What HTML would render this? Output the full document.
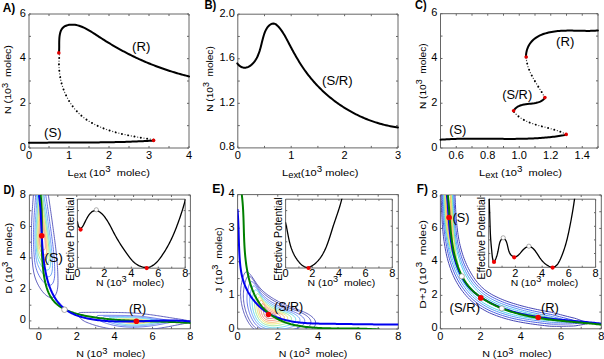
<!DOCTYPE html>
<html><head><meta charset="utf-8"><style>
html,body{margin:0;padding:0;background:#fff;}
svg{display:block;}
text{font-family:"Liberation Sans",sans-serif;}
</style></head><body>
<svg width="604" height="359" viewBox="0 0 604 359">
<rect width="604" height="359" fill="#fff"/>
<path d="M29,14 H189 V148 H29 Z M29,148 v-2.0 M29,14 v2.0 M49,148 v-2.0 M49,14 v2.0 M69,148 v-2.0 M69,14 v2.0 M89,148 v-2.0 M89,14 v2.0 M109,148 v-2.0 M109,14 v2.0 M129,148 v-2.0 M129,14 v2.0 M149,148 v-2.0 M149,14 v2.0 M169,148 v-2.0 M169,14 v2.0 M189,148 v-2.0 M189,14 v2.0 M29,148 h2.0 M189,148 h-2.0 M29,125.67 h2.0 M189,125.67 h-2.0 M29,103.33 h2.0 M189,103.33 h-2.0 M29,81 h2.0 M189,81 h-2.0 M29,58.67 h2.0 M189,58.67 h-2.0 M29,36.33 h2.0 M189,36.33 h-2.0 M29,14 h2.0 M189,14 h-2.0 " fill="none" stroke="#666666" stroke-width="1.0"/>
<text x="29" y="158.9" font-size="10" text-anchor="middle" font-weight="normal" fill="#000" textLength="6.11" lengthAdjust="spacingAndGlyphs">0</text>
<text x="69" y="158.9" font-size="10" text-anchor="middle" font-weight="normal" fill="#000" textLength="6.11" lengthAdjust="spacingAndGlyphs">1</text>
<text x="109" y="158.9" font-size="10" text-anchor="middle" font-weight="normal" fill="#000" textLength="6.11" lengthAdjust="spacingAndGlyphs">2</text>
<text x="149" y="158.9" font-size="10" text-anchor="middle" font-weight="normal" fill="#000" textLength="6.11" lengthAdjust="spacingAndGlyphs">3</text>
<text x="189" y="158.9" font-size="10" text-anchor="middle" font-weight="normal" fill="#000" textLength="6.11" lengthAdjust="spacingAndGlyphs">4</text>
<text x="25.9" y="150.5" font-size="10" text-anchor="end" font-weight="normal" fill="#000" textLength="6.11" lengthAdjust="spacingAndGlyphs">0</text>
<text x="25.9" y="105.83" font-size="10" text-anchor="end" font-weight="normal" fill="#000" textLength="6.11" lengthAdjust="spacingAndGlyphs">2</text>
<text x="25.9" y="61.17" font-size="10" text-anchor="end" font-weight="normal" fill="#000" textLength="6.11" lengthAdjust="spacingAndGlyphs">4</text>
<text x="25.9" y="16.5" font-size="10" text-anchor="end" font-weight="normal" fill="#000" textLength="6.11" lengthAdjust="spacingAndGlyphs">6</text>
<path d="M237.8,14.2 H398 V147.9 H237.8 Z M237.8,147.9 v-2.0 M237.8,14.2 v2.0 M264.5,147.9 v-2.0 M264.5,14.2 v2.0 M291.2,147.9 v-2.0 M291.2,14.2 v2.0 M317.9,147.9 v-2.0 M317.9,14.2 v2.0 M344.6,147.9 v-2.0 M344.6,14.2 v2.0 M371.3,147.9 v-2.0 M371.3,14.2 v2.0 M398,147.9 v-2.0 M398,14.2 v2.0 M237.8,147.9 h2.0 M398,147.9 h-2.0 M237.8,125.62 h2.0 M398,125.62 h-2.0 M237.8,103.33 h2.0 M398,103.33 h-2.0 M237.8,81.05 h2.0 M398,81.05 h-2.0 M237.8,58.77 h2.0 M398,58.77 h-2.0 M237.8,36.48 h2.0 M398,36.48 h-2.0 M237.8,14.2 h2.0 M398,14.2 h-2.0 " fill="none" stroke="#666666" stroke-width="1.0"/>
<text x="237.8" y="158.9" font-size="10" text-anchor="middle" font-weight="normal" fill="#000" textLength="6.11" lengthAdjust="spacingAndGlyphs">0</text>
<text x="291.2" y="158.9" font-size="10" text-anchor="middle" font-weight="normal" fill="#000" textLength="6.11" lengthAdjust="spacingAndGlyphs">1</text>
<text x="344.6" y="158.9" font-size="10" text-anchor="middle" font-weight="normal" fill="#000" textLength="6.11" lengthAdjust="spacingAndGlyphs">2</text>
<text x="398" y="158.9" font-size="10" text-anchor="middle" font-weight="normal" fill="#000" textLength="6.11" lengthAdjust="spacingAndGlyphs">3</text>
<text x="234.8" y="150.4" font-size="10" text-anchor="end" font-weight="normal" fill="#000" textLength="15.27" lengthAdjust="spacingAndGlyphs">0.8</text>
<text x="234.8" y="105.83" font-size="10" text-anchor="end" font-weight="normal" fill="#000" textLength="15.27" lengthAdjust="spacingAndGlyphs">1.2</text>
<text x="234.8" y="61.27" font-size="10" text-anchor="end" font-weight="normal" fill="#000" textLength="15.27" lengthAdjust="spacingAndGlyphs">1.6</text>
<text x="234.8" y="16.7" font-size="10" text-anchor="end" font-weight="normal" fill="#000" textLength="15.27" lengthAdjust="spacingAndGlyphs">2.0</text>
<path d="M440.5,13.7 H598 V148 H440.5 Z M440.5,148 v-2.0 M440.5,13.7 v2.0 M456.25,148 v-2.0 M456.25,13.7 v2.0 M472,148 v-2.0 M472,13.7 v2.0 M487.75,148 v-2.0 M487.75,13.7 v2.0 M503.5,148 v-2.0 M503.5,13.7 v2.0 M519.25,148 v-2.0 M519.25,13.7 v2.0 M535,148 v-2.0 M535,13.7 v2.0 M550.75,148 v-2.0 M550.75,13.7 v2.0 M566.5,148 v-2.0 M566.5,13.7 v2.0 M582.25,148 v-2.0 M582.25,13.7 v2.0 M598,148 v-2.0 M598,13.7 v2.0 M440.5,148 h2.0 M598,148 h-2.0 M440.5,125.62 h2.0 M598,125.62 h-2.0 M440.5,103.23 h2.0 M598,103.23 h-2.0 M440.5,80.85 h2.0 M598,80.85 h-2.0 M440.5,58.47 h2.0 M598,58.47 h-2.0 M440.5,36.08 h2.0 M598,36.08 h-2.0 M440.5,13.7 h2.0 M598,13.7 h-2.0 " fill="none" stroke="#666666" stroke-width="1.0"/>
<text x="456.25" y="158.9" font-size="10" text-anchor="middle" font-weight="normal" fill="#000" textLength="15.27" lengthAdjust="spacingAndGlyphs">0.6</text>
<text x="487.75" y="158.9" font-size="10" text-anchor="middle" font-weight="normal" fill="#000" textLength="15.27" lengthAdjust="spacingAndGlyphs">0.8</text>
<text x="519.25" y="158.9" font-size="10" text-anchor="middle" font-weight="normal" fill="#000" textLength="15.27" lengthAdjust="spacingAndGlyphs">1.0</text>
<text x="550.75" y="158.9" font-size="10" text-anchor="middle" font-weight="normal" fill="#000" textLength="15.27" lengthAdjust="spacingAndGlyphs">1.2</text>
<text x="582.25" y="158.9" font-size="10" text-anchor="middle" font-weight="normal" fill="#000" textLength="15.27" lengthAdjust="spacingAndGlyphs">1.4</text>
<text x="437.4" y="150.5" font-size="10" text-anchor="end" font-weight="normal" fill="#000" textLength="6.11" lengthAdjust="spacingAndGlyphs">0</text>
<text x="437.4" y="105.73" font-size="10" text-anchor="end" font-weight="normal" fill="#000" textLength="6.11" lengthAdjust="spacingAndGlyphs">2</text>
<text x="437.4" y="60.97" font-size="10" text-anchor="end" font-weight="normal" fill="#000" textLength="6.11" lengthAdjust="spacingAndGlyphs">4</text>
<text x="437.4" y="16.2" font-size="10" text-anchor="end" font-weight="normal" fill="#000" textLength="6.11" lengthAdjust="spacingAndGlyphs">6</text>
<path d="M29.4,195 H190.4 V328.8 H29.4 Z M38.87,328.8 v-2.0 M38.87,195 v2.0 M57.81,328.8 v-2.0 M57.81,195 v2.0 M76.75,328.8 v-2.0 M76.75,195 v2.0 M95.69,328.8 v-2.0 M95.69,195 v2.0 M114.64,328.8 v-2.0 M114.64,195 v2.0 M133.58,328.8 v-2.0 M133.58,195 v2.0 M152.52,328.8 v-2.0 M152.52,195 v2.0 M171.46,328.8 v-2.0 M171.46,195 v2.0 M190.4,328.8 v-2.0 M190.4,195 v2.0 M29.4,320.93 h2.0 M190.4,320.93 h-2.0 M29.4,305.19 h2.0 M190.4,305.19 h-2.0 M29.4,289.45 h2.0 M190.4,289.45 h-2.0 M29.4,273.71 h2.0 M190.4,273.71 h-2.0 M29.4,257.96 h2.0 M190.4,257.96 h-2.0 M29.4,242.22 h2.0 M190.4,242.22 h-2.0 M29.4,226.48 h2.0 M190.4,226.48 h-2.0 M29.4,210.74 h2.0 M190.4,210.74 h-2.0 M29.4,195 h2.0 M190.4,195 h-2.0 " fill="none" stroke="#666666" stroke-width="1.0"/>
<text x="38.87" y="339.8" font-size="10" text-anchor="middle" font-weight="normal" fill="#000" textLength="6.11" lengthAdjust="spacingAndGlyphs">0</text>
<text x="76.75" y="339.8" font-size="10" text-anchor="middle" font-weight="normal" fill="#000" textLength="6.11" lengthAdjust="spacingAndGlyphs">2</text>
<text x="114.64" y="339.8" font-size="10" text-anchor="middle" font-weight="normal" fill="#000" textLength="6.11" lengthAdjust="spacingAndGlyphs">4</text>
<text x="152.52" y="339.8" font-size="10" text-anchor="middle" font-weight="normal" fill="#000" textLength="6.11" lengthAdjust="spacingAndGlyphs">6</text>
<text x="190.4" y="339.8" font-size="10" text-anchor="middle" font-weight="normal" fill="#000" textLength="6.11" lengthAdjust="spacingAndGlyphs">8</text>
<text x="25.9" y="323.43" font-size="10" text-anchor="end" font-weight="normal" fill="#000" textLength="6.11" lengthAdjust="spacingAndGlyphs">0</text>
<text x="25.9" y="291.95" font-size="10" text-anchor="end" font-weight="normal" fill="#000" textLength="6.11" lengthAdjust="spacingAndGlyphs">2</text>
<text x="25.9" y="260.46" font-size="10" text-anchor="end" font-weight="normal" fill="#000" textLength="6.11" lengthAdjust="spacingAndGlyphs">4</text>
<text x="25.9" y="228.98" font-size="10" text-anchor="end" font-weight="normal" fill="#000" textLength="6.11" lengthAdjust="spacingAndGlyphs">6</text>
<text x="25.9" y="197.5" font-size="10" text-anchor="end" font-weight="normal" fill="#000" textLength="6.11" lengthAdjust="spacingAndGlyphs">8</text>
<path d="M237.6,194.6 H398.3 V329 H237.6 Z M237.6,329 v-2.0 M237.6,194.6 v2.0 M257.69,329 v-2.0 M257.69,194.6 v2.0 M277.77,329 v-2.0 M277.77,194.6 v2.0 M297.86,329 v-2.0 M297.86,194.6 v2.0 M317.95,329 v-2.0 M317.95,194.6 v2.0 M338.04,329 v-2.0 M338.04,194.6 v2.0 M358.12,329 v-2.0 M358.12,194.6 v2.0 M378.21,329 v-2.0 M378.21,194.6 v2.0 M398.3,329 v-2.0 M398.3,194.6 v2.0 M237.6,329 h2.0 M398.3,329 h-2.0 M237.6,312.2 h2.0 M398.3,312.2 h-2.0 M237.6,295.4 h2.0 M398.3,295.4 h-2.0 M237.6,278.6 h2.0 M398.3,278.6 h-2.0 M237.6,261.8 h2.0 M398.3,261.8 h-2.0 M237.6,245 h2.0 M398.3,245 h-2.0 M237.6,228.2 h2.0 M398.3,228.2 h-2.0 M237.6,211.4 h2.0 M398.3,211.4 h-2.0 M237.6,194.6 h2.0 M398.3,194.6 h-2.0 " fill="none" stroke="#666666" stroke-width="1.0"/>
<text x="237.6" y="339.8" font-size="10" text-anchor="middle" font-weight="normal" fill="#000" textLength="6.11" lengthAdjust="spacingAndGlyphs">0</text>
<text x="277.77" y="339.8" font-size="10" text-anchor="middle" font-weight="normal" fill="#000" textLength="6.11" lengthAdjust="spacingAndGlyphs">2</text>
<text x="317.95" y="339.8" font-size="10" text-anchor="middle" font-weight="normal" fill="#000" textLength="6.11" lengthAdjust="spacingAndGlyphs">4</text>
<text x="358.12" y="339.8" font-size="10" text-anchor="middle" font-weight="normal" fill="#000" textLength="6.11" lengthAdjust="spacingAndGlyphs">6</text>
<text x="398.3" y="339.8" font-size="10" text-anchor="middle" font-weight="normal" fill="#000" textLength="6.11" lengthAdjust="spacingAndGlyphs">8</text>
<text x="234.6" y="331.5" font-size="10" text-anchor="end" font-weight="normal" fill="#000" textLength="6.11" lengthAdjust="spacingAndGlyphs">0</text>
<text x="234.6" y="297.9" font-size="10" text-anchor="end" font-weight="normal" fill="#000" textLength="6.11" lengthAdjust="spacingAndGlyphs">1</text>
<text x="234.6" y="264.3" font-size="10" text-anchor="end" font-weight="normal" fill="#000" textLength="6.11" lengthAdjust="spacingAndGlyphs">2</text>
<text x="234.6" y="230.7" font-size="10" text-anchor="end" font-weight="normal" fill="#000" textLength="6.11" lengthAdjust="spacingAndGlyphs">3</text>
<text x="234.6" y="197.1" font-size="10" text-anchor="end" font-weight="normal" fill="#000" textLength="6.11" lengthAdjust="spacingAndGlyphs">4</text>
<path d="M440.4,195 H601.3 V328.8 H440.4 Z M440.4,328.8 v-2.0 M440.4,195 v2.0 M460.51,328.8 v-2.0 M460.51,195 v2.0 M480.62,328.8 v-2.0 M480.62,195 v2.0 M500.74,328.8 v-2.0 M500.74,195 v2.0 M520.85,328.8 v-2.0 M520.85,195 v2.0 M540.96,328.8 v-2.0 M540.96,195 v2.0 M561.07,328.8 v-2.0 M561.07,195 v2.0 M581.19,328.8 v-2.0 M581.19,195 v2.0 M601.3,328.8 v-2.0 M601.3,195 v2.0 M440.4,328.8 h2.0 M601.3,328.8 h-2.0 M440.4,312.07 h2.0 M601.3,312.07 h-2.0 M440.4,295.35 h2.0 M601.3,295.35 h-2.0 M440.4,278.62 h2.0 M601.3,278.62 h-2.0 M440.4,261.9 h2.0 M601.3,261.9 h-2.0 M440.4,245.18 h2.0 M601.3,245.18 h-2.0 M440.4,228.45 h2.0 M601.3,228.45 h-2.0 M440.4,211.72 h2.0 M601.3,211.72 h-2.0 M440.4,195 h2.0 M601.3,195 h-2.0 " fill="none" stroke="#666666" stroke-width="1.0"/>
<text x="440.4" y="339.8" font-size="10" text-anchor="middle" font-weight="normal" fill="#000" textLength="6.11" lengthAdjust="spacingAndGlyphs">0</text>
<text x="480.62" y="339.8" font-size="10" text-anchor="middle" font-weight="normal" fill="#000" textLength="6.11" lengthAdjust="spacingAndGlyphs">2</text>
<text x="520.85" y="339.8" font-size="10" text-anchor="middle" font-weight="normal" fill="#000" textLength="6.11" lengthAdjust="spacingAndGlyphs">4</text>
<text x="561.07" y="339.8" font-size="10" text-anchor="middle" font-weight="normal" fill="#000" textLength="6.11" lengthAdjust="spacingAndGlyphs">6</text>
<text x="601.3" y="339.8" font-size="10" text-anchor="middle" font-weight="normal" fill="#000" textLength="6.11" lengthAdjust="spacingAndGlyphs">8</text>
<text x="437.6" y="331.3" font-size="10" text-anchor="end" font-weight="normal" fill="#000" textLength="6.11" lengthAdjust="spacingAndGlyphs">0</text>
<text x="437.6" y="297.85" font-size="10" text-anchor="end" font-weight="normal" fill="#000" textLength="6.11" lengthAdjust="spacingAndGlyphs">2</text>
<text x="437.6" y="264.4" font-size="10" text-anchor="end" font-weight="normal" fill="#000" textLength="6.11" lengthAdjust="spacingAndGlyphs">4</text>
<text x="437.6" y="230.95" font-size="10" text-anchor="end" font-weight="normal" fill="#000" textLength="6.11" lengthAdjust="spacingAndGlyphs">6</text>
<text x="437.6" y="197.5" font-size="10" text-anchor="end" font-weight="normal" fill="#000" textLength="6.11" lengthAdjust="spacingAndGlyphs">8</text>
<text x="2.7" y="11.9" font-size="12.5" font-weight="bold" textLength="12.6" lengthAdjust="spacingAndGlyphs">A)</text>
<text x="204.4" y="8.9" font-size="12.5" font-weight="bold" textLength="11.9" lengthAdjust="spacingAndGlyphs">B)</text>
<text x="415" y="9.3" font-size="12.5" font-weight="bold" textLength="11.6" lengthAdjust="spacingAndGlyphs">C)</text>
<text x="3.4" y="193.9" font-size="12.5" font-weight="bold" textLength="11.2" lengthAdjust="spacingAndGlyphs">D)</text>
<text x="212.3" y="192.9" font-size="12.5" font-weight="bold" textLength="12.3" lengthAdjust="spacingAndGlyphs">E)</text>
<text x="416.7" y="192.6" font-size="12.5" font-weight="bold" textLength="11.2" lengthAdjust="spacingAndGlyphs">F)</text>
<text x="67.6" y="175.7" font-size="9.8" textLength="82.3" lengthAdjust="spacingAndGlyphs"><tspan dy="-0" font-size="9.8">L</tspan><tspan dy="2" font-size="8.33">ext</tspan><tspan dy="-2" font-size="9.8"> (10</tspan><tspan dy="-3.8" font-size="8.62">3</tspan><tspan dy="3.8" font-size="9.8">  molec)</tspan></text>
<text x="282" y="175.9" font-size="9.8" textLength="76.4" lengthAdjust="spacingAndGlyphs"><tspan dy="-0" font-size="9.8">L</tspan><tspan dy="2" font-size="8.33">ext</tspan><tspan dy="-2" font-size="9.8">(10</tspan><tspan dy="-3.8" font-size="8.62">3</tspan><tspan dy="3.8" font-size="9.8"> molec)</tspan></text>
<text x="479.1" y="176" font-size="9.8" textLength="82.8" lengthAdjust="spacingAndGlyphs"><tspan dy="-0" font-size="9.8">L</tspan><tspan dy="2" font-size="8.33">ext</tspan><tspan dy="-2" font-size="9.8"> (10</tspan><tspan dy="-3.8" font-size="8.62">3</tspan><tspan dy="3.8" font-size="9.8">  molec)</tspan></text>
<text x="76.2" y="357.3" font-size="9.8" textLength="69" lengthAdjust="spacingAndGlyphs"><tspan dy="-0" font-size="9.8">N (10</tspan><tspan dy="-3.8" font-size="8.62">3</tspan><tspan dy="3.8" font-size="9.8">  molec)</tspan></text>
<text x="278.8" y="357.3" font-size="9.8" textLength="68.6" lengthAdjust="spacingAndGlyphs"><tspan dy="-0" font-size="9.8">N (10</tspan><tspan dy="-3.8" font-size="8.62">3</tspan><tspan dy="3.8" font-size="9.8">  molec)</tspan></text>
<text x="482.2" y="357.3" font-size="9.8" textLength="69.3" lengthAdjust="spacingAndGlyphs"><tspan dy="-0" font-size="9.8">N (10</tspan><tspan dy="-3.8" font-size="8.62">3</tspan><tspan dy="3.8" font-size="9.8">  molec)</tspan></text>
<text transform="translate(11.4 114) rotate(-90)" x="0" y="0" font-size="9.8" textLength="68.9" lengthAdjust="spacingAndGlyphs"><tspan dy="-0" font-size="9.8">N (10</tspan><tspan dy="-3.8" font-size="8.62">3</tspan><tspan dy="3.8" font-size="9.8">  molec)</tspan></text>
<text transform="translate(212.9 111.8) rotate(-90)" x="0" y="0" font-size="9.8" textLength="65.6" lengthAdjust="spacingAndGlyphs"><tspan dy="-0" font-size="9.8">N (10</tspan><tspan dy="-3.8" font-size="8.62">3</tspan><tspan dy="3.8" font-size="9.8">  molec)</tspan></text>
<text transform="translate(425.6 109) rotate(-90)" x="0" y="0" font-size="9.8" textLength="65.6" lengthAdjust="spacingAndGlyphs"><tspan dy="-0" font-size="9.8">N (10</tspan><tspan dy="-3.8" font-size="8.62">3</tspan><tspan dy="3.8" font-size="9.8">  molec)</tspan></text>
<text transform="translate(11.8 293.7) rotate(-90)" x="0" y="0" font-size="9.8" textLength="70.9" lengthAdjust="spacingAndGlyphs"><tspan dy="-0" font-size="9.8">D (10</tspan><tspan dy="-3.8" font-size="8.62">3</tspan><tspan dy="3.8" font-size="9.8">  molec)</tspan></text>
<text transform="translate(222.2 292.9) rotate(-90)" x="0" y="0" font-size="9.8" textLength="65.6" lengthAdjust="spacingAndGlyphs"><tspan dy="-0" font-size="9.8">J (10</tspan><tspan dy="-3.8" font-size="8.62">3</tspan><tspan dy="3.8" font-size="9.8">  molec)</tspan></text>
<text transform="translate(425.8 308.8) rotate(-90)" x="0" y="0" font-size="9.8" textLength="88.7" lengthAdjust="spacingAndGlyphs"><tspan dy="-0" font-size="9.8">D+J (10</tspan><tspan dy="-3.8" font-size="8.62">3</tspan><tspan dy="3.8" font-size="9.8">  molec)</tspan></text>
<text x="132.1" y="50.62" font-size="12.5" textLength="18.4" lengthAdjust="spacingAndGlyphs">(R)</text>
<text x="44.1" y="137.22" font-size="12.5" textLength="17.4" lengthAdjust="spacingAndGlyphs">(S)</text>
<text x="322" y="84.83" font-size="12.5" textLength="30.7" lengthAdjust="spacingAndGlyphs">(S/R)</text>
<text x="449.3" y="134.03" font-size="12.5" textLength="17.1" lengthAdjust="spacingAndGlyphs">(S)</text>
<text x="502.2" y="99.42" font-size="12.5" textLength="30" lengthAdjust="spacingAndGlyphs">(S/R)</text>
<text x="556" y="45.73" font-size="12.5" textLength="18.3" lengthAdjust="spacingAndGlyphs">(R)</text>
<path d="M29,142.81 L30.52,142.79 L32.04,142.77 L33.56,142.75 L35.08,142.73 L36.6,142.71 L38.12,142.7 L39.64,142.68 L41.16,142.67 L42.68,142.66 L44.2,142.65 L45.72,142.64 L47.24,142.63 L48.76,142.62 L50.28,142.61 L51.8,142.6 L53.32,142.6 L54.84,142.59 L56.36,142.58 L57.88,142.58 L59.4,142.57 L60.92,142.57 L62.44,142.56 L63.96,142.56 L65.48,142.56 L67,142.55 L68.52,142.55 L70.04,142.54 L71.56,142.54 L73.08,142.54 L74.6,142.53 L76.12,142.53 L77.64,142.52 L79.16,142.52 L80.69,142.51 L82.21,142.5 L83.73,142.5 L85.25,142.49 L86.77,142.48 L88.29,142.47 L89.81,142.46 L91.33,142.45 L92.85,142.44 L94.37,142.43 L95.89,142.41 L97.41,142.4 L98.93,142.38 L100.45,142.37 L101.97,142.35 L103.49,142.33 L105.01,142.31 L106.53,142.28 L108.05,142.26 L109.57,142.23 L111.09,142.21 L112.61,142.18 L114.13,142.15 L115.65,142.11 L117.17,142.08 L118.69,142.04 L120.21,142 L121.73,141.96 L123.25,141.92 L124.77,141.88 L126.29,141.83 L127.81,141.78 L129.33,141.73 L130.84,141.67 L132.36,141.62 L133.88,141.56 L135.4,141.5 L136.92,141.43 L138.44,141.36 L139.95,141.29 L141.47,141.22 L142.99,141.15 L144.51,141.07 L146.02,140.99 L147.54,140.9 L149.06,140.81 L150.58,140.72 L152.09,140.63 L153.61,140.53" fill="none" stroke="#000" stroke-width="2.0" stroke-linecap="round" stroke-linejoin="round"/>
<path d="M153.46,139.69 L152.07,139.47 L150.66,139.25 L149.24,139.03 L147.81,138.81 L146.36,138.58 L144.91,138.35 L143.44,138.11 L141.97,137.87 L140.48,137.63 L138.99,137.37 L137.49,137.11 L135.98,136.85 L134.47,136.58 L132.95,136.3 L131.43,136.01 L129.9,135.71 L128.38,135.4 L126.85,135.08 L125.32,134.75 L123.79,134.41 L122.26,134.05 L120.74,133.69 L119.21,133.31 L117.69,132.92 L116.18,132.51 L114.66,132.09 L113.16,131.65 L111.66,131.2 L110.17,130.73 L108.69,130.25 L107.21,129.75 L105.75,129.22 L104.29,128.69 L102.85,128.13 L101.42,127.55 L100,126.95 L98.6,126.33 L97.21,125.69 L95.84,125.03 L94.48,124.35 L93.14,123.64 L91.82,122.91 L90.52,122.16 L89.24,121.38 L87.98,120.57 L86.74,119.74 L85.52,118.89 L84.32,118.01 L83.15,117.1 L82,116.16 L80.88,115.19 L79.78,114.2 L78.71,113.18 L77.67,112.13 L76.65,111.06 L75.66,109.96 L74.69,108.83 L73.76,107.69 L72.84,106.51 L71.96,105.32 L71.1,104.1 L70.27,102.86 L69.47,101.6 L68.7,100.32 L67.95,99.02 L67.24,97.7 L66.55,96.36 L65.89,95.01 L65.26,93.63 L64.65,92.24 L64.08,90.84 L63.54,89.42 L63.02,87.98 L62.54,86.53 L62.09,85.07 L61.66,83.6 L61.27,82.11 L60.9,80.61 L60.57,79.1 L60.27,77.58 L60,76.05 L59.76,74.51 L59.55,72.96 L59.37,71.41 L59.23,69.85 L59.12,68.28 L59.04,66.71 L58.99,65.13 L58.97,63.55 L58.99,61.96 L59.04,60.37 L59.12,58.78 L59.24,57.19 L59.39,55.59 L59.57,54 L59.79,52.4" fill="none" stroke="#000" stroke-width="2.0" stroke-linecap="round" stroke-dasharray="0.01 6.4"/>
<path d="M153.46,139.69 L152.07,139.47 L150.66,139.25 L149.24,139.03 L147.81,138.81 L146.36,138.58 L144.91,138.35 L143.44,138.11 L141.97,137.87 L140.48,137.63 L138.99,137.37 L137.49,137.11 L135.98,136.85 L134.47,136.58 L132.95,136.3 L131.43,136.01 L129.9,135.71 L128.38,135.4 L126.85,135.08 L125.32,134.75 L123.79,134.41 L122.26,134.05 L120.74,133.69 L119.21,133.31 L117.69,132.92 L116.18,132.51 L114.66,132.09 L113.16,131.65 L111.66,131.2 L110.17,130.73 L108.69,130.25 L107.21,129.75 L105.75,129.22 L104.29,128.69 L102.85,128.13 L101.42,127.55 L100,126.95 L98.6,126.33 L97.21,125.69 L95.84,125.03 L94.48,124.35 L93.14,123.64 L91.82,122.91 L90.52,122.16 L89.24,121.38 L87.98,120.57 L86.74,119.74 L85.52,118.89 L84.32,118.01 L83.15,117.1 L82,116.16 L80.88,115.19 L79.78,114.2 L78.71,113.18 L77.67,112.13 L76.65,111.06 L75.66,109.96 L74.69,108.83 L73.76,107.69 L72.84,106.51 L71.96,105.32 L71.1,104.1 L70.27,102.86 L69.47,101.6 L68.7,100.32 L67.95,99.02 L67.24,97.7 L66.55,96.36 L65.89,95.01 L65.26,93.63 L64.65,92.24 L64.08,90.84 L63.54,89.42 L63.02,87.98 L62.54,86.53 L62.09,85.07 L61.66,83.6 L61.27,82.11 L60.9,80.61 L60.57,79.1 L60.27,77.58 L60,76.05 L59.76,74.51 L59.55,72.96 L59.37,71.41 L59.23,69.85 L59.12,68.28 L59.04,66.71 L58.99,65.13 L58.97,63.55 L58.99,61.96 L59.04,60.37 L59.12,58.78 L59.24,57.19 L59.39,55.59 L59.57,54 L59.79,52.4" fill="none" stroke="#444" stroke-width="1.3" stroke-linecap="round" stroke-dasharray="0.01 6.4" stroke-dashoffset="-3.2"/>
<path d="M58.9,52.87 L59.05,51.7 L59.13,50.38 L59.18,48.94 L59.2,47.39 L59.2,45.77 L59.2,44.09 L59.21,42.37 L59.25,40.63 L59.33,38.89 L59.46,37.17 L59.67,35.49 L59.95,33.88 L60.34,32.35 L60.83,30.93 L61.45,29.63 L62.21,28.47 L63.13,27.48 L64.19,26.66 L65.37,25.99 L66.65,25.48 L67.99,25.1 L69.38,24.84 L70.78,24.7 L72.17,24.65 L73.55,24.7 L74.93,24.84 L76.31,25.07 L77.68,25.37 L79.04,25.75 L80.4,26.2 L81.75,26.71 L83.1,27.29 L84.45,27.91 L85.79,28.58 L87.13,29.3 L88.47,30.05 L89.8,30.84 L91.13,31.65 L92.46,32.49 L93.79,33.34 L95.11,34.2 L96.43,35.08 L97.76,35.95 L99.08,36.81 L100.4,37.67 L101.72,38.53 L103.04,39.37 L104.36,40.2 L105.68,41.03 L107,41.85 L108.32,42.65 L109.65,43.46 L110.97,44.25 L112.29,45.03 L113.61,45.81 L114.94,46.58 L116.26,47.34 L117.59,48.09 L118.91,48.83 L120.24,49.57 L121.57,50.3 L122.9,51.02 L124.23,51.73 L125.57,52.43 L126.9,53.13 L128.24,53.82 L129.58,54.5 L130.92,55.17 L132.26,55.84 L133.61,56.49 L134.96,57.14 L136.31,57.78 L137.66,58.42 L139.02,59.04 L140.38,59.66 L141.74,60.27 L143.11,60.88 L144.47,61.47 L145.85,62.06 L147.22,62.64 L148.6,63.22 L149.98,63.79 L151.37,64.34 L152.76,64.9 L154.15,65.44 L155.55,65.98 L156.95,66.51 L158.36,67.03 L159.77,67.55 L161.18,68.06 L162.6,68.56 L164.03,69.05 L165.46,69.54 L166.89,70.02 L168.33,70.5 L169.77,70.96 L171.22,71.42 L172.68,71.87 L174.14,72.32 L175.6,72.76 L177.08,73.19 L178.55,73.62 L180.04,74.04 L181.53,74.45 L183.02,74.85 L184.53,75.25 L186.03,75.65 L187.55,76.03 L189.07,76.41" fill="none" stroke="#000" stroke-width="2.0" stroke-linecap="round" stroke-linejoin="round"/>
<circle cx="58.8" cy="52.9" r="1.8" fill="#e00000"/>
<circle cx="153.6" cy="140.4" r="1.8" fill="#e00000"/>
<path d="M237.26,63.4 L238.43,64.81 L239.64,65.92 L240.87,66.76 L242.13,67.33 L243.4,67.65 L244.67,67.75 L245.94,67.63 L247.2,67.31 L248.43,66.81 L249.64,66.14 L250.82,65.32 L251.95,64.37 L253.03,63.3 L254.05,62.13 L255,60.87 L255.87,59.55 L256.67,58.16 L257.39,56.73 L258.05,55.25 L258.66,53.73 L259.21,52.18 L259.72,50.6 L260.19,49.01 L260.63,47.41 L261.05,45.8 L261.45,44.19 L261.84,42.59 L262.23,41.01 L262.63,39.45 L263.03,37.91 L263.45,36.41 L263.89,34.95 L264.36,33.54 L264.88,32.18 L265.43,30.89 L266.04,29.66 L266.7,28.51 L267.43,27.43 L268.23,26.45 L269.11,25.55 L270.07,24.77 L271.1,24.13 L272.18,23.69 L273.29,23.52 L274.41,23.64 L275.53,24.13 L276.63,24.92 L277.7,25.91 L278.72,27.01 L279.7,28.17 L280.64,29.37 L281.55,30.6 L282.42,31.88 L283.25,33.18 L284.07,34.51 L284.85,35.86 L285.62,37.23 L286.38,38.62 L287.12,40.01 L287.85,41.4 L288.58,42.8 L289.31,44.19 L290.04,45.57 L290.77,46.95 L291.5,48.32 L292.23,49.69 L292.97,51.05 L293.71,52.4 L294.46,53.74 L295.21,55.08 L295.97,56.41 L296.73,57.73 L297.51,59.04 L298.29,60.34 L299.07,61.64 L299.87,62.93 L300.68,64.21 L301.5,65.48 L302.33,66.74 L303.17,67.99 L304.02,69.24 L304.89,70.47 L305.77,71.69 L306.66,72.91 L307.57,74.11 L308.49,75.31 L309.43,76.49 L310.37,77.66 L311.33,78.83 L312.3,79.98 L313.29,81.12 L314.28,82.26 L315.29,83.38 L316.31,84.49 L317.35,85.59 L318.39,86.68 L319.45,87.75 L320.52,88.82 L321.6,89.87 L322.69,90.92 L323.79,91.95 L324.91,92.97 L326.03,93.97 L327.17,94.97 L328.31,95.95 L329.47,96.92 L330.64,97.88 L331.81,98.83 L333,99.76 L334.2,100.69 L335.41,101.59 L336.63,102.49 L337.85,103.37 L339.09,104.24 L340.33,105.1 L341.59,105.94 L342.85,106.77 L344.13,107.59 L345.41,108.39 L346.7,109.18 L348,109.95 L349.31,110.71 L350.63,111.46 L351.95,112.19 L353.28,112.91 L354.62,113.61 L355.97,114.3 L357.33,114.97 L358.69,115.63 L360.06,116.28 L361.44,116.91 L362.83,117.52 L364.22,118.12 L365.62,118.71 L367.03,119.27 L368.44,119.83 L369.86,120.36 L371.29,120.88 L372.72,121.39 L374.16,121.88 L375.6,122.35 L377.05,122.81 L378.51,123.25 L379.97,123.68 L381.44,124.08 L382.91,124.47 L384.39,124.85 L385.87,125.21 L387.36,125.55 L388.85,125.87 L390.35,126.17 L391.85,126.46 L393.36,126.73 L394.87,126.99 L396.38,127.22 L397.9,127.44" fill="none" stroke="#000" stroke-width="2.0" stroke-linecap="round" stroke-linejoin="round"/>
<path d="M440.5,139.72 L442.01,139.61 L443.52,139.5 L445.03,139.4 L446.53,139.31 L448.04,139.23 L449.56,139.15 L451.07,139.08 L452.58,139.01 L454.09,138.95 L455.61,138.9 L457.12,138.85 L458.64,138.81 L460.16,138.77 L461.67,138.74 L463.19,138.71 L464.71,138.69 L466.23,138.67 L467.75,138.66 L469.27,138.65 L470.79,138.64 L472.31,138.63 L473.84,138.63 L475.36,138.64 L476.88,138.64 L478.4,138.65 L479.93,138.65 L481.45,138.66 L482.98,138.68 L484.5,138.69 L486.03,138.7 L487.55,138.72 L489.07,138.74 L490.6,138.75 L492.12,138.77 L493.65,138.78 L495.18,138.8 L496.7,138.82 L498.23,138.83 L499.75,138.85 L501.28,138.86 L502.8,138.87 L504.33,138.88 L505.85,138.89 L507.37,138.89 L508.9,138.89 L510.42,138.89 L511.94,138.89 L513.47,138.88 L514.99,138.88 L516.51,138.86 L518.03,138.85 L519.56,138.82 L521.08,138.8 L522.6,138.77 L524.12,138.73 L525.64,138.69 L527.15,138.65 L528.67,138.6 L530.19,138.54 L531.71,138.48 L533.22,138.41 L534.74,138.34 L536.25,138.26 L537.76,138.17 L539.28,138.07 L540.79,137.97 L542.3,137.86 L543.81,137.74 L545.32,137.61 L546.82,137.48 L548.33,137.33 L549.84,137.18 L551.34,137.02 L552.84,136.85 L554.35,136.67 L555.85,136.48 L557.35,136.28 L558.85,136.06 L560.34,135.84 L561.84,135.61 L563.33,135.37 L564.83,135.11 L566.32,134.85" fill="none" stroke="#000" stroke-width="2.0" stroke-linecap="round" stroke-linejoin="round"/>
<path d="M566.19,134.41 L564.88,133.73 L563.54,133.09 L562.17,132.48 L560.77,131.91 L559.35,131.37 L557.9,130.86 L556.44,130.37 L554.96,129.91 L553.46,129.46 L551.94,129.03 L550.42,128.61 L548.88,128.2 L547.34,127.8 L545.8,127.4 L544.25,127 L542.7,126.6 L541.16,126.2 L539.62,125.78 L538.09,125.36 L536.56,124.92 L535.05,124.46 L533.55,123.98 L532.07,123.48 L530.6,122.95 L529.16,122.39 L527.73,121.8 L526.34,121.17 L524.97,120.5 L523.63,119.79 L522.32,119.04 L521.05,118.24 L519.81,117.38 L518.61,116.47 L517.45,115.51 L516.34,114.48 L515.27,113.4 L514.25,112.24 L513.28,111.02" fill="none" stroke="#000" stroke-width="2.0" stroke-linecap="round" stroke-dasharray="0.01 6.4"/>
<path d="M566.19,134.41 L564.88,133.73 L563.54,133.09 L562.17,132.48 L560.77,131.91 L559.35,131.37 L557.9,130.86 L556.44,130.37 L554.96,129.91 L553.46,129.46 L551.94,129.03 L550.42,128.61 L548.88,128.2 L547.34,127.8 L545.8,127.4 L544.25,127 L542.7,126.6 L541.16,126.2 L539.62,125.78 L538.09,125.36 L536.56,124.92 L535.05,124.46 L533.55,123.98 L532.07,123.48 L530.6,122.95 L529.16,122.39 L527.73,121.8 L526.34,121.17 L524.97,120.5 L523.63,119.79 L522.32,119.04 L521.05,118.24 L519.81,117.38 L518.61,116.47 L517.45,115.51 L516.34,114.48 L515.27,113.4 L514.25,112.24 L513.28,111.02" fill="none" stroke="#444" stroke-width="1.3" stroke-linecap="round" stroke-dasharray="0.01 6.4" stroke-dashoffset="-3.2"/>
<path d="M513.57,110.75 L514.54,109.38 L515.64,108.22 L516.86,107.25 L518.17,106.45 L519.57,105.79 L521.05,105.26 L522.59,104.84 L524.18,104.51 L525.81,104.25 L527.47,104.03 L529.14,103.84 L530.82,103.66 L532.48,103.46 L534.12,103.23 L535.73,102.95 L537.3,102.59 L538.8,102.14 L540.23,101.57 L541.58,100.87 L542.84,100.01 L543.98,98.98 L545.01,97.75" fill="none" stroke="#000" stroke-width="2.0" stroke-linecap="round" stroke-linejoin="round"/>
<path d="M544.83,97.62 L544.1,96.27 L543.35,94.93 L542.57,93.59 L541.78,92.26 L540.97,90.93 L540.15,89.6 L539.33,88.27 L538.49,86.94 L537.66,85.61 L536.83,84.28 L536.01,82.94 L535.19,81.6 L534.39,80.25 L533.61,78.9 L532.84,77.54 L532.1,76.16 L531.38,74.78 L530.7,73.38 L530.05,71.98 L529.43,70.56 L528.86,69.12 L528.33,67.67 L527.85,66.2 L527.42,64.72 L527.05,63.21 L526.73,61.69 L526.48,60.14 L526.29,58.57 L526.17,56.98" fill="none" stroke="#000" stroke-width="2.0" stroke-linecap="round" stroke-dasharray="0.01 6.4"/>
<path d="M544.83,97.62 L544.1,96.27 L543.35,94.93 L542.57,93.59 L541.78,92.26 L540.97,90.93 L540.15,89.6 L539.33,88.27 L538.49,86.94 L537.66,85.61 L536.83,84.28 L536.01,82.94 L535.19,81.6 L534.39,80.25 L533.61,78.9 L532.84,77.54 L532.1,76.16 L531.38,74.78 L530.7,73.38 L530.05,71.98 L529.43,70.56 L528.86,69.12 L528.33,67.67 L527.85,66.2 L527.42,64.72 L527.05,63.21 L526.73,61.69 L526.48,60.14 L526.29,58.57 L526.17,56.98" fill="none" stroke="#444" stroke-width="1.3" stroke-linecap="round" stroke-dasharray="0.01 6.4" stroke-dashoffset="-3.2"/>
<path d="M525.88,57.19 L525.98,55.35 L526.18,53.59 L526.47,51.91 L526.86,50.32 L527.33,48.8 L527.89,47.36 L528.53,46 L529.24,44.71 L530.04,43.5 L530.9,42.35 L531.83,41.27 L532.83,40.26 L533.88,39.31 L534.99,38.43 L536.16,37.6 L537.38,36.83 L538.64,36.12 L539.95,35.46 L541.29,34.86 L542.68,34.3 L544.09,33.8 L545.54,33.34 L547.01,32.92 L548.51,32.54 L550.02,32.21 L551.55,31.92 L553.09,31.66 L554.65,31.43 L556.22,31.24 L557.8,31.08 L559.39,30.94 L560.98,30.84 L562.58,30.75 L564.19,30.69 L565.8,30.64 L567.42,30.62 L569.03,30.6 L570.64,30.61 L572.25,30.62 L573.86,30.64 L575.46,30.67 L577.05,30.7 L578.64,30.74 L580.21,30.77 L581.78,30.81 L583.33,30.84 L584.87,30.87 L586.4,30.88 L587.91,30.89 L589.4,30.88 L590.87,30.87 L592.32,30.83 L593.75,30.78 L595.15,30.7 L596.53,30.6 L597.88,30.48" fill="none" stroke="#000" stroke-width="2.0" stroke-linecap="round" stroke-linejoin="round"/>
<circle cx="566.2" cy="134.4" r="1.8" fill="#e00000"/>
<circle cx="513.6" cy="110.8" r="1.8" fill="#e00000"/>
<circle cx="544.9" cy="97.6" r="1.8" fill="#e00000"/>
<circle cx="526.2" cy="57" r="1.8" fill="#e00000"/>
<defs>
<clipPath id="cD"><rect x="29.4" y="195" width="161" height="133.8"/></clipPath>
<clipPath id="cE"><rect x="237.6" y="194.6" width="160.7" height="134.4"/></clipPath>
<clipPath id="cF"><rect x="440.4" y="195" width="160.9" height="133.8"/></clipPath>
</defs>
<g clip-path="url(#cD)">
<path d="M38.95,139.18 L39.95,139.51 L40.94,140.51 L41.8,141.92 L42.47,143.57 L42.98,145.43 L43.35,147.45 L43.61,149.62 L43.77,151.9 L43.88,154.25 L43.94,156.65 L43.98,159.06 L44.03,161.45 L44.11,163.78 L44.24,166.04 L44.41,168.24 L44.61,170.39 L44.85,172.5 L45.11,174.56 L45.39,176.6 L45.7,178.61 L46.01,180.61 L46.34,182.6 L46.67,184.6 L47,186.6 L47.33,188.62 L47.65,190.66 L47.97,192.71 L48.29,194.77 L48.61,196.84 L48.93,198.91 L49.24,201 L49.55,203.09 L49.86,205.19 L50.16,207.3 L50.47,209.4 L50.77,211.51 L51.07,213.62 L51.37,215.73 L51.66,217.84 L51.96,219.94 L52.25,222.04 L52.54,224.14 L52.83,226.23 L53.12,228.31 L53.41,230.38 L53.69,232.44 L53.97,234.5 L54.25,236.56 L54.53,238.61 L54.8,240.65 L55.06,242.7 L55.32,244.74 L55.57,246.79 L55.81,248.83 L56.04,250.88 L56.27,252.93 L56.48,254.99 L56.68,257.05 L56.87,259.12 L57.05,261.2 L57.22,263.29 L57.37,265.39 L57.51,267.5 L57.63,269.62 L57.73,271.76 L57.82,273.91 L57.89,276.08 L57.95,278.26 L57.98,280.47 L57.98,282.68 L57.9,284.88 L57.74,287.06 L57.44,289.2 L56.99,291.28 L56.36,293.25 L55.52,294.98 L54.46,296.34 L53.17,297.21 L51.67,297.56 L50.08,297.41 L48.47,296.82 L46.86,295.86 L45.26,294.57 L43.71,293.01 L42.22,291.24 L40.81,289.31 L39.51,287.28 L38.32,285.21 L37.28,283.14 L36.37,281.09 L35.59,279.06 L34.92,277.03 L34.36,275.02 L33.88,273.01 L33.49,271 L33.16,269 L32.89,266.99 L32.66,264.99 L32.46,262.97 L32.29,260.95 L32.13,258.91 L31.99,256.87 L31.86,254.81 L31.75,252.75 L31.65,250.68 L31.57,248.61 L31.5,246.53 L31.45,244.44 L31.41,242.34 L31.38,240.24 L31.36,238.14 L31.36,236.03 L31.37,233.92 L31.4,231.81 L31.43,229.69 L31.48,227.57 L31.54,225.46 L31.61,223.34 L31.69,221.22 L31.78,219.1 L31.88,216.98 L31.99,214.87 L32.11,212.76 L32.24,210.65 L32.38,208.54 L32.53,206.44 L32.69,204.34 L32.84,202.24 L33,200.15 L33.16,198.06 L33.31,195.98 L33.46,193.89 L33.6,191.81 L33.73,189.73 L33.85,187.66 L33.96,185.59 L34.05,183.52 L34.12,181.45 L34.17,179.38 L34.19,177.32 L34.19,175.26 L34.17,173.2 L34.12,171.14 L34.07,169.07 L34.02,167 L33.98,164.91 L33.97,162.8 L33.98,160.68 L34.04,158.53 L34.15,156.36 L34.33,154.15 L34.57,151.91 L34.9,149.63 L35.32,147.31 L35.84,144.98 L36.47,142.8 L37.19,140.98 L38.02,139.71 L38.95,139.18Z" fill="none" stroke="#4646b4" stroke-width="0.85" stroke-opacity="1.0" stroke-linejoin="round"/>
<path d="M39.52,158.64 L40.32,158.91 L41.11,159.71 L41.8,160.84 L42.34,162.16 L42.75,163.64 L43.04,165.26 L43.25,167 L43.38,168.82 L43.46,170.7 L43.51,172.62 L43.54,174.55 L43.58,176.46 L43.65,178.32 L43.75,180.13 L43.89,181.9 L44.05,183.61 L44.24,185.3 L44.45,186.95 L44.68,188.58 L44.92,190.19 L45.17,191.79 L45.43,193.38 L45.7,194.98 L45.96,196.58 L46.22,198.2 L46.48,199.83 L46.74,201.47 L47,203.11 L47.25,204.77 L47.5,206.43 L47.75,208.1 L48,209.77 L48.25,211.45 L48.49,213.14 L48.73,214.82 L48.97,216.51 L49.21,218.2 L49.45,219.88 L49.69,221.57 L49.92,223.25 L50.16,224.93 L50.39,226.61 L50.62,228.28 L50.86,229.95 L51.08,231.6 L51.31,233.26 L51.54,234.9 L51.76,236.55 L51.98,238.19 L52.2,239.82 L52.41,241.46 L52.61,243.09 L52.81,244.73 L53.01,246.36 L53.19,248 L53.37,249.65 L53.54,251.29 L53.71,252.94 L53.86,254.6 L54,256.26 L54.14,257.93 L54.26,259.61 L54.37,261.3 L54.46,263 L54.55,264.71 L54.62,266.43 L54.68,268.16 L54.72,269.91 L54.74,271.67 L54.74,273.44 L54.68,275.21 L54.55,276.95 L54.31,278.66 L53.95,280.33 L53.45,281.9 L52.78,283.28 L51.93,284.37 L50.89,285.07 L49.7,285.34 L48.43,285.23 L47.14,284.76 L45.85,283.99 L44.57,282.96 L43.33,281.71 L42.14,280.29 L41.01,278.75 L39.96,277.12 L39.02,275.47 L38.18,273.81 L37.46,272.17 L36.83,270.55 L36.3,268.93 L35.85,267.31 L35.47,265.71 L35.15,264.1 L34.89,262.5 L34.67,260.9 L34.49,259.29 L34.33,257.68 L34.19,256.06 L34.06,254.43 L33.95,252.79 L33.85,251.15 L33.76,249.5 L33.68,247.85 L33.62,246.19 L33.56,244.52 L33.52,242.85 L33.49,241.17 L33.46,239.49 L33.45,237.81 L33.45,236.13 L33.46,234.44 L33.48,232.75 L33.51,231.05 L33.54,229.36 L33.59,227.67 L33.64,225.97 L33.71,224.28 L33.78,222.58 L33.86,220.89 L33.95,219.2 L34.05,217.51 L34.15,215.82 L34.27,214.13 L34.39,212.45 L34.51,210.77 L34.63,209.09 L34.76,207.42 L34.89,205.75 L35.01,204.08 L35.13,202.41 L35.24,200.75 L35.35,199.09 L35.44,197.43 L35.53,195.77 L35.6,194.11 L35.65,192.46 L35.69,190.81 L35.71,189.16 L35.71,187.51 L35.69,185.86 L35.66,184.21 L35.62,182.56 L35.58,180.9 L35.55,179.23 L35.53,177.54 L35.55,175.84 L35.59,174.13 L35.68,172.39 L35.82,170.62 L36.02,168.83 L36.28,167.01 L36.62,165.15 L37.03,163.28 L37.53,161.54 L38.11,160.08 L38.77,159.07 L39.52,158.64Z" fill="none" stroke="#4b5fe6" stroke-width="0.85" stroke-opacity="1.0" stroke-linejoin="round"/>
<path d="M39.92,172.27 L40.58,172.49 L41.23,173.15 L41.8,174.08 L42.24,175.17 L42.58,176.39 L42.82,177.73 L42.99,179.16 L43.1,180.66 L43.17,182.22 L43.21,183.8 L43.24,185.39 L43.27,186.96 L43.33,188.5 L43.41,190 L43.52,191.45 L43.66,192.87 L43.81,194.26 L43.98,195.62 L44.17,196.96 L44.37,198.29 L44.58,199.61 L44.8,200.93 L45.01,202.24 L45.23,203.57 L45.45,204.9 L45.66,206.25 L45.88,207.6 L46.09,208.96 L46.3,210.32 L46.5,211.69 L46.71,213.07 L46.91,214.45 L47.12,215.84 L47.32,217.23 L47.52,218.62 L47.72,220.01 L47.92,221.4 L48.11,222.79 L48.31,224.18 L48.5,225.57 L48.7,226.96 L48.89,228.34 L49.08,229.72 L49.27,231.09 L49.46,232.46 L49.65,233.82 L49.83,235.18 L50.02,236.54 L50.2,237.89 L50.38,239.24 L50.55,240.59 L50.72,241.94 L50.89,243.29 L51.05,244.64 L51.2,245.99 L51.35,247.34 L51.49,248.7 L51.62,250.06 L51.75,251.43 L51.87,252.8 L51.98,254.18 L52.08,255.57 L52.17,256.96 L52.25,258.36 L52.32,259.77 L52.38,261.19 L52.42,262.62 L52.46,264.06 L52.48,265.52 L52.48,266.98 L52.43,268.43 L52.32,269.87 L52.12,271.28 L51.83,272.66 L51.41,273.96 L50.86,275.1 L50.16,276 L49.3,276.57 L48.32,276.8 L47.27,276.7 L46.2,276.31 L45.14,275.68 L44.09,274.83 L43.06,273.8 L42.08,272.63 L41.15,271.35 L40.29,270.02 L39.51,268.65 L38.82,267.28 L38.22,265.93 L37.7,264.59 L37.26,263.25 L36.89,261.92 L36.57,260.6 L36.31,259.27 L36.1,257.95 L35.92,256.63 L35.77,255.3 L35.64,253.97 L35.52,252.63 L35.42,251.29 L35.32,249.94 L35.24,248.59 L35.17,247.23 L35.1,245.86 L35.05,244.49 L35,243.12 L34.97,241.74 L34.94,240.36 L34.92,238.97 L34.91,237.58 L34.91,236.19 L34.92,234.8 L34.93,233.4 L34.96,232.01 L34.99,230.61 L35.03,229.21 L35.07,227.81 L35.12,226.41 L35.18,225.02 L35.25,223.62 L35.33,222.22 L35.41,220.83 L35.49,219.44 L35.59,218.05 L35.68,216.66 L35.78,215.27 L35.89,213.89 L35.99,212.51 L36.1,211.13 L36.2,209.75 L36.3,208.38 L36.39,207.01 L36.48,205.63 L36.56,204.27 L36.62,202.9 L36.68,201.53 L36.73,200.17 L36.76,198.8 L36.78,197.44 L36.78,196.08 L36.76,194.72 L36.73,193.36 L36.7,192 L36.67,190.63 L36.64,189.25 L36.63,187.86 L36.64,186.46 L36.68,185.04 L36.75,183.61 L36.87,182.15 L37.03,180.67 L37.25,179.17 L37.52,177.63 L37.87,176.1 L38.28,174.66 L38.76,173.46 L39.3,172.62 L39.92,172.27Z" fill="none" stroke="#5a96f5" stroke-width="0.85" stroke-opacity="1.0" stroke-linejoin="round"/>
<path d="M40.23,182.97 L40.78,183.16 L41.33,183.71 L41.8,184.48 L42.17,185.39 L42.45,186.41 L42.65,187.52 L42.79,188.72 L42.89,189.97 L42.94,191.27 L42.97,192.58 L43,193.91 L43.03,195.22 L43.07,196.5 L43.14,197.75 L43.23,198.96 L43.35,200.14 L43.48,201.3 L43.62,202.43 L43.78,203.55 L43.94,204.66 L44.12,205.76 L44.3,206.86 L44.48,207.95 L44.66,209.06 L44.84,210.17 L45.02,211.29 L45.2,212.41 L45.37,213.55 L45.55,214.68 L45.72,215.83 L45.89,216.98 L46.06,218.13 L46.23,219.28 L46.4,220.44 L46.57,221.6 L46.73,222.76 L46.9,223.92 L47.06,225.08 L47.22,226.24 L47.39,227.39 L47.55,228.55 L47.71,229.7 L47.87,230.85 L48.03,231.99 L48.18,233.13 L48.34,234.27 L48.5,235.4 L48.65,236.53 L48.8,237.66 L48.95,238.78 L49.09,239.91 L49.23,241.03 L49.37,242.16 L49.51,243.28 L49.63,244.41 L49.76,245.54 L49.87,246.67 L49.99,247.8 L50.09,248.94 L50.19,250.09 L50.28,251.23 L50.36,252.39 L50.44,253.55 L50.51,254.72 L50.56,255.89 L50.61,257.07 L50.65,258.27 L50.68,259.47 L50.7,260.68 L50.7,261.9 L50.66,263.11 L50.56,264.31 L50.4,265.49 L50.15,266.63 L49.81,267.71 L49.35,268.66 L48.77,269.41 L48.05,269.89 L47.23,270.08 L46.36,270 L45.47,269.68 L44.58,269.15 L43.71,268.44 L42.85,267.58 L42.03,266.61 L41.26,265.55 L40.54,264.43 L39.89,263.29 L39.31,262.15 L38.82,261.03 L38.39,259.91 L38.02,258.79 L37.71,257.68 L37.45,256.58 L37.23,255.48 L37.05,254.37 L36.9,253.27 L36.77,252.17 L36.66,251.06 L36.57,249.94 L36.48,248.83 L36.4,247.7 L36.33,246.57 L36.27,245.44 L36.22,244.3 L36.17,243.16 L36.14,242.01 L36.11,240.87 L36.08,239.71 L36.07,238.56 L36.06,237.4 L36.06,236.24 L36.07,235.08 L36.08,233.92 L36.1,232.76 L36.12,231.59 L36.16,230.43 L36.19,229.26 L36.24,228.1 L36.29,226.93 L36.34,225.77 L36.4,224.6 L36.47,223.44 L36.54,222.28 L36.62,221.12 L36.7,219.97 L36.79,218.81 L36.87,217.66 L36.96,216.51 L37.05,215.36 L37.13,214.21 L37.21,213.07 L37.29,211.92 L37.36,210.78 L37.43,209.64 L37.49,208.5 L37.54,207.36 L37.57,206.22 L37.6,205.09 L37.62,203.95 L37.62,202.82 L37.6,201.69 L37.58,200.55 L37.55,199.41 L37.52,198.27 L37.5,197.12 L37.49,195.97 L37.5,194.8 L37.53,193.62 L37.59,192.42 L37.69,191.21 L37.82,189.98 L38,188.72 L38.24,187.45 L38.52,186.16 L38.87,184.97 L39.27,183.96 L39.72,183.26 L40.23,182.97Z" fill="none" stroke="#50d2f0" stroke-width="0.85" stroke-opacity="1.0" stroke-linejoin="round"/>
<path d="M40.49,191.73 L40.95,191.88 L41.41,192.35 L41.8,192.99 L42.11,193.75 L42.34,194.61 L42.51,195.54 L42.63,196.54 L42.71,197.58 L42.75,198.67 L42.78,199.77 L42.8,200.88 L42.83,201.97 L42.86,203.05 L42.92,204.09 L43,205.1 L43.09,206.09 L43.2,207.06 L43.32,208.01 L43.45,208.94 L43.59,209.87 L43.74,210.79 L43.89,211.71 L44.04,212.63 L44.19,213.55 L44.34,214.48 L44.49,215.41 L44.64,216.36 L44.79,217.3 L44.93,218.25 L45.08,219.21 L45.22,220.17 L45.36,221.13 L45.51,222.1 L45.65,223.07 L45.79,224.04 L45.93,225.01 L46.06,225.98 L46.2,226.95 L46.34,227.91 L46.47,228.88 L46.61,229.85 L46.74,230.81 L46.87,231.77 L47.01,232.73 L47.14,233.68 L47.27,234.63 L47.4,235.58 L47.53,236.53 L47.65,237.47 L47.78,238.41 L47.9,239.35 L48.02,240.29 L48.13,241.23 L48.24,242.17 L48.35,243.11 L48.45,244.06 L48.55,245 L48.65,245.95 L48.73,246.91 L48.82,247.86 L48.89,248.82 L48.96,249.79 L49.03,250.76 L49.08,251.74 L49.13,252.72 L49.17,253.71 L49.2,254.71 L49.23,255.71 L49.24,256.72 L49.24,257.74 L49.21,258.76 L49.13,259.76 L49,260.74 L48.79,261.7 L48.5,262.61 L48.11,263.4 L47.63,264.03 L47.03,264.43 L46.34,264.59 L45.61,264.52 L44.87,264.25 L44.13,263.81 L43.39,263.21 L42.68,262.49 L41.99,261.68 L41.35,260.79 L40.74,259.86 L40.2,258.91 L39.72,257.96 L39.3,257.01 L38.94,256.08 L38.64,255.14 L38.38,254.22 L38.16,253.29 L37.98,252.37 L37.82,251.45 L37.7,250.53 L37.59,249.6 L37.5,248.68 L37.42,247.74 L37.35,246.81 L37.29,245.87 L37.23,244.92 L37.18,243.98 L37.13,243.02 L37.09,242.07 L37.06,241.11 L37.04,240.15 L37.02,239.19 L37.01,238.22 L37,237.25 L37,236.28 L37,235.31 L37.01,234.34 L37.03,233.37 L37.05,232.39 L37.08,231.42 L37.11,230.45 L37.15,229.47 L37.19,228.5 L37.24,227.52 L37.29,226.55 L37.34,225.58 L37.4,224.61 L37.47,223.64 L37.54,222.67 L37.61,221.71 L37.68,220.74 L37.75,219.78 L37.82,218.82 L37.9,217.86 L37.96,216.9 L38.03,215.94 L38.09,214.99 L38.14,214.03 L38.19,213.08 L38.23,212.13 L38.27,211.18 L38.29,210.23 L38.3,209.28 L38.3,208.33 L38.29,207.38 L38.27,206.43 L38.24,205.48 L38.22,204.53 L38.2,203.57 L38.2,202.6 L38.2,201.62 L38.23,200.64 L38.28,199.63 L38.36,198.62 L38.47,197.59 L38.63,196.54 L38.82,195.47 L39.06,194.4 L39.35,193.4 L39.68,192.56 L40.06,191.97 L40.49,191.73Z" fill="none" stroke="#8ce68c" stroke-width="0.85" stroke-opacity="1.0" stroke-linejoin="round"/>
<path d="M40.72,199.52 L41.1,199.64 L41.47,200.03 L41.8,200.56 L42.06,201.19 L42.25,201.89 L42.39,202.66 L42.49,203.49 L42.55,204.35 L42.59,205.25 L42.61,206.16 L42.63,207.07 L42.65,207.98 L42.68,208.87 L42.73,209.73 L42.79,210.56 L42.87,211.38 L42.96,212.18 L43.06,212.96 L43.17,213.74 L43.28,214.5 L43.4,215.26 L43.52,216.02 L43.65,216.78 L43.78,217.54 L43.9,218.31 L44.02,219.08 L44.15,219.86 L44.27,220.64 L44.39,221.43 L44.51,222.22 L44.63,223.01 L44.74,223.81 L44.86,224.6 L44.98,225.4 L45.09,226.2 L45.21,227 L45.32,227.81 L45.43,228.61 L45.55,229.41 L45.66,230.21 L45.77,231.01 L45.88,231.8 L45.99,232.6 L46.1,233.39 L46.21,234.17 L46.32,234.96 L46.43,235.74 L46.53,236.52 L46.64,237.3 L46.74,238.08 L46.84,238.86 L46.94,239.63 L47.03,240.41 L47.12,241.19 L47.21,241.96 L47.3,242.74 L47.38,243.53 L47.46,244.31 L47.53,245.1 L47.6,245.89 L47.66,246.68 L47.72,247.48 L47.77,248.28 L47.82,249.09 L47.86,249.9 L47.89,250.72 L47.92,251.54 L47.94,252.37 L47.95,253.21 L47.95,254.05 L47.92,254.89 L47.86,255.71 L47.74,256.53 L47.57,257.32 L47.33,258.07 L47.01,258.72 L46.61,259.24 L46.12,259.57 L45.55,259.7 L44.95,259.65 L44.33,259.42 L43.72,259.06 L43.12,258.57 L42.53,257.97 L41.96,257.3 L41.42,256.57 L40.93,255.8 L40.48,255.01 L40.08,254.22 L39.74,253.45 L39.44,252.67 L39.19,251.9 L38.97,251.14 L38.79,250.37 L38.64,249.61 L38.52,248.85 L38.41,248.09 L38.33,247.32 L38.25,246.56 L38.19,245.79 L38.13,245.02 L38.07,244.24 L38.02,243.46 L37.98,242.68 L37.94,241.89 L37.91,241.1 L37.89,240.31 L37.87,239.52 L37.85,238.72 L37.84,237.92 L37.83,237.12 L37.83,236.32 L37.84,235.52 L37.85,234.72 L37.86,233.91 L37.88,233.11 L37.9,232.3 L37.93,231.5 L37.96,230.69 L37.99,229.89 L38.03,229.08 L38.07,228.28 L38.12,227.48 L38.17,226.68 L38.22,225.88 L38.28,225.08 L38.34,224.28 L38.4,223.48 L38.46,222.69 L38.52,221.89 L38.57,221.1 L38.63,220.31 L38.68,219.52 L38.73,218.73 L38.78,217.94 L38.82,217.15 L38.85,216.37 L38.88,215.58 L38.9,214.8 L38.91,214.01 L38.91,213.23 L38.9,212.45 L38.88,211.66 L38.86,210.88 L38.84,210.09 L38.83,209.3 L38.82,208.5 L38.83,207.69 L38.85,206.87 L38.89,206.05 L38.96,205.21 L39.05,204.36 L39.18,203.49 L39.34,202.61 L39.54,201.72 L39.77,200.9 L40.05,200.2 L40.36,199.72 L40.72,199.52Z" fill="none" stroke="#ebe65a" stroke-width="0.85" stroke-opacity="1.0" stroke-linejoin="round"/>
<path d="M40.94,207.3 L41.25,207.4 L41.54,207.7 L41.8,208.13 L42,208.62 L42.15,209.18 L42.27,209.79 L42.34,210.44 L42.39,211.12 L42.42,211.83 L42.44,212.55 L42.45,213.27 L42.47,213.98 L42.49,214.68 L42.53,215.36 L42.58,216.02 L42.64,216.67 L42.71,217.3 L42.79,217.92 L42.88,218.53 L42.97,219.13 L43.06,219.73 L43.16,220.33 L43.26,220.93 L43.36,221.53 L43.46,222.14 L43.56,222.75 L43.65,223.36 L43.75,223.98 L43.84,224.6 L43.94,225.22 L44.03,225.85 L44.12,226.48 L44.22,227.11 L44.31,227.74 L44.4,228.37 L44.49,229 L44.58,229.64 L44.67,230.27 L44.76,230.9 L44.85,231.53 L44.93,232.16 L45.02,232.79 L45.11,233.42 L45.2,234.04 L45.28,234.66 L45.37,235.28 L45.45,235.9 L45.54,236.52 L45.62,237.13 L45.7,237.75 L45.78,238.36 L45.86,238.97 L45.93,239.59 L46,240.2 L46.07,240.81 L46.14,241.43 L46.2,242.05 L46.27,242.67 L46.32,243.29 L46.38,243.91 L46.43,244.54 L46.47,245.17 L46.51,245.8 L46.55,246.44 L46.58,247.08 L46.61,247.72 L46.63,248.37 L46.64,249.03 L46.65,249.69 L46.65,250.35 L46.63,251.01 L46.58,251.67 L46.49,252.31 L46.36,252.94 L46.17,253.53 L45.92,254.04 L45.6,254.45 L45.21,254.71 L44.76,254.82 L44.29,254.77 L43.8,254.6 L43.32,254.31 L42.84,253.92 L42.37,253.45 L41.93,252.92 L41.5,252.34 L41.11,251.73 L40.76,251.11 L40.44,250.49 L40.17,249.88 L39.94,249.27 L39.74,248.66 L39.57,248.06 L39.42,247.45 L39.31,246.85 L39.21,246.25 L39.13,245.65 L39.06,245.05 L39,244.44 L38.95,243.83 L38.9,243.22 L38.86,242.61 L38.82,241.99 L38.79,241.38 L38.76,240.76 L38.73,240.13 L38.71,239.51 L38.69,238.88 L38.68,238.25 L38.67,237.62 L38.67,236.99 L38.67,236.36 L38.67,235.73 L38.68,235.09 L38.69,234.46 L38.7,233.82 L38.72,233.19 L38.74,232.55 L38.77,231.92 L38.79,231.28 L38.82,230.65 L38.86,230.01 L38.89,229.38 L38.93,228.74 L38.98,228.11 L39.02,227.48 L39.07,226.85 L39.11,226.22 L39.16,225.6 L39.21,224.97 L39.25,224.34 L39.3,223.72 L39.34,223.09 L39.38,222.47 L39.42,221.85 L39.45,221.23 L39.47,220.61 L39.49,219.98 L39.51,219.37 L39.52,218.75 L39.52,218.13 L39.51,217.51 L39.5,216.89 L39.48,216.27 L39.47,215.65 L39.45,215.02 L39.45,214.39 L39.46,213.75 L39.47,213.11 L39.51,212.46 L39.56,211.8 L39.63,211.12 L39.73,210.44 L39.86,209.74 L40.01,209.04 L40.2,208.39 L40.42,207.84 L40.67,207.46 L40.94,207.3Z" fill="none" stroke="#f5aa5a" stroke-width="0.85" stroke-opacity="1.0" stroke-linejoin="round"/>
<path d="M41.17,215.09 L41.39,215.16 L41.61,215.38 L41.8,215.69 L41.95,216.06 L42.06,216.46 L42.14,216.91 L42.2,217.39 L42.23,217.89 L42.26,218.41 L42.27,218.93 L42.28,219.46 L42.29,219.99 L42.31,220.5 L42.34,221 L42.37,221.48 L42.42,221.96 L42.47,222.42 L42.53,222.87 L42.59,223.32 L42.66,223.76 L42.73,224.2 L42.8,224.64 L42.87,225.08 L42.94,225.52 L43.02,225.97 L43.09,226.42 L43.16,226.87 L43.23,227.32 L43.3,227.77 L43.37,228.23 L43.44,228.69 L43.5,229.15 L43.57,229.61 L43.64,230.08 L43.71,230.54 L43.77,231 L43.84,231.47 L43.9,231.93 L43.97,232.39 L44.03,232.86 L44.1,233.32 L44.16,233.78 L44.23,234.24 L44.29,234.7 L44.35,235.15 L44.42,235.61 L44.48,236.06 L44.54,236.51 L44.6,236.96 L44.66,237.41 L44.72,237.86 L44.77,238.31 L44.83,238.76 L44.88,239.21 L44.93,239.66 L44.98,240.11 L45.03,240.57 L45.07,241.02 L45.12,241.48 L45.16,241.93 L45.19,242.39 L45.23,242.86 L45.26,243.32 L45.28,243.79 L45.31,244.26 L45.33,244.73 L45.34,245.21 L45.35,245.69 L45.36,246.17 L45.36,246.66 L45.34,247.14 L45.31,247.62 L45.24,248.09 L45.14,248.55 L45,248.99 L44.82,249.37 L44.59,249.67 L44.3,249.86 L43.97,249.93 L43.62,249.9 L43.27,249.77 L42.91,249.56 L42.56,249.28 L42.22,248.93 L41.89,248.54 L41.58,248.12 L41.3,247.67 L41.04,247.22 L40.81,246.76 L40.61,246.31 L40.43,245.86 L40.29,245.42 L40.16,244.97 L40.06,244.53 L39.97,244.09 L39.9,243.65 L39.84,243.21 L39.79,242.77 L39.75,242.32 L39.71,241.88 L39.67,241.43 L39.64,240.98 L39.61,240.53 L39.59,240.08 L39.57,239.62 L39.55,239.16 L39.53,238.71 L39.52,238.25 L39.51,237.79 L39.51,237.32 L39.5,236.86 L39.5,236.4 L39.51,235.93 L39.51,235.47 L39.52,235 L39.53,234.54 L39.54,234.07 L39.56,233.6 L39.57,233.14 L39.59,232.67 L39.62,232.21 L39.64,231.74 L39.67,231.28 L39.7,230.81 L39.73,230.35 L39.76,229.89 L39.79,229.42 L39.83,228.96 L39.86,228.5 L39.9,228.04 L39.93,227.58 L39.97,227.13 L40,226.67 L40.03,226.21 L40.05,225.76 L40.07,225.3 L40.09,224.84 L40.11,224.39 L40.12,223.93 L40.13,223.48 L40.13,223.03 L40.12,222.57 L40.11,222.12 L40.1,221.67 L40.09,221.21 L40.08,220.75 L40.08,220.29 L40.08,219.82 L40.09,219.35 L40.12,218.87 L40.16,218.38 L40.21,217.89 L40.28,217.39 L40.37,216.88 L40.49,216.37 L40.63,215.89 L40.79,215.49 L40.97,215.21 L41.17,215.09Z" fill="none" stroke="#f07864" stroke-width="0.85" stroke-opacity="1.0" stroke-linejoin="round"/>
<path d="M78.22,313.57 L78.97,312.94 L80.24,312.6 L81.83,312.46 L83.55,312.42 L85.24,312.4 L86.84,312.39 L88.38,312.37 L89.86,312.35 L91.31,312.34 L92.72,312.32 L94.12,312.32 L95.52,312.31 L96.93,312.31 L98.34,312.31 L99.76,312.32 L101.19,312.33 L102.62,312.34 L104.06,312.35 L105.51,312.37 L106.96,312.38 L108.41,312.4 L109.88,312.42 L111.34,312.43 L112.81,312.45 L114.29,312.47 L115.77,312.49 L117.25,312.51 L118.73,312.54 L120.21,312.56 L121.7,312.59 L123.18,312.63 L124.66,312.67 L126.14,312.72 L127.62,312.77 L129.1,312.82 L130.57,312.89 L132.04,312.96 L133.5,313.04 L134.96,313.13 L136.41,313.23 L137.85,313.34 L139.29,313.46 L140.72,313.59 L142.14,313.72 L143.56,313.87 L144.98,314.03 L146.4,314.19 L147.81,314.36 L149.22,314.54 L150.63,314.72 L152.05,314.91 L153.46,315.11 L154.88,315.31 L156.3,315.52 L157.72,315.73 L159.15,315.94 L160.58,316.17 L162.02,316.39 L163.47,316.62 L164.93,316.85 L166.39,317.08 L167.87,317.31 L169.36,317.55 L170.85,317.79 L172.36,318.03 L173.89,318.26 L175.42,318.5 L176.98,318.74 L178.55,318.98 L180.12,319.22 L181.69,319.46 L183.21,319.71 L184.66,319.97 L186.02,320.24 L187.25,320.54 L188.3,320.86 L189.04,321.21 L189.27,321.59 L188.92,322 L188.11,322.41 L186.99,322.81 L185.65,323.2 L184.13,323.57 L182.5,323.93 L180.8,324.27 L179.09,324.6 L177.42,324.92 L175.82,325.23 L174.29,325.53 L172.8,325.82 L171.36,326.1 L169.96,326.37 L168.57,326.63 L167.21,326.88 L165.85,327.13 L164.48,327.36 L163.1,327.59 L161.72,327.81 L160.32,328.03 L158.92,328.23 L157.5,328.43 L156.08,328.62 L154.65,328.79 L153.21,328.96 L151.77,329.12 L150.32,329.27 L148.86,329.41 L147.41,329.54 L145.94,329.66 L144.47,329.77 L143,329.87 L141.53,329.96 L140.05,330.03 L138.58,330.1 L137.1,330.15 L135.62,330.19 L134.14,330.22 L132.67,330.23 L131.19,330.24 L129.72,330.23 L128.25,330.2 L126.78,330.17 L125.31,330.12 L123.85,330.05 L122.39,329.97 L120.93,329.88 L119.48,329.77 L118.03,329.65 L116.58,329.51 L115.13,329.36 L113.69,329.19 L112.25,329 L110.82,328.8 L109.38,328.57 L107.96,328.34 L106.53,328.08 L105.11,327.81 L103.69,327.51 L102.28,327.2 L100.87,326.87 L99.47,326.52 L98.06,326.15 L96.67,325.76 L95.27,325.35 L93.89,324.92 L92.5,324.47 L91.12,324 L89.75,323.51 L88.38,323 L87.01,322.46 L85.66,321.87 L84.33,321.2 L83.03,320.41 L81.77,319.48 L80.56,318.36 L79.45,317.08 L78.59,315.76 L78.13,314.54 L78.22,313.57Z" fill="none" stroke="#4646b4" stroke-width="0.85" stroke-opacity="1.0" stroke-linejoin="round"/>
<path d="M96.84,316.16 L97.35,315.75 L98.21,315.52 L99.29,315.43 L100.47,315.4 L101.61,315.39 L102.7,315.38 L103.75,315.37 L104.76,315.36 L105.74,315.35 L106.7,315.34 L107.65,315.34 L108.6,315.33 L109.56,315.33 L110.52,315.33 L111.49,315.34 L112.46,315.34 L113.43,315.35 L114.41,315.36 L115.39,315.37 L116.38,315.38 L117.37,315.39 L118.36,315.4 L119.36,315.42 L120.36,315.43 L121.36,315.44 L122.37,315.45 L123.38,315.47 L124.38,315.48 L125.39,315.5 L126.4,315.52 L127.41,315.54 L128.42,315.57 L129.43,315.6 L130.43,315.63 L131.43,315.67 L132.44,315.72 L133.43,315.76 L134.43,315.82 L135.42,315.88 L136.4,315.94 L137.39,316.01 L138.36,316.09 L139.34,316.18 L140.31,316.27 L141.27,316.36 L142.24,316.46 L143.2,316.57 L144.16,316.68 L145.12,316.8 L146.08,316.92 L147.04,317.05 L148,317.18 L148.96,317.31 L149.93,317.45 L150.9,317.59 L151.87,317.73 L152.84,317.88 L153.82,318.03 L154.81,318.18 L155.8,318.33 L156.8,318.48 L157.8,318.64 L158.81,318.79 L159.83,318.95 L160.86,319.11 L161.89,319.26 L162.94,319.42 L163.99,319.58 L165.06,319.73 L166.13,319.89 L167.2,320.05 L168.23,320.21 L169.22,320.39 L170.14,320.57 L170.98,320.77 L171.69,320.98 L172.2,321.21 L172.35,321.46 L172.11,321.73 L171.56,322 L170.8,322.27 L169.89,322.52 L168.86,322.76 L167.75,323 L166.59,323.23 L165.43,323.44 L164.3,323.65 L163.21,323.86 L162.16,324.06 L161.15,324.25 L160.17,324.43 L159.22,324.61 L158.28,324.78 L157.35,324.95 L156.42,325.11 L155.49,325.27 L154.56,325.42 L153.62,325.56 L152.67,325.71 L151.71,325.84 L150.75,325.97 L149.78,326.09 L148.81,326.21 L147.83,326.32 L146.85,326.43 L145.87,326.53 L144.88,326.62 L143.88,326.71 L142.89,326.78 L141.89,326.86 L140.89,326.92 L139.89,326.98 L138.88,327.03 L137.88,327.07 L136.88,327.11 L135.87,327.13 L134.87,327.15 L133.86,327.16 L132.86,327.16 L131.86,327.16 L130.86,327.14 L129.86,327.12 L128.86,327.09 L127.87,327.04 L126.87,326.99 L125.88,326.93 L124.89,326.86 L123.91,326.78 L122.92,326.69 L121.94,326.58 L120.96,326.47 L119.98,326.35 L119,326.21 L118.03,326.07 L117.06,325.91 L116.09,325.74 L115.12,325.56 L114.16,325.37 L113.2,325.16 L112.24,324.94 L111.28,324.71 L110.33,324.47 L109.38,324.21 L108.43,323.94 L107.49,323.66 L106.55,323.36 L105.61,323.05 L104.68,322.72 L103.74,322.38 L102.82,322.03 L101.9,321.64 L100.99,321.2 L100.11,320.68 L99.25,320.06 L98.43,319.33 L97.67,318.48 L97.09,317.61 L96.78,316.81 L96.84,316.16Z" fill="none" stroke="#4b5fe6" stroke-width="0.85" stroke-opacity="1.0" stroke-linejoin="round"/>
<path d="M103.24,317.15 L103.67,316.82 L104.39,316.64 L105.3,316.57 L106.28,316.55 L107.24,316.54 L108.15,316.53 L109.03,316.52 L109.87,316.51 L110.7,316.5 L111.5,316.5 L112.3,316.49 L113.1,316.49 L113.9,316.49 L114.71,316.49 L115.52,316.49 L116.33,316.5 L117.15,316.5 L117.97,316.51 L118.79,316.52 L119.62,316.53 L120.45,316.54 L121.28,316.55 L122.12,316.55 L122.96,316.56 L123.8,316.57 L124.64,316.58 L125.48,316.6 L126.33,316.61 L127.17,316.62 L128.02,316.64 L128.86,316.66 L129.71,316.68 L130.55,316.7 L131.4,316.73 L132.24,316.76 L133.08,316.8 L133.91,316.83 L134.75,316.88 L135.58,316.92 L136.4,316.98 L137.23,317.03 L138.05,317.1 L138.86,317.17 L139.67,317.24 L140.48,317.32 L141.29,317.4 L142.1,317.48 L142.9,317.57 L143.71,317.67 L144.51,317.77 L145.32,317.87 L146.12,317.97 L146.93,318.08 L147.74,318.19 L148.55,318.3 L149.37,318.41 L150.18,318.53 L151.01,318.65 L151.83,318.77 L152.66,318.89 L153.5,319.02 L154.34,319.14 L155.18,319.27 L156.04,319.39 L156.9,319.52 L157.77,319.64 L158.64,319.77 L159.53,319.9 L160.42,320.02 L161.32,320.15 L162.21,320.28 L163.08,320.41 L163.91,320.55 L164.68,320.69 L165.38,320.85 L165.99,321.02 L166.41,321.21 L166.54,321.41 L166.34,321.62 L165.87,321.84 L165.24,322.06 L164.47,322.26 L163.61,322.46 L162.68,322.65 L161.71,322.83 L160.73,323 L159.78,323.17 L158.87,323.33 L158,323.49 L157.15,323.65 L156.33,323.79 L155.53,323.94 L154.74,324.08 L153.96,324.21 L153.18,324.34 L152.41,324.47 L151.62,324.59 L150.83,324.71 L150.04,324.82 L149.23,324.93 L148.43,325.03 L147.62,325.13 L146.8,325.22 L145.98,325.31 L145.16,325.4 L144.33,325.48 L143.51,325.55 L142.67,325.62 L141.84,325.68 L141,325.74 L140.16,325.79 L139.32,325.84 L138.48,325.88 L137.64,325.91 L136.8,325.94 L135.96,325.96 L135.11,325.98 L134.27,325.99 L133.43,325.99 L132.59,325.98 L131.75,325.97 L130.92,325.95 L130.08,325.93 L129.25,325.89 L128.41,325.85 L127.58,325.8 L126.75,325.74 L125.93,325.68 L125.1,325.61 L124.28,325.52 L123.46,325.43 L122.64,325.33 L121.82,325.23 L121,325.11 L120.19,324.98 L119.37,324.85 L118.56,324.7 L117.76,324.55 L116.95,324.38 L116.15,324.21 L115.35,324.02 L114.55,323.82 L113.75,323.62 L112.96,323.4 L112.17,323.17 L111.38,322.94 L110.59,322.69 L109.81,322.42 L109.03,322.15 L108.25,321.87 L107.48,321.55 L106.72,321.2 L105.98,320.78 L105.26,320.29 L104.57,319.69 L103.94,319.02 L103.45,318.32 L103.19,317.67 L103.24,317.15Z" fill="none" stroke="#5a96f5" stroke-width="0.85" stroke-opacity="1.0" stroke-linejoin="round"/>
<path d="M109.06,318.07 L109.41,317.81 L110,317.67 L110.75,317.61 L111.56,317.6 L112.35,317.59 L113.11,317.59 L113.83,317.58 L114.53,317.57 L115.21,317.57 L115.87,317.56 L116.53,317.56 L117.19,317.55 L117.85,317.55 L118.51,317.56 L119.18,317.56 L119.85,317.56 L120.52,317.57 L121.2,317.57 L121.88,317.58 L122.56,317.59 L123.25,317.59 L123.93,317.6 L124.62,317.61 L125.31,317.61 L126.01,317.62 L126.7,317.63 L127.4,317.64 L128.1,317.65 L128.79,317.66 L129.49,317.67 L130.19,317.69 L130.88,317.7 L131.58,317.72 L132.27,317.74 L132.97,317.77 L133.66,317.79 L134.35,317.82 L135.04,317.86 L135.72,317.89 L136.4,317.93 L137.08,317.98 L137.76,318.03 L138.43,318.08 L139.1,318.13 L139.77,318.19 L140.43,318.26 L141.1,318.32 L141.76,318.39 L142.43,318.47 L143.09,318.54 L143.75,318.62 L144.42,318.7 L145.08,318.78 L145.75,318.87 L146.42,318.96 L147.09,319.05 L147.77,319.14 L148.44,319.23 L149.12,319.32 L149.81,319.42 L150.5,319.51 L151.19,319.61 L151.89,319.7 L152.59,319.8 L153.3,319.9 L154.02,320 L154.74,320.09 L155.47,320.19 L156.21,320.29 L156.95,320.39 L157.69,320.49 L158.4,320.59 L159.08,320.69 L159.72,320.81 L160.3,320.93 L160.79,321.06 L161.14,321.21 L161.25,321.36 L161.08,321.53 L160.7,321.7 L160.18,321.86 L159.55,322.02 L158.83,322.17 L158.07,322.32 L157.27,322.46 L156.47,322.59 L155.68,322.72 L154.93,322.85 L154.21,322.97 L153.51,323.09 L152.83,323.21 L152.17,323.32 L151.52,323.43 L150.88,323.53 L150.24,323.63 L149.6,323.73 L148.95,323.82 L148.3,323.91 L147.64,324 L146.98,324.08 L146.32,324.16 L145.65,324.24 L144.98,324.31 L144.3,324.38 L143.62,324.45 L142.94,324.51 L142.26,324.57 L141.57,324.62 L140.88,324.67 L140.19,324.71 L139.5,324.75 L138.81,324.79 L138.12,324.82 L137.42,324.85 L136.73,324.87 L136.03,324.89 L135.34,324.9 L134.65,324.9 L133.95,324.9 L133.26,324.9 L132.57,324.89 L131.88,324.88 L131.19,324.86 L130.5,324.83 L129.82,324.8 L129.13,324.76 L128.45,324.72 L127.76,324.66 L127.08,324.61 L126.4,324.54 L125.73,324.47 L125.05,324.4 L124.38,324.31 L123.7,324.22 L123.03,324.13 L122.36,324.02 L121.69,323.91 L121.03,323.79 L120.36,323.66 L119.7,323.53 L119.04,323.38 L118.38,323.23 L117.73,323.07 L117.07,322.9 L116.42,322.73 L115.77,322.54 L115.12,322.35 L114.47,322.15 L113.83,321.94 L113.19,321.71 L112.55,321.47 L111.93,321.2 L111.31,320.88 L110.72,320.49 L110.15,320.04 L109.63,319.51 L109.23,318.97 L109.01,318.47 L109.06,318.07Z" fill="none" stroke="#50d2f0" stroke-width="0.85" stroke-opacity="1.0" stroke-linejoin="round"/>
<path d="M117.78,319.14 L118.02,318.97 L118.43,318.88 L118.94,318.84 L119.49,318.83 L120.03,318.82 L120.54,318.82 L121.03,318.82 L121.51,318.81 L121.97,318.81 L122.42,318.8 L122.87,318.8 L123.32,318.8 L123.77,318.8 L124.22,318.8 L124.68,318.8 L125.13,318.8 L125.59,318.81 L126.05,318.81 L126.51,318.81 L126.98,318.82 L127.44,318.82 L127.91,318.83 L128.38,318.83 L128.85,318.84 L129.32,318.84 L129.8,318.85 L130.27,318.85 L130.75,318.86 L131.22,318.87 L131.7,318.88 L132.17,318.89 L132.64,318.9 L133.12,318.91 L133.59,318.92 L134.06,318.94 L134.53,318.96 L135,318.98 L135.47,319 L135.94,319.02 L136.4,319.05 L136.86,319.08 L137.32,319.11 L137.78,319.14 L138.24,319.18 L138.69,319.22 L139.15,319.26 L139.6,319.31 L140.05,319.35 L140.5,319.4 L140.95,319.45 L141.41,319.5 L141.86,319.55 L142.31,319.61 L142.77,319.67 L143.22,319.72 L143.68,319.78 L144.14,319.84 L144.6,319.9 L145.06,319.96 L145.53,320.02 L146,320.09 L146.47,320.15 L146.95,320.21 L147.42,320.28 L147.91,320.34 L148.4,320.41 L148.89,320.47 L149.38,320.54 L149.89,320.6 L150.39,320.66 L150.89,320.73 L151.38,320.8 L151.84,320.87 L152.28,320.94 L152.67,321.02 L153.01,321.11 L153.25,321.2 L153.32,321.31 L153.21,321.42 L152.95,321.53 L152.59,321.64 L152.16,321.74 L151.67,321.84 L151.15,321.94 L150.61,322.03 L150.06,322.12 L149.53,322.2 L149.02,322.29 L148.52,322.37 L148.05,322.45 L147.59,322.52 L147.14,322.59 L146.7,322.67 L146.26,322.73 L145.82,322.8 L145.39,322.86 L144.95,322.93 L144.5,322.99 L144.06,323.04 L143.61,323.1 L143.15,323.15 L142.7,323.2 L142.24,323.25 L141.78,323.3 L141.32,323.34 L140.85,323.38 L140.39,323.42 L139.92,323.45 L139.45,323.48 L138.98,323.51 L138.51,323.54 L138.04,323.56 L137.57,323.58 L137.1,323.6 L136.62,323.62 L136.15,323.63 L135.68,323.63 L135.21,323.64 L134.73,323.64 L134.26,323.64 L133.79,323.63 L133.32,323.62 L132.85,323.61 L132.38,323.59 L131.92,323.57 L131.45,323.54 L130.98,323.51 L130.52,323.48 L130.06,323.44 L129.59,323.4 L129.13,323.36 L128.67,323.31 L128.21,323.25 L127.75,323.19 L127.3,323.13 L126.84,323.06 L126.39,322.98 L125.93,322.9 L125.48,322.82 L125.03,322.73 L124.58,322.64 L124.13,322.54 L123.69,322.43 L123.24,322.32 L122.8,322.21 L122.35,322.08 L121.91,321.96 L121.47,321.82 L121.03,321.68 L120.6,321.54 L120.16,321.38 L119.74,321.2 L119.32,320.99 L118.92,320.74 L118.53,320.43 L118.18,320.09 L117.9,319.73 L117.75,319.4 L117.78,319.14Z" fill="none" stroke="#ebe65a" stroke-width="0.85" stroke-opacity="1.0" stroke-linejoin="round"/>
<path d="M123.6,319.75 L123.77,319.63 L124.04,319.57 L124.39,319.54 L124.77,319.53 L125.14,319.53 L125.5,319.53 L125.84,319.52 L126.16,319.52 L126.48,319.52 L126.79,319.51 L127.1,319.51 L127.41,319.51 L127.72,319.51 L128.03,319.51 L128.34,319.51 L128.65,319.51 L128.97,319.52 L129.29,319.52 L129.6,319.52 L129.92,319.52 L130.24,319.53 L130.56,319.53 L130.89,319.53 L131.21,319.54 L131.54,319.54 L131.86,319.55 L132.19,319.55 L132.51,319.55 L132.84,319.56 L133.17,319.57 L133.49,319.57 L133.82,319.58 L134.14,319.59 L134.47,319.6 L134.79,319.61 L135.12,319.62 L135.44,319.63 L135.76,319.65 L136.08,319.67 L136.4,319.69 L136.72,319.71 L137.04,319.73 L137.35,319.75 L137.66,319.78 L137.98,319.81 L138.29,319.84 L138.6,319.87 L138.91,319.9 L139.22,319.93 L139.53,319.97 L139.84,320 L140.15,320.04 L140.46,320.08 L140.78,320.12 L141.09,320.16 L141.4,320.2 L141.72,320.24 L142.04,320.29 L142.36,320.33 L142.68,320.37 L143,320.42 L143.32,320.46 L143.65,320.51 L143.98,320.55 L144.31,320.6 L144.65,320.64 L144.99,320.69 L145.33,320.73 L145.67,320.78 L146.02,320.82 L146.36,320.87 L146.7,320.92 L147.02,320.97 L147.32,321.02 L147.59,321.07 L147.82,321.14 L147.98,321.2 L148.03,321.27 L147.95,321.35 L147.78,321.43 L147.53,321.51 L147.23,321.58 L146.9,321.65 L146.54,321.72 L146.17,321.78 L145.79,321.85 L145.43,321.91 L145.07,321.97 L144.74,322.02 L144.41,322.08 L144.09,322.13 L143.78,322.18 L143.48,322.23 L143.18,322.28 L142.88,322.33 L142.58,322.37 L142.28,322.41 L141.97,322.46 L141.66,322.5 L141.35,322.54 L141.04,322.57 L140.73,322.61 L140.42,322.64 L140.1,322.67 L139.78,322.71 L139.46,322.73 L139.14,322.76 L138.82,322.79 L138.5,322.81 L138.18,322.83 L137.85,322.85 L137.53,322.86 L137.2,322.88 L136.88,322.89 L136.55,322.9 L136.23,322.91 L135.9,322.91 L135.58,322.92 L135.25,322.92 L134.93,322.91 L134.61,322.91 L134.28,322.9 L133.96,322.89 L133.64,322.88 L133.32,322.87 L133,322.85 L132.68,322.83 L132.36,322.81 L132.04,322.78 L131.72,322.75 L131.4,322.72 L131.09,322.68 L130.77,322.64 L130.46,322.6 L130.14,322.56 L129.83,322.51 L129.52,322.45 L129.2,322.4 L128.89,322.34 L128.58,322.28 L128.27,322.21 L127.97,322.14 L127.66,322.07 L127.35,321.99 L127.05,321.91 L126.74,321.82 L126.44,321.73 L126.14,321.64 L125.84,321.54 L125.53,321.44 L125.24,321.33 L124.94,321.2 L124.66,321.05 L124.38,320.87 L124.11,320.66 L123.87,320.42 L123.68,320.17 L123.58,319.93 L123.6,319.75Z" fill="none" stroke="#f5aa5a" stroke-width="0.85" stroke-opacity="1.0" stroke-linejoin="round"/>
</g>
<path d="M40.67,194.94 L40.81,196.5 L40.94,198.05 L41.06,199.59 L41.17,201.13 L41.26,202.66 L41.35,204.19 L41.43,205.71 L41.49,207.23 L41.55,208.75 L41.6,210.26 L41.64,211.77 L41.68,213.28 L41.71,214.79 L41.73,216.29 L41.75,217.79 L41.77,219.28 L41.78,220.78 L41.78,222.27 L41.78,223.76 L41.79,225.25 L41.78,226.74 L41.78,228.23 L41.78,229.72 L41.77,231.21 L41.77,232.7 L41.76,234.18 L41.76,235.67 L41.76,237.16 L41.76,238.65 L41.77,240.14 L41.77,241.63 L41.79,243.13 L41.8,244.62 L41.82,246.12 L41.85,247.62 L41.89,249.12 L41.93,250.63 L41.97,252.14 L42.03,253.65 L42.09,255.16 L42.16,256.68 L42.25,258.2 L42.34,259.73 L42.44,261.26 L42.55,262.79 L42.68,264.33 L42.81,265.88 L42.96,267.43 L43.13,268.98 L43.3,270.54 L43.5,272.11 L43.7,273.68 L43.93,275.24 L44.18,276.81 L44.45,278.37 L44.74,279.92 L45.06,281.46 L45.4,282.98 L45.78,284.49 L46.18,285.98 L46.62,287.45 L47.09,288.9 L47.6,290.32 L48.15,291.7 L48.74,293.06 L49.37,294.38 L50.04,295.67 L50.76,296.91 L51.52,298.11 L52.33,299.27 L53.2,300.38 L54.11,301.44 L55.07,302.45 L56.08,303.42 L57.13,304.35 L58.22,305.23 L59.36,306.08 L60.53,306.88 L61.74,307.64 L62.98,308.37 L64.26,309.06 L65.57,309.72 L66.9,310.34 L68.27,310.93 L69.66,311.49 L71.07,312.02 L72.51,312.52 L73.96,313 L75.44,313.45 L76.93,313.87 L78.44,314.27 L79.95,314.65 L81.48,315.01 L83.02,315.35 L84.57,315.67 L86.12,315.97 L87.67,316.26 L89.23,316.54 L90.79,316.8 L92.34,317.05 L93.89,317.29 L95.44,317.51 L96.98,317.73 L98.52,317.94 L100.06,318.15 L101.59,318.34 L103.11,318.52 L104.64,318.7 L106.16,318.87 L107.67,319.03 L109.18,319.18 L110.69,319.32 L112.2,319.46 L113.71,319.59 L115.21,319.72 L116.71,319.84 L118.2,319.95 L119.7,320.06 L121.19,320.16 L122.68,320.25 L124.17,320.34 L125.66,320.43 L127.15,320.51 L128.63,320.59 L130.12,320.66 L131.6,320.73 L133.09,320.79 L134.57,320.86 L136.05,320.91 L137.54,320.97 L139.02,321.02 L140.5,321.07 L141.98,321.12 L143.47,321.17 L144.95,321.21 L146.43,321.26 L147.92,321.3 L149.41,321.34 L150.89,321.38 L152.38,321.42 L153.87,321.46 L155.36,321.5 L156.86,321.54 L158.35,321.58 L159.85,321.62 L161.35,321.66 L162.85,321.7 L164.36,321.75 L165.87,321.79 L167.38,321.84 L168.89,321.89 L170.41,321.95 L171.93,322 L173.45,322.06 L174.98,322.12 L176.51,322.19 L178.05,322.26 L179.59,322.33 L181.13,322.4 L182.68,322.49 L184.23,322.57 L185.79,322.66 L187.35,322.76 L188.92,322.86 L190.49,322.96" fill="none" stroke="#008000" stroke-width="2.0" stroke-linecap="butt" stroke-linejoin="round"/>
<path d="M38.96,195.03 L39.16,196.54 L39.35,198.06 L39.53,199.57 L39.7,201.08 L39.86,202.58 L40,204.09 L40.14,205.6 L40.27,207.11 L40.39,208.61 L40.5,210.12 L40.61,211.62 L40.7,213.12 L40.8,214.62 L40.88,216.13 L40.97,217.63 L41.04,219.13 L41.12,220.63 L41.19,222.13 L41.26,223.63 L41.32,225.13 L41.39,226.63 L41.45,228.13 L41.52,229.63 L41.58,231.13 L41.65,232.63 L41.71,234.13 L41.78,235.64 L41.85,237.14 L41.93,238.64 L42.01,240.14 L42.09,241.64 L42.18,243.14 L42.27,244.65 L42.37,246.15 L42.48,247.66 L42.59,249.16 L42.71,250.67 L42.84,252.17 L42.98,253.68 L43.13,255.19 L43.29,256.7 L43.46,258.21 L43.64,259.72 L43.83,261.23 L44.04,262.75 L44.26,264.26 L44.49,265.78 L44.74,267.3 L45,268.81 L45.28,270.33 L45.57,271.86 L45.88,273.38 L46.21,274.9 L46.56,276.41 L46.92,277.92 L47.31,279.43 L47.72,280.92 L48.16,282.41 L48.62,283.88 L49.1,285.34 L49.62,286.79 L50.15,288.22 L50.72,289.63 L51.32,291.02 L51.95,292.4 L52.61,293.74 L53.3,295.07 L54.02,296.37 L54.79,297.64 L55.58,298.88 L56.42,300.09 L57.29,301.27 L58.2,302.42 L59.15,303.53 L60.13,304.61 L61.15,305.65 L62.2,306.65 L63.29,307.62 L64.41,308.55 L65.57,309.43 L66.75,310.28 L67.97,311.09 L69.21,311.86 L70.49,312.58 L71.79,313.27 L73.12,313.91 L74.47,314.51 L75.84,315.08 L77.24,315.61 L78.65,316.1 L80.08,316.56 L81.53,317 L82.99,317.4 L84.46,317.78 L85.94,318.12 L87.44,318.45 L88.94,318.75 L90.44,319.03 L91.95,319.3 L93.46,319.54 L94.98,319.77 L96.49,319.98 L98.01,320.17 L99.52,320.35 L101.04,320.52 L102.56,320.67 L104.08,320.81 L105.6,320.93 L107.12,321.04 L108.64,321.14 L110.16,321.23 L111.68,321.31 L113.2,321.37 L114.73,321.43 L116.25,321.47 L117.77,321.51 L119.3,321.53 L120.82,321.55 L122.34,321.56 L123.87,321.56 L125.39,321.56 L126.92,321.55 L128.44,321.53 L129.97,321.51 L131.49,321.48 L133.02,321.45 L134.54,321.41 L136.06,321.37 L137.59,321.33 L139.11,321.28 L140.63,321.23 L142.16,321.18 L143.68,321.13 L145.2,321.07 L146.72,321.02 L148.24,320.97 L149.76,320.91 L151.28,320.86 L152.79,320.81 L154.31,320.76 L155.83,320.72 L157.34,320.68 L158.85,320.64 L160.37,320.6 L161.88,320.57 L163.39,320.54 L164.9,320.52 L166.41,320.51 L167.91,320.5 L169.42,320.5 L170.92,320.5 L172.42,320.52 L173.92,320.54 L175.42,320.57 L176.92,320.61 L178.42,320.65 L179.91,320.71 L181.4,320.78 L182.89,320.86 L184.38,320.96 L185.87,321.06 L187.35,321.18 L188.84,321.31 L190.32,321.45" fill="none" stroke="#0000f0" stroke-width="2.0" stroke-linecap="butt" stroke-linejoin="round"/>
<circle cx="41.7" cy="235.8" r="2.8" fill="#f00000"/>
<circle cx="136.4" cy="321.2" r="2.8" fill="#f00000"/>
<circle cx="64.5" cy="309.7" r="2.8" fill="#fff" stroke="#888" stroke-width="0.7"/>
<text x="44.3" y="261.52" font-size="12.5" textLength="18.7" lengthAdjust="spacingAndGlyphs">(S)</text>
<text x="128.9" y="313.23" font-size="12.5" textLength="17.1" lengthAdjust="spacingAndGlyphs">(R)</text>
<g clip-path="url(#cE)">
<path d="M245.99,271.91 L246.72,271.79 L247.5,272 L248.33,272.51 L249.2,273.27 L250.09,274.25 L251.01,275.39 L251.94,276.67 L252.89,278.04 L253.84,279.47 L254.79,280.9 L255.72,282.31 L256.64,283.64 L257.54,284.88 L258.42,286.04 L259.3,287.12 L260.18,288.14 L261.06,289.1 L261.95,290.01 L262.86,290.89 L263.8,291.73 L264.76,292.56 L265.75,293.37 L266.78,294.18 L267.83,294.96 L268.91,295.74 L270.02,296.5 L271.16,297.24 L272.31,297.98 L273.49,298.7 L274.69,299.41 L275.91,300.1 L277.15,300.78 L278.4,301.44 L279.67,302.09 L280.95,302.73 L282.24,303.36 L283.54,303.97 L284.85,304.56 L286.17,305.14 L287.5,305.71 L288.82,306.27 L290.16,306.81 L291.49,307.33 L292.82,307.84 L294.15,308.34 L295.48,308.82 L296.81,309.29 L298.13,309.76 L299.44,310.23 L300.74,310.7 L302.04,311.2 L303.32,311.71 L304.59,312.27 L305.85,312.86 L307.09,313.5 L308.32,314.19 L309.53,314.95 L310.72,315.78 L311.88,316.68 L312.95,317.65 L313.91,318.68 L314.69,319.77 L315.27,320.9 L315.59,322.08 L315.64,323.29 L315.43,324.5 L315,325.67 L314.39,326.76 L313.63,327.75 L312.73,328.63 L311.73,329.4 L310.63,330.08 L309.45,330.69 L308.21,331.24 L306.91,331.74 L305.58,332.22 L304.23,332.68 L302.86,333.13 L301.48,333.56 L300.07,333.97 L298.66,334.36 L297.23,334.73 L295.79,335.08 L294.34,335.41 L292.88,335.71 L291.42,335.99 L289.95,336.25 L288.48,336.48 L287,336.68 L285.53,336.85 L284.06,336.99 L282.59,337.1 L281.13,337.18 L279.67,337.22 L278.22,337.23 L276.78,337.21 L275.35,337.15 L273.93,337.05 L272.53,336.91 L271.14,336.73 L269.77,336.52 L268.42,336.26 L267.09,335.95 L265.78,335.61 L264.49,335.22 L263.23,334.78 L262,334.29 L260.79,333.76 L259.61,333.18 L258.47,332.54 L257.35,331.86 L256.28,331.12 L255.23,330.33 L254.23,329.48 L253.26,328.58 L252.33,327.62 L251.44,326.62 L250.59,325.57 L249.78,324.47 L249,323.34 L248.26,322.16 L247.55,320.96 L246.89,319.72 L246.25,318.45 L245.66,317.16 L245.09,315.84 L244.56,314.51 L244.07,313.16 L243.61,311.8 L243.18,310.42 L242.79,309.04 L242.42,307.66 L242.09,306.27 L241.79,304.89 L241.53,303.51 L241.29,302.13 L241.09,300.76 L240.92,299.38 L240.79,298 L240.69,296.62 L240.62,295.24 L240.59,293.86 L240.6,292.48 L240.64,291.09 L240.72,289.69 L240.83,288.29 L240.99,286.89 L241.18,285.48 L241.4,284.06 L241.67,282.63 L241.98,281.2 L242.32,279.75 L242.71,278.3 L243.14,276.85 L243.61,275.48 L244.13,274.24 L244.69,273.19 L245.31,272.4 L245.99,271.91Z" fill="none" stroke="#4646b4" stroke-width="0.85" stroke-opacity="1.0" stroke-linejoin="round"/>
<path d="M248.21,276.19 L248.87,276.08 L249.57,276.27 L250.32,276.73 L251.1,277.41 L251.9,278.29 L252.73,279.32 L253.57,280.48 L254.42,281.71 L255.28,282.99 L256.13,284.28 L256.97,285.55 L257.8,286.75 L258.6,287.86 L259.4,288.91 L260.19,289.88 L260.98,290.8 L261.78,291.66 L262.58,292.48 L263.4,293.27 L264.24,294.03 L265.1,294.77 L266,295.51 L266.92,296.23 L267.87,296.94 L268.84,297.63 L269.84,298.32 L270.86,298.99 L271.9,299.65 L272.96,300.3 L274.04,300.93 L275.14,301.56 L276.25,302.17 L277.38,302.77 L278.52,303.35 L279.67,303.93 L280.84,304.49 L282.01,305.04 L283.19,305.58 L284.37,306.1 L285.57,306.61 L286.76,307.11 L287.96,307.6 L289.16,308.07 L290.36,308.53 L291.56,308.98 L292.76,309.41 L293.95,309.83 L295.13,310.25 L296.32,310.67 L297.49,311.1 L298.65,311.55 L299.81,312.01 L300.95,312.51 L302.09,313.04 L303.2,313.62 L304.31,314.24 L305.4,314.93 L306.47,315.67 L307.51,316.48 L308.48,317.36 L309.33,318.28 L310.04,319.26 L310.56,320.28 L310.85,321.34 L310.89,322.43 L310.71,323.52 L310.32,324.57 L309.77,325.56 L309.08,326.45 L308.28,327.23 L307.38,327.93 L306.39,328.54 L305.33,329.09 L304.21,329.58 L303.04,330.04 L301.85,330.47 L300.63,330.88 L299.4,331.28 L298.15,331.67 L296.89,332.04 L295.61,332.39 L294.32,332.73 L293.03,333.04 L291.72,333.34 L290.41,333.61 L289.1,333.86 L287.77,334.09 L286.45,334.3 L285.12,334.48 L283.8,334.63 L282.47,334.76 L281.15,334.86 L279.83,334.93 L278.52,334.97 L277.22,334.98 L275.92,334.96 L274.63,334.9 L273.36,334.81 L272.1,334.69 L270.85,334.53 L269.61,334.33 L268.4,334.1 L267.2,333.83 L266.02,333.52 L264.86,333.16 L263.73,332.77 L262.62,332.33 L261.53,331.85 L260.47,331.33 L259.44,330.76 L258.44,330.14 L257.47,329.48 L256.53,328.76 L255.62,328 L254.75,327.19 L253.92,326.33 L253.12,325.43 L252.35,324.48 L251.62,323.5 L250.92,322.47 L250.25,321.42 L249.62,320.33 L249.02,319.22 L248.45,318.07 L247.91,316.91 L247.4,315.73 L246.93,314.53 L246.48,313.31 L246.07,312.09 L245.68,310.85 L245.33,309.61 L245,308.36 L244.7,307.12 L244.43,305.87 L244.19,304.63 L243.98,303.39 L243.8,302.15 L243.65,300.91 L243.53,299.67 L243.44,298.43 L243.38,297.19 L243.36,295.94 L243.36,294.7 L243.4,293.45 L243.47,292.19 L243.57,290.93 L243.71,289.67 L243.88,288.4 L244.08,287.12 L244.32,285.84 L244.6,284.55 L244.91,283.25 L245.26,281.94 L245.64,280.64 L246.07,279.4 L246.53,278.29 L247.04,277.34 L247.6,276.63 L248.21,276.19Z" fill="none" stroke="#4646b4" stroke-width="0.85" stroke-opacity="1.0" stroke-linejoin="round"/>
<path d="M251.1,281.75 L251.66,281.66 L252.26,281.82 L252.9,282.21 L253.57,282.8 L254.26,283.55 L254.96,284.43 L255.68,285.42 L256.41,286.48 L257.14,287.57 L257.87,288.68 L258.59,289.76 L259.3,290.78 L259.99,291.74 L260.67,292.63 L261.35,293.47 L262.02,294.25 L262.7,294.99 L263.39,295.69 L264.09,296.36 L264.81,297.02 L265.55,297.65 L266.32,298.28 L267.1,298.9 L267.92,299.5 L268.75,300.1 L269.6,300.68 L270.48,301.26 L271.37,301.82 L272.28,302.38 L273.2,302.92 L274.14,303.46 L275.09,303.98 L276.05,304.49 L277.03,304.99 L278.02,305.48 L279.01,305.97 L280.01,306.43 L281.02,306.89 L282.04,307.34 L283.06,307.78 L284.08,308.21 L285.11,308.62 L286.13,309.03 L287.16,309.42 L288.19,309.8 L289.21,310.18 L290.23,310.54 L291.24,310.9 L292.25,311.25 L293.26,311.62 L294.25,312 L295.24,312.4 L296.22,312.83 L297.19,313.28 L298.15,313.77 L299.09,314.31 L300.03,314.89 L300.94,315.53 L301.83,316.23 L302.66,316.97 L303.39,317.77 L304,318.6 L304.44,319.48 L304.69,320.38 L304.73,321.32 L304.57,322.24 L304.24,323.14 L303.77,323.99 L303.18,324.75 L302.49,325.42 L301.72,326.02 L300.87,326.54 L299.96,327.01 L299.01,327.43 L298.01,327.82 L296.99,328.19 L295.95,328.55 L294.89,328.89 L293.82,329.22 L292.74,329.54 L291.65,329.84 L290.55,330.12 L289.44,330.39 L288.33,330.65 L287.2,330.88 L286.08,331.1 L284.95,331.29 L283.81,331.47 L282.68,331.62 L281.54,331.75 L280.41,331.86 L279.28,331.95 L278.15,332.01 L277.03,332.04 L275.91,332.05 L274.81,332.03 L273.7,331.98 L272.61,331.91 L271.53,331.8 L270.46,331.67 L269.41,331.5 L268.37,331.3 L267.34,331.07 L266.34,330.8 L265.34,330.5 L264.37,330.16 L263.42,329.79 L262.49,329.37 L261.59,328.93 L260.71,328.44 L259.85,327.91 L259.02,327.34 L258.22,326.73 L257.44,326.08 L256.7,325.39 L255.98,324.65 L255.3,323.88 L254.64,323.07 L254.01,322.22 L253.42,321.35 L252.85,320.45 L252.3,319.52 L251.79,318.56 L251.3,317.59 L250.84,316.59 L250.41,315.58 L250,314.55 L249.62,313.51 L249.26,312.46 L248.93,311.41 L248.63,310.34 L248.35,309.28 L248.1,308.21 L247.87,307.15 L247.66,306.08 L247.48,305.02 L247.33,303.96 L247.2,302.9 L247.09,301.84 L247.02,300.78 L246.97,299.72 L246.94,298.65 L246.95,297.59 L246.98,296.52 L247.04,295.44 L247.13,294.37 L247.25,293.29 L247.39,292.2 L247.57,291.11 L247.77,290.01 L248.01,288.9 L248.28,287.79 L248.57,286.67 L248.9,285.56 L249.26,284.5 L249.66,283.55 L250.1,282.74 L250.58,282.13 L251.1,281.75Z" fill="none" stroke="#4b5fe6" stroke-width="0.85" stroke-opacity="1.0" stroke-linejoin="round"/>
<path d="M253.32,286.03 L253.81,285.95 L254.33,286.09 L254.89,286.43 L255.47,286.94 L256.07,287.6 L256.68,288.36 L257.31,289.22 L257.94,290.14 L258.58,291.09 L259.21,292.06 L259.84,293 L260.45,293.89 L261.06,294.72 L261.65,295.5 L262.24,296.22 L262.83,296.9 L263.42,297.55 L264.02,298.16 L264.63,298.74 L265.25,299.31 L265.89,299.87 L266.56,300.41 L267.25,300.95 L267.95,301.48 L268.68,301.99 L269.42,302.5 L270.18,303.01 L270.96,303.5 L271.75,303.98 L272.55,304.45 L273.37,304.92 L274.19,305.37 L275.03,305.82 L275.88,306.25 L276.74,306.68 L277.61,307.1 L278.48,307.51 L279.36,307.91 L280.24,308.3 L281.13,308.68 L282.02,309.05 L282.91,309.41 L283.8,309.76 L284.7,310.11 L285.59,310.44 L286.48,310.76 L287.37,311.08 L288.25,311.39 L289.13,311.7 L290,312.02 L290.87,312.35 L291.73,312.7 L292.58,313.07 L293.43,313.47 L294.26,313.89 L295.08,314.36 L295.89,314.87 L296.69,315.42 L297.46,316.03 L298.18,316.68 L298.82,317.37 L299.35,318.1 L299.74,318.86 L299.95,319.65 L299.98,320.46 L299.84,321.26 L299.56,322.05 L299.15,322.78 L298.63,323.45 L298.04,324.03 L297.37,324.55 L296.63,325 L295.84,325.41 L295,325.78 L294.14,326.12 L293.25,326.44 L292.34,326.75 L291.42,327.05 L290.5,327.33 L289.56,327.61 L288.61,327.87 L287.65,328.12 L286.68,328.35 L285.71,328.57 L284.74,328.78 L283.76,328.97 L282.77,329.14 L281.79,329.29 L280.8,329.42 L279.81,329.54 L278.83,329.63 L277.84,329.71 L276.86,329.76 L275.88,329.79 L274.91,329.8 L273.95,329.78 L272.99,329.74 L272.04,329.67 L271.1,329.58 L270.17,329.46 L269.25,329.32 L268.35,329.14 L267.45,328.94 L266.58,328.71 L265.72,328.45 L264.87,328.15 L264.04,327.83 L263.24,327.47 L262.45,327.08 L261.68,326.65 L260.93,326.19 L260.21,325.7 L259.51,325.17 L258.84,324.6 L258.19,324 L257.57,323.36 L256.97,322.69 L256.4,321.98 L255.86,321.25 L255.34,320.49 L254.84,319.7 L254.37,318.89 L253.92,318.06 L253.5,317.21 L253.09,316.35 L252.72,315.47 L252.36,314.57 L252.03,313.67 L251.72,312.75 L251.44,311.83 L251.17,310.91 L250.93,309.98 L250.71,309.05 L250.51,308.13 L250.33,307.2 L250.17,306.28 L250.04,305.36 L249.93,304.43 L249.84,303.51 L249.77,302.59 L249.72,301.66 L249.7,300.74 L249.71,299.81 L249.74,298.88 L249.79,297.94 L249.86,297.01 L249.97,296.07 L250.09,295.12 L250.25,294.17 L250.43,293.21 L250.63,292.25 L250.86,291.28 L251.12,290.31 L251.41,289.34 L251.72,288.42 L252.07,287.59 L252.45,286.89 L252.87,286.36 L253.32,286.03Z" fill="none" stroke="#5a96f5" stroke-width="0.85" stroke-opacity="1.0" stroke-linejoin="round"/>
<path d="M255.32,289.88 L255.74,289.81 L256.2,289.94 L256.68,290.23 L257.18,290.67 L257.7,291.24 L258.23,291.9 L258.77,292.64 L259.32,293.44 L259.87,294.27 L260.42,295.1 L260.96,295.91 L261.49,296.69 L262.02,297.41 L262.53,298.08 L263.04,298.71 L263.55,299.29 L264.06,299.85 L264.58,300.38 L265.11,300.89 L265.65,301.38 L266.2,301.86 L266.78,302.33 L267.38,302.8 L267.99,303.25 L268.61,303.7 L269.26,304.14 L269.91,304.58 L270.59,305 L271.27,305.42 L271.97,305.83 L272.67,306.23 L273.39,306.62 L274.12,307.01 L274.85,307.39 L275.59,307.76 L276.34,308.12 L277.1,308.47 L277.86,308.82 L278.62,309.16 L279.39,309.49 L280.16,309.81 L280.93,310.12 L281.71,310.43 L282.48,310.72 L283.25,311.01 L284.02,311.29 L284.79,311.56 L285.56,311.83 L286.32,312.1 L287.07,312.38 L287.83,312.67 L288.57,312.97 L289.31,313.29 L290.04,313.63 L290.76,314 L291.47,314.41 L292.17,314.85 L292.86,315.33 L293.53,315.85 L294.16,316.41 L294.71,317.01 L295.17,317.64 L295.5,318.3 L295.69,318.98 L295.71,319.68 L295.59,320.38 L295.35,321.06 L294.99,321.7 L294.55,322.27 L294.03,322.78 L293.45,323.22 L292.81,323.62 L292.13,323.97 L291.4,324.29 L290.65,324.58 L289.88,324.86 L289.1,325.13 L288.3,325.39 L287.5,325.64 L286.69,325.87 L285.86,326.1 L285.04,326.32 L284.2,326.52 L283.36,326.71 L282.51,326.89 L281.67,327.05 L280.81,327.2 L279.96,327.33 L279.11,327.45 L278.25,327.55 L277.4,327.63 L276.55,327.69 L275.7,327.74 L274.85,327.76 L274.01,327.77 L273.18,327.75 L272.35,327.72 L271.52,327.66 L270.71,327.58 L269.91,327.48 L269.11,327.35 L268.33,327.2 L267.55,327.03 L266.8,326.83 L266.05,326.6 L265.32,326.34 L264.6,326.06 L263.9,325.75 L263.22,325.42 L262.55,325.05 L261.91,324.65 L261.28,324.22 L260.68,323.76 L260.1,323.27 L259.54,322.75 L259,322.2 L258.48,321.61 L257.99,321 L257.51,320.37 L257.06,319.71 L256.63,319.03 L256.23,318.33 L255.84,317.61 L255.47,316.87 L255.12,316.13 L254.8,315.36 L254.49,314.59 L254.2,313.81 L253.94,313.02 L253.69,312.22 L253.46,311.42 L253.25,310.62 L253.06,309.81 L252.88,309.01 L252.73,308.21 L252.59,307.41 L252.48,306.61 L252.38,305.81 L252.3,305.02 L252.24,304.22 L252.21,303.42 L252.19,302.61 L252.19,301.81 L252.22,301 L252.26,300.2 L252.33,299.38 L252.42,298.57 L252.53,297.75 L252.66,296.93 L252.81,296.1 L252.99,295.27 L253.19,294.43 L253.42,293.59 L253.66,292.75 L253.94,291.95 L254.24,291.23 L254.57,290.63 L254.93,290.16 L255.32,289.88Z" fill="none" stroke="#50d2f0" stroke-width="0.85" stroke-opacity="1.0" stroke-linejoin="round"/>
<path d="M257.32,293.73 L257.68,293.67 L258.06,293.78 L258.46,294.03 L258.89,294.4 L259.33,294.88 L259.78,295.44 L260.23,296.07 L260.7,296.74 L261.16,297.44 L261.63,298.14 L262.09,298.83 L262.54,299.48 L262.98,300.09 L263.41,300.66 L263.84,301.19 L264.27,301.69 L264.7,302.16 L265.14,302.6 L265.59,303.03 L266.04,303.45 L266.51,303.85 L267,304.25 L267.5,304.64 L268.02,305.03 L268.55,305.41 L269.09,305.78 L269.65,306.15 L270.22,306.51 L270.79,306.86 L271.38,307.21 L271.98,307.54 L272.58,307.88 L273.2,308.2 L273.82,308.52 L274.45,308.84 L275.08,309.14 L275.72,309.44 L276.36,309.73 L277.01,310.02 L277.65,310.3 L278.31,310.57 L278.96,310.83 L279.61,311.09 L280.27,311.34 L280.92,311.58 L281.57,311.82 L282.22,312.05 L282.86,312.28 L283.51,312.51 L284.15,312.74 L284.78,312.98 L285.41,313.24 L286.03,313.51 L286.65,313.8 L287.26,314.11 L287.86,314.45 L288.45,314.82 L289.04,315.23 L289.6,315.67 L290.13,316.15 L290.6,316.65 L290.98,317.18 L291.26,317.74 L291.42,318.32 L291.44,318.91 L291.34,319.5 L291.13,320.07 L290.83,320.61 L290.46,321.1 L290.02,321.52 L289.53,321.9 L288.99,322.23 L288.41,322.53 L287.8,322.8 L287.17,323.05 L286.52,323.28 L285.86,323.51 L285.18,323.73 L284.51,323.94 L283.82,324.14 L283.12,324.33 L282.42,324.51 L281.72,324.69 L281.01,324.85 L280.29,325 L279.58,325.13 L278.86,325.26 L278.14,325.37 L277.41,325.47 L276.69,325.55 L275.97,325.62 L275.25,325.68 L274.53,325.71 L273.82,325.74 L273.11,325.74 L272.4,325.73 L271.7,325.7 L271.01,325.65 L270.32,325.58 L269.64,325.5 L268.97,325.39 L268.31,325.26 L267.66,325.11 L267.01,324.94 L266.38,324.75 L265.77,324.54 L265.16,324.3 L264.57,324.04 L263.99,323.75 L263.43,323.44 L262.89,323.11 L262.36,322.75 L261.85,322.36 L261.35,321.94 L260.88,321.5 L260.43,321.03 L259.99,320.54 L259.57,320.02 L259.17,319.49 L258.79,318.93 L258.43,318.36 L258.08,317.77 L257.76,317.16 L257.45,316.54 L257.15,315.9 L256.88,315.26 L256.62,314.61 L256.38,313.94 L256.15,313.28 L255.94,312.6 L255.75,311.93 L255.57,311.25 L255.41,310.57 L255.26,309.89 L255.13,309.22 L255.02,308.54 L254.92,307.87 L254.83,307.19 L254.77,306.52 L254.72,305.84 L254.69,305.17 L254.67,304.49 L254.68,303.81 L254.7,303.13 L254.73,302.45 L254.79,301.76 L254.87,301.07 L254.96,300.38 L255.07,299.69 L255.2,298.99 L255.35,298.28 L255.52,297.58 L255.71,296.86 L255.92,296.16 L256.15,295.48 L256.4,294.87 L256.68,294.36 L256.99,293.97 L257.32,293.73Z" fill="none" stroke="#8ce68c" stroke-width="0.85" stroke-opacity="1.0" stroke-linejoin="round"/>
<path d="M259.09,297.16 L259.39,297.11 L259.71,297.19 L260.05,297.4 L260.41,297.71 L260.77,298.11 L261.15,298.58 L261.54,299.11 L261.92,299.67 L262.31,300.25 L262.7,300.84 L263.08,301.42 L263.46,301.97 L263.83,302.47 L264.19,302.95 L264.55,303.39 L264.91,303.81 L265.27,304.2 L265.64,304.58 L266.01,304.94 L266.39,305.28 L266.79,305.62 L267.2,305.96 L267.62,306.28 L268.05,306.61 L268.49,306.93 L268.95,307.24 L269.41,307.54 L269.89,307.84 L270.37,308.14 L270.86,308.43 L271.36,308.71 L271.87,308.99 L272.38,309.26 L272.9,309.53 L273.43,309.79 L273.96,310.05 L274.49,310.3 L275.03,310.54 L275.57,310.78 L276.11,311.02 L276.66,311.24 L277.2,311.46 L277.75,311.68 L278.3,311.89 L278.84,312.09 L279.39,312.29 L279.93,312.48 L280.47,312.67 L281.01,312.87 L281.54,313.06 L282.07,313.26 L282.6,313.48 L283.12,313.7 L283.64,313.94 L284.15,314.21 L284.65,314.49 L285.15,314.8 L285.63,315.14 L286.11,315.51 L286.55,315.91 L286.94,316.33 L287.26,316.78 L287.5,317.24 L287.63,317.73 L287.65,318.22 L287.56,318.72 L287.39,319.2 L287.14,319.65 L286.82,320.05 L286.46,320.41 L286.05,320.73 L285.6,321 L285.11,321.25 L284.6,321.48 L284.07,321.69 L283.53,321.88 L282.97,322.07 L282.41,322.26 L281.84,322.43 L281.27,322.6 L280.69,322.76 L280.1,322.91 L279.51,323.06 L278.92,323.19 L278.32,323.32 L277.72,323.43 L277.12,323.53 L276.51,323.63 L275.91,323.71 L275.31,323.78 L274.7,323.84 L274.1,323.88 L273.5,323.92 L272.9,323.93 L272.31,323.94 L271.72,323.93 L271.13,323.9 L270.55,323.86 L269.97,323.81 L269.41,323.73 L268.84,323.64 L268.29,323.54 L267.74,323.41 L267.21,323.27 L266.68,323.11 L266.16,322.93 L265.66,322.73 L265.16,322.51 L264.68,322.27 L264.21,322.02 L263.75,321.73 L263.31,321.43 L262.88,321.11 L262.47,320.76 L262.07,320.39 L261.69,320 L261.33,319.59 L260.98,319.16 L260.65,318.71 L260.33,318.24 L260.02,317.76 L259.74,317.26 L259.46,316.76 L259.2,316.24 L258.96,315.71 L258.73,315.17 L258.51,314.62 L258.31,314.07 L258.12,313.51 L257.94,312.95 L257.78,312.38 L257.63,311.81 L257.5,311.25 L257.37,310.68 L257.26,310.11 L257.17,309.55 L257.09,308.98 L257.02,308.42 L256.96,307.85 L256.92,307.29 L256.89,306.72 L256.88,306.16 L256.88,305.59 L256.9,305.02 L256.93,304.45 L256.98,303.87 L257.04,303.3 L257.12,302.72 L257.21,302.14 L257.32,301.55 L257.45,300.96 L257.59,300.37 L257.75,299.77 L257.92,299.18 L258.12,298.62 L258.33,298.11 L258.56,297.68 L258.82,297.36 L259.09,297.16Z" fill="none" stroke="#ebe65a" stroke-width="0.85" stroke-opacity="1.0" stroke-linejoin="round"/>
<path d="M260.65,300.15 L260.9,300.11 L261.16,300.18 L261.44,300.36 L261.74,300.61 L262.04,300.95 L262.36,301.34 L262.67,301.77 L262.99,302.24 L263.32,302.72 L263.64,303.21 L263.96,303.69 L264.27,304.14 L264.58,304.56 L264.88,304.96 L265.18,305.32 L265.47,305.67 L265.77,306 L266.08,306.31 L266.39,306.6 L266.7,306.89 L267.03,307.17 L267.37,307.45 L267.72,307.72 L268.07,307.99 L268.44,308.25 L268.82,308.51 L269.21,308.77 L269.6,309.01 L270,309.26 L270.41,309.5 L270.82,309.74 L271.24,309.97 L271.67,310.19 L272.1,310.41 L272.53,310.63 L272.97,310.84 L273.42,311.05 L273.86,311.25 L274.31,311.45 L274.76,311.64 L275.21,311.83 L275.67,312.02 L276.12,312.19 L276.57,312.37 L277.02,312.54 L277.48,312.7 L277.93,312.86 L278.38,313.02 L278.82,313.18 L279.26,313.34 L279.7,313.51 L280.14,313.68 L280.57,313.87 L281,314.07 L281.42,314.29 L281.84,314.53 L282.25,314.79 L282.66,315.07 L283.05,315.37 L283.42,315.7 L283.74,316.05 L284.01,316.42 L284.2,316.81 L284.31,317.21 L284.33,317.62 L284.26,318.03 L284.11,318.43 L283.9,318.8 L283.64,319.14 L283.34,319.44 L283,319.7 L282.63,319.93 L282.23,320.14 L281.8,320.32 L281.36,320.49 L280.91,320.66 L280.45,320.81 L279.99,320.97 L279.51,321.11 L279.04,321.25 L278.56,321.38 L278.07,321.51 L277.58,321.63 L277.09,321.74 L276.59,321.84 L276.09,321.94 L275.59,322.03 L275.09,322.1 L274.59,322.17 L274.09,322.23 L273.59,322.28 L273.09,322.32 L272.6,322.34 L272.1,322.36 L271.61,322.36 L271.12,322.35 L270.63,322.33 L270.15,322.3 L269.67,322.25 L269.2,322.19 L268.73,322.12 L268.27,322.03 L267.82,321.93 L267.38,321.81 L266.94,321.68 L266.51,321.53 L266.09,321.36 L265.68,321.18 L265.28,320.98 L264.89,320.77 L264.51,320.53 L264.15,320.28 L263.79,320.01 L263.45,319.73 L263.12,319.42 L262.81,319.09 L262.5,318.75 L262.21,318.39 L261.94,318.02 L261.67,317.64 L261.42,317.24 L261.18,316.83 L260.95,316.41 L260.74,315.97 L260.53,315.54 L260.34,315.09 L260.16,314.63 L260,314.18 L259.84,313.71 L259.69,313.25 L259.56,312.78 L259.44,312.31 L259.32,311.84 L259.22,311.37 L259.13,310.9 L259.05,310.43 L258.98,309.96 L258.93,309.49 L258.88,309.02 L258.85,308.55 L258.82,308.08 L258.81,307.61 L258.82,307.14 L258.83,306.67 L258.86,306.2 L258.9,305.72 L258.95,305.24 L259.01,304.76 L259.09,304.28 L259.18,303.8 L259.28,303.31 L259.4,302.82 L259.53,302.32 L259.68,301.83 L259.84,301.37 L260.02,300.94 L260.21,300.59 L260.42,300.32 L260.65,300.15Z" fill="none" stroke="#f5aa5a" stroke-width="0.85" stroke-opacity="1.0" stroke-linejoin="round"/>
<path d="M262.43,303.58 L262.62,303.54 L262.82,303.6 L263.03,303.73 L263.26,303.93 L263.49,304.18 L263.73,304.48 L263.97,304.81 L264.22,305.17 L264.47,305.54 L264.71,305.91 L264.96,306.28 L265.19,306.62 L265.43,306.95 L265.66,307.25 L265.89,307.53 L266.11,307.79 L266.34,308.04 L266.58,308.28 L266.81,308.51 L267.06,308.73 L267.31,308.94 L267.56,309.16 L267.83,309.36 L268.1,309.57 L268.39,309.77 L268.67,309.97 L268.97,310.16 L269.27,310.35 L269.58,310.54 L269.89,310.72 L270.2,310.9 L270.53,311.08 L270.85,311.25 L271.18,311.42 L271.51,311.59 L271.85,311.75 L272.19,311.91 L272.53,312.06 L272.87,312.22 L273.22,312.36 L273.56,312.51 L273.91,312.65 L274.26,312.78 L274.6,312.92 L274.95,313.05 L275.29,313.17 L275.64,313.29 L275.98,313.42 L276.32,313.54 L276.66,313.66 L277,313.79 L277.33,313.92 L277.66,314.07 L277.99,314.22 L278.31,314.39 L278.63,314.57 L278.95,314.77 L279.26,314.98 L279.56,315.22 L279.84,315.47 L280.08,315.74 L280.29,316.02 L280.44,316.31 L280.52,316.62 L280.53,316.93 L280.48,317.25 L280.37,317.55 L280.21,317.84 L280.01,318.09 L279.78,318.32 L279.52,318.52 L279.23,318.7 L278.93,318.86 L278.6,319 L278.27,319.13 L277.92,319.26 L277.57,319.38 L277.21,319.49 L276.85,319.6 L276.49,319.71 L276.12,319.81 L275.75,319.91 L275.37,320 L275,320.08 L274.62,320.16 L274.24,320.24 L273.85,320.3 L273.47,320.36 L273.09,320.41 L272.71,320.46 L272.32,320.49 L271.94,320.52 L271.56,320.54 L271.18,320.56 L270.8,320.56 L270.43,320.55 L270.06,320.54 L269.69,320.51 L269.33,320.47 L268.96,320.43 L268.61,320.37 L268.26,320.3 L267.91,320.23 L267.57,320.14 L267.24,320.03 L266.91,319.92 L266.59,319.79 L266.27,319.66 L265.97,319.5 L265.67,319.34 L265.38,319.16 L265.1,318.97 L264.83,318.76 L264.57,318.54 L264.32,318.31 L264.07,318.06 L263.84,317.8 L263.62,317.53 L263.41,317.24 L263.21,316.95 L263.02,316.64 L262.83,316.33 L262.66,316 L262.49,315.67 L262.34,315.34 L262.19,315 L262.05,314.65 L261.93,314.3 L261.81,313.94 L261.69,313.59 L261.59,313.23 L261.5,312.87 L261.41,312.51 L261.33,312.15 L261.27,311.79 L261.2,311.43 L261.15,311.07 L261.11,310.72 L261.07,310.36 L261.05,310 L261.03,309.64 L261.02,309.28 L261.02,308.92 L261.03,308.56 L261.06,308.2 L261.08,307.83 L261.12,307.47 L261.17,307.1 L261.23,306.73 L261.3,306.36 L261.38,305.99 L261.47,305.61 L261.57,305.24 L261.68,304.86 L261.81,304.5 L261.94,304.18 L262.09,303.91 L262.25,303.7 L262.43,303.58Z" fill="none" stroke="#f07864" stroke-width="0.85" stroke-opacity="1.0" stroke-linejoin="round"/>
<path d="M264.42,307.43 L264.55,307.41 L264.68,307.44 L264.82,307.53 L264.97,307.66 L265.12,307.82 L265.28,308.02 L265.44,308.24 L265.6,308.47 L265.76,308.71 L265.92,308.95 L266.08,309.19 L266.23,309.42 L266.39,309.63 L266.54,309.83 L266.69,310.01 L266.84,310.18 L266.99,310.35 L267.14,310.5 L267.29,310.65 L267.45,310.8 L267.62,310.94 L267.78,311.07 L267.96,311.21 L268.14,311.34 L268.32,311.48 L268.51,311.61 L268.7,311.73 L268.9,311.86 L269.1,311.98 L269.3,312.1 L269.51,312.22 L269.72,312.33 L269.93,312.45 L270.15,312.56 L270.37,312.67 L270.59,312.77 L270.81,312.88 L271.03,312.98 L271.26,313.08 L271.48,313.17 L271.71,313.27 L271.93,313.36 L272.16,313.45 L272.39,313.53 L272.61,313.62 L272.84,313.7 L273.06,313.78 L273.29,313.86 L273.51,313.94 L273.73,314.02 L273.95,314.1 L274.17,314.19 L274.39,314.29 L274.6,314.39 L274.81,314.5 L275.02,314.61 L275.23,314.74 L275.43,314.88 L275.63,315.04 L275.81,315.2 L275.97,315.38 L276.1,315.56 L276.2,315.75 L276.26,315.96 L276.26,316.16 L276.23,316.37 L276.16,316.56 L276.05,316.75 L275.92,316.92 L275.77,317.07 L275.6,317.2 L275.41,317.31 L275.21,317.42 L275,317.51 L274.78,317.6 L274.56,317.68 L274.33,317.76 L274.09,317.83 L273.86,317.91 L273.62,317.98 L273.38,318.04 L273.13,318.11 L272.89,318.16 L272.64,318.22 L272.4,318.27 L272.15,318.32 L271.9,318.36 L271.65,318.4 L271.4,318.44 L271.15,318.46 L270.9,318.49 L270.65,318.51 L270.4,318.52 L270.15,318.53 L269.9,318.53 L269.66,318.53 L269.42,318.52 L269.17,318.5 L268.94,318.48 L268.7,318.45 L268.47,318.41 L268.24,318.36 L268.01,318.31 L267.79,318.25 L267.57,318.19 L267.36,318.11 L267.15,318.03 L266.94,317.94 L266.74,317.84 L266.55,317.73 L266.36,317.62 L266.17,317.49 L266,317.36 L265.82,317.21 L265.66,317.06 L265.5,316.9 L265.35,316.73 L265.21,316.55 L265.07,316.36 L264.94,316.17 L264.81,315.97 L264.69,315.76 L264.58,315.55 L264.47,315.34 L264.37,315.12 L264.27,314.89 L264.18,314.67 L264.1,314.44 L264.02,314.21 L263.95,313.97 L263.88,313.74 L263.82,313.5 L263.76,313.27 L263.71,313.03 L263.67,312.8 L263.63,312.56 L263.59,312.33 L263.56,312.1 L263.54,311.86 L263.52,311.63 L263.51,311.39 L263.51,311.16 L263.51,310.92 L263.52,310.69 L263.53,310.45 L263.55,310.21 L263.57,309.97 L263.61,309.73 L263.64,309.49 L263.69,309.25 L263.74,309 L263.8,308.76 L263.87,308.51 L263.94,308.27 L264.02,308.03 L264.11,307.82 L264.2,307.64 L264.31,307.51 L264.42,307.43Z" fill="none" stroke="#b45a5a" stroke-width="0.85" stroke-opacity="1.0" stroke-linejoin="round"/>
</g>
<g clip-path="url(#cE)">
<path d="M237.45,209.05 L237.58,210.55 L237.7,212.05 L237.81,213.55 L237.91,215.05 L238,216.55 L238.09,218.06 L238.17,219.56 L238.24,221.07 L238.31,222.58 L238.37,224.09 L238.43,225.59 L238.48,227.11 L238.53,228.62 L238.58,230.13 L238.62,231.64 L238.66,233.16 L238.71,234.68 L238.75,236.19 L238.79,237.71 L238.83,239.23 L238.88,240.75 L238.92,242.27 L238.97,243.79 L239.02,245.31 L239.08,246.84 L239.14,248.36 L239.2,249.89 L239.27,251.41 L239.35,252.94 L239.43,254.47 L239.52,256 L239.61,257.53 L239.72,259.06 L239.83,260.59 L239.96,262.12 L240.1,263.65 L240.25,265.17 L240.42,266.7 L240.62,268.22 L240.83,269.73 L241.07,271.24 L241.33,272.75 L241.62,274.24 L241.94,275.73 L242.29,277.22 L242.68,278.69 L243.1,280.15 L243.56,281.6 L244.05,283.04 L244.58,284.47 L245.15,285.88 L245.76,287.28 L246.39,288.66 L247.07,290.03 L247.77,291.37 L248.51,292.7 L249.28,294.01 L250.09,295.3 L250.92,296.57 L251.79,297.81 L252.68,299.03 L253.61,300.22 L254.56,301.39 L255.54,302.54 L256.55,303.65 L257.58,304.74 L258.64,305.79 L259.73,306.82 L260.84,307.81 L261.98,308.78 L263.14,309.7 L264.32,310.6 L265.52,311.45 L266.75,312.28 L268,313.06 L269.27,313.81 L270.56,314.52 L271.86,315.19 L273.19,315.83 L274.53,316.43 L275.9,317.01 L277.27,317.55 L278.67,318.06 L280.08,318.54 L281.5,318.99 L282.94,319.41 L284.39,319.81 L285.85,320.18 L287.32,320.52 L288.81,320.84 L290.3,321.14 L291.81,321.42 L293.32,321.67 L294.85,321.9 L296.38,322.12 L297.91,322.31 L299.46,322.49 L301.01,322.65 L302.56,322.8 L304.12,322.93 L305.68,323.04 L307.25,323.15 L308.81,323.24 L310.38,323.32 L311.95,323.39 L313.52,323.45 L315.09,323.51 L316.66,323.55 L318.22,323.59 L319.79,323.63 L321.35,323.66 L322.9,323.69 L324.46,323.71 L326,323.74 L327.54,323.76 L329.08,323.78 L330.6,323.8 L332.13,323.83 L333.65,323.85 L335.16,323.87 L336.67,323.9 L338.17,323.92 L339.67,323.94 L341.17,323.96 L342.66,323.99 L344.15,324.01 L345.64,324.03 L347.12,324.05 L348.6,324.07 L350.09,324.1 L351.57,324.12 L353.05,324.14 L354.52,324.16 L356,324.18 L357.48,324.2 L358.96,324.22 L360.44,324.24 L361.92,324.25 L363.4,324.27 L364.88,324.29 L366.36,324.31 L367.85,324.32 L369.34,324.34 L370.83,324.36 L372.33,324.37 L373.82,324.39 L375.33,324.4 L376.83,324.42 L378.34,324.43 L379.86,324.44 L381.38,324.45 L382.91,324.46 L384.44,324.48 L385.98,324.49 L387.52,324.49 L389.07,324.5 L390.63,324.51 L392.2,324.52 L393.77,324.52 L395.35,324.53 L396.94,324.53 L398.54,324.54" fill="none" stroke="#0000f0" stroke-width="2.0" stroke-linecap="butt" stroke-linejoin="round"/>
<path d="M241.73,194 L241.91,195.53 L242.08,197.05 L242.24,198.57 L242.38,200.09 L242.52,201.61 L242.65,203.13 L242.76,204.64 L242.87,206.15 L242.97,207.66 L243.06,209.17 L243.15,210.68 L243.22,212.18 L243.29,213.68 L243.36,215.19 L243.42,216.69 L243.48,218.19 L243.53,219.69 L243.58,221.19 L243.63,222.68 L243.67,224.18 L243.72,225.68 L243.76,227.17 L243.8,228.67 L243.85,230.17 L243.89,231.66 L243.94,233.16 L243.98,234.65 L244.03,236.15 L244.09,237.65 L244.15,239.14 L244.21,240.64 L244.27,242.14 L244.35,243.64 L244.42,245.14 L244.51,246.64 L244.6,248.14 L244.7,249.65 L244.81,251.15 L244.93,252.66 L245.05,254.16 L245.19,255.67 L245.34,257.19 L245.5,258.7 L245.67,260.21 L245.85,261.73 L246.05,263.25 L246.26,264.77 L246.49,266.3 L246.73,267.82 L246.98,269.35 L247.25,270.88 L247.54,272.4 L247.85,273.92 L248.17,275.44 L248.51,276.96 L248.87,278.47 L249.26,279.97 L249.66,281.46 L250.08,282.94 L250.53,284.42 L251,285.88 L251.49,287.33 L252.01,288.77 L252.55,290.19 L253.12,291.59 L253.71,292.98 L254.33,294.35 L254.98,295.7 L255.66,297.03 L256.36,298.34 L257.09,299.63 L257.86,300.89 L258.65,302.13 L259.48,303.35 L260.33,304.53 L261.23,305.69 L262.15,306.82 L263.11,307.92 L264.1,308.99 L265.12,310.02 L266.18,311.03 L267.27,312.01 L268.39,312.95 L269.53,313.86 L270.71,314.74 L271.91,315.59 L273.13,316.41 L274.39,317.2 L275.66,317.95 L276.96,318.68 L278.27,319.37 L279.61,320.03 L280.97,320.66 L282.34,321.26 L283.73,321.82 L285.14,322.36 L286.56,322.86 L288,323.33 L289.45,323.77 L290.9,324.18 L292.37,324.56 L293.85,324.91 L295.34,325.24 L296.84,325.54 L298.34,325.81 L299.85,326.07 L301.36,326.3 L302.88,326.52 L304.4,326.72 L305.92,326.9 L307.44,327.07 L308.97,327.23 L310.49,327.37 L312.01,327.5 L313.53,327.62 L315.05,327.73 L316.57,327.83 L318.09,327.92 L319.61,328 L321.13,328.07 L322.65,328.14 L324.17,328.2 L325.69,328.25 L327.21,328.29 L328.72,328.33 L330.24,328.36 L331.75,328.39 L333.27,328.41 L334.78,328.43 L336.3,328.44 L337.81,328.46 L339.33,328.47 L340.84,328.48 L342.35,328.48 L343.86,328.49 L345.37,328.49 L346.88,328.5 L348.39,328.51 L349.9,328.52 L351.41,328.53 L352.92,328.54 L354.42,328.56 L355.93,328.57 L357.44,328.6 L358.94,328.62 L360.45,328.66 L361.95,328.69 L363.45,328.74 L364.95,328.79 L366.46,328.84 L367.96,328.91 L369.46,328.98 L370.96,329.06 L372.45,329.15 L373.95,329.25 L375.45,329.36 L376.95,329.48 L378.44,329.61 L379.93,329.75" fill="none" stroke="#008000" stroke-width="2.0" stroke-linecap="butt" stroke-linejoin="round"/>
</g>
<circle cx="268.5" cy="314.5" r="2.8" fill="#f00000"/>
<text x="274.1" y="311.43" font-size="12.5" textLength="29.1" lengthAdjust="spacingAndGlyphs">(S/R)</text>
<g clip-path="url(#cF)">
<path d="M439.11,161.11 L439.4,163.37 L439.66,165.64 L439.9,167.92 L440.1,170.2 L440.29,172.49 L440.45,174.79 L440.59,177.1 L440.71,179.41 L440.81,181.73 L440.9,184.05 L440.98,186.39 L441.05,188.72 L441.11,191.06 L441.16,193.41 L441.21,195.77 L441.27,198.12 L441.34,200.49 L441.41,202.86 L441.49,205.23 L441.56,207.61 L441.65,210 L441.74,212.39 L441.84,214.79 L441.96,217.19 L442.08,219.6 L442.21,222.01 L442.35,224.43 L442.52,226.85 L442.72,229.28 L442.93,231.71 L443.17,234.15 L443.45,236.59 L443.75,239.03 L444.09,241.48 L444.46,243.92 L444.86,246.38 L445.28,248.83 L445.74,251.29 L446.26,253.74 L446.81,256.19 L447.42,258.64 L448.08,261.09 L448.8,263.52 L449.57,265.95 L450.4,268.36 L451.28,270.77 L452.23,273.16 L453.24,275.53 L454.32,277.88 L455.47,280.21 L456.74,282.5 L458.08,284.75 L459.49,286.97 L460.98,289.16 L462.55,291.3 L464.2,293.39 L465.93,295.44 L467.75,297.43 L469.65,299.35 L471.63,301.2 L473.69,302.98 L475.83,304.68 L478.03,306.28 L480.28,307.77 L482.56,309.17 L484.87,310.48 L487.19,311.71 L489.54,312.85 L491.91,313.88 L494.3,314.84 L496.68,315.74 L499.07,316.59 L501.46,317.39 L503.86,318.14 L506.26,318.85 L508.67,319.51 L511.07,320.14 L513.48,320.72 L515.9,321.24 L518.31,321.73 L520.73,322.19 L523.13,322.62 L525.54,323.03 L527.94,323.41 L530.34,323.77 L532.73,324.12 L535.12,324.45 L537.5,324.77 L539.88,325.07 L542.26,325.36 L544.65,325.65 L547.03,325.92 L549.41,326.18 L551.82,326.29 L554.23,326.3 L556.65,326.3 L559.06,326.29 L561.47,326.27 L563.88,326.23 L566.29,326.19 L568.69,326.14 L571.1,326.08 L573.5,326 L575.91,325.77 L578.34,325.35 L580.76,324.93 L583.18,324.5 L585.6,324.05 L588.01,323.6 L588.05,323 L585.75,322.18 L583.45,321.35 L581.15,320.51 L578.86,319.67 L576.58,318.81 L574.28,318.12 L571.98,317.57 L569.68,317 L567.38,316.43 L565.09,315.86 L562.8,315.27 L560.51,314.67 L558.23,314.06 L555.95,313.44 L553.68,312.82 L551.4,312.26 L549.1,311.85 L546.81,311.42 L544.51,310.98 L542.22,310.54 L539.93,310.08 L537.65,309.61 L535.37,309.13 L533.11,308.64 L530.86,308.14 L528.61,307.61 L526.38,307.07 L524.17,306.51 L521.96,305.93 L519.77,305.33 L517.6,304.7 L515.44,304.07 L513.29,303.43 L511.15,302.75 L509.04,302.05 L506.95,301.31 L504.88,300.54 L502.83,299.73 L500.82,298.89 L498.84,298.01 L496.91,297.09 L494.99,296.17 L493.12,295.21 L491.31,294.2 L489.54,293.15 L487.84,292.04 L486.2,290.87 L484.62,289.65 L483.09,288.35 L481.6,286.98 L480.17,285.55 L478.78,284.06 L477.44,282.51 L476.14,280.9 L474.9,279.23 L473.71,277.52 L472.57,275.76 L471.47,273.96 L470.42,272.11 L469.39,270.25 L468.38,268.36 L467.42,266.43 L466.51,264.47 L465.64,262.48 L464.81,260.46 L464.03,258.42 L463.29,256.35 L462.59,254.26 L461.94,252.15 L461.32,250.02 L460.74,247.87 L460.19,245.71 L459.68,243.52 L459.22,241.32 L458.81,239.11 L458.43,236.88 L458.07,234.63 L457.75,232.38 L457.45,230.12 L457.18,227.84 L456.92,225.56 L456.69,223.27 L456.48,220.97 L456.28,218.66 L456.11,216.35 L455.95,214.03 L455.81,211.7 L455.68,209.36 L455.56,207.02 L455.44,204.67 L455.33,202.32 L455.22,199.96 L455.1,197.6 L454.99,195.23 L454.85,192.85 L454.7,190.48 L454.55,188.09 L454.39,185.7 L454.21,183.31 L454.02,180.91 L453.82,178.51 L453.6,176.1 L453.36,173.69 L453.09,171.28 L452.81,168.86 L452.49,166.44 L452.15,164.02 L451.77,161.6 L451.36,159.19Z" fill="none" stroke="#4646b4" stroke-width="1.0" stroke-opacity="1.0" stroke-linejoin="round"/>
<path d="M440.1,160.95 L440.39,163.18 L440.66,165.4 L440.89,167.63 L441.11,169.87 L441.29,172.12 L441.46,174.37 L441.61,176.62 L441.73,178.89 L441.85,181.16 L441.95,183.43 L442.03,185.71 L442.11,187.99 L442.17,190.28 L442.23,192.57 L442.29,194.87 L442.35,197.17 L442.41,199.47 L442.48,201.78 L442.55,204.1 L442.62,206.41 L442.7,208.74 L442.79,211.06 L442.88,213.39 L442.99,215.73 L443.1,218.07 L443.27,220.41 L443.45,222.75 L443.66,225.1 L443.88,227.45 L444.13,229.8 L444.4,232.16 L444.7,234.51 L445.02,236.87 L445.37,239.23 L445.76,241.58 L446.18,243.94 L446.59,246.3 L447.03,248.67 L447.5,251.03 L448.02,253.38 L448.59,255.74 L449.2,258.09 L449.86,260.43 L450.56,262.76 L451.32,265.08 L452.13,267.38 L453,269.68 L453.92,271.96 L454.9,274.22 L455.94,276.46 L457.04,278.68 L458.23,280.87 L459.49,283.02 L460.81,285.15 L462.2,287.23 L463.67,289.28 L465.21,291.29 L466.82,293.25 L468.5,295.15 L470.26,297 L472.1,298.79 L474.01,300.5 L475.99,302.15 L478.04,303.71 L480.15,305.18 L482.29,306.56 L484.46,307.85 L486.66,309.06 L488.89,310.21 L491.13,311.26 L493.41,312.22 L495.69,313.13 L497.98,313.98 L500.27,314.78 L502.57,315.54 L504.88,316.25 L507.19,316.93 L509.51,317.57 L511.83,318.17 L514.15,318.72 L516.49,319.21 L518.82,319.68 L521.16,320.11 L523.49,320.52 L525.82,320.91 L528.14,321.28 L530.47,321.63 L532.79,321.96 L535.11,322.27 L537.43,322.58 L539.74,322.87 L542.06,323.15 L544.37,323.42 L546.69,323.68 L549.01,323.93 L551.34,324.1 L553.69,324.11 L556.03,324.11 L558.38,324.09 L560.72,324.07 L563.07,324.04 L565.41,323.99 L567.75,323.94 L570.08,323.88 L572.42,323.78 L574.77,323.62 L577.11,323.46 L579.44,323.28 L581.78,323.1 L581.83,322.5 L579.57,321.91 L577.31,321.31 L575.05,320.7 L572.8,320.08 L570.55,319.51 L568.3,318.95 L566.05,318.38 L563.8,317.81 L561.56,317.22 L559.32,316.63 L557.09,316.03 L554.86,315.41 L552.64,314.79 L550.39,314.31 L548.14,313.9 L545.9,313.47 L543.65,313.03 L541.41,312.59 L539.17,312.13 L536.93,311.66 L534.7,311.19 L532.48,310.7 L530.27,310.19 L528.06,309.67 L525.87,309.14 L523.69,308.58 L521.52,308 L519.36,307.4 L517.21,306.78 L515.08,306.15 L512.95,305.52 L510.83,304.86 L508.74,304.17 L506.66,303.44 L504.6,302.68 L502.56,301.89 L500.55,301.06 L498.56,300.19 L496.62,299.29 L494.69,298.37 L492.8,297.42 L490.95,296.42 L489.15,295.37 L487.39,294.26 L485.7,293.1 L484.07,291.89 L482.48,290.6 L480.95,289.24 L479.46,287.83 L478.02,286.34 L476.64,284.81 L475.3,283.21 L474.01,281.56 L472.78,279.87 L471.59,278.13 L470.46,276.34 L469.37,274.52 L468.33,272.66 L467.32,270.78 L466.35,268.87 L465.42,266.92 L464.54,264.95 L463.71,262.95 L462.92,260.93 L462.17,258.89 L461.46,256.82 L460.8,254.74 L460.17,252.64 L459.58,250.52 L459.04,248.39 L458.52,246.24 L458.04,244.08 L457.61,241.9 L457.25,239.71 L456.92,237.5 L456.63,235.29 L456.36,233.07 L456.11,230.84 L455.89,228.6 L455.69,226.36 L455.51,224.11 L455.35,221.86 L455.21,219.6 L455.07,217.33 L454.92,215.06 L454.78,212.78 L454.64,210.5 L454.52,208.22 L454.4,205.93 L454.29,203.63 L454.18,201.33 L454.07,199.03 L453.96,196.72 L453.84,194.41 L453.71,192.09 L453.57,189.77 L453.43,187.45 L453.27,185.12 L453.11,182.79 L452.93,180.45 L452.73,178.12 L452.52,175.77 L452.29,173.43 L452.03,171.08 L451.76,168.74 L451.45,166.39 L451.12,164.04 L450.76,161.69 L450.37,159.35Z" fill="none" stroke="#4b5fe6" stroke-width="1.0" stroke-opacity="1.0" stroke-linejoin="round"/>
<path d="M440.79,160.84 L441.08,162.99 L441.34,165.13 L441.58,167.28 L441.79,169.43 L441.99,171.59 L442.16,173.76 L442.31,175.93 L442.44,178.11 L442.56,180.29 L442.67,182.47 L442.76,184.66 L442.84,186.85 L442.92,189.05 L442.99,191.25 L443.05,193.46 L443.1,195.66 L443.18,197.87 L443.25,200.09 L443.33,202.3 L443.4,204.52 L443.48,206.75 L443.57,208.98 L443.66,211.21 L443.76,213.44 L443.87,215.68 L443.99,217.92 L444.18,220.16 L444.39,222.4 L444.62,224.64 L444.86,226.88 L445.13,229.13 L445.42,231.38 L445.73,233.62 L446.06,235.87 L446.42,238.11 L446.81,240.35 L447.23,242.59 L447.67,244.83 L448.1,247.07 L448.57,249.31 L449.08,251.54 L449.62,253.77 L450.21,256 L450.83,258.21 L451.5,260.41 L452.22,262.61 L452.98,264.79 L453.79,266.95 L454.64,269.11 L455.55,271.24 L456.5,273.36 L457.51,275.45 L458.58,277.53 L459.69,279.58 L460.86,281.61 L462.1,283.6 L463.39,285.57 L464.74,287.49 L466.16,289.38 L467.64,291.23 L469.19,293.02 L470.81,294.77 L472.48,296.46 L474.23,298.09 L476.04,299.66 L477.91,301.15 L479.84,302.57 L481.81,303.91 L483.82,305.17 L485.86,306.36 L487.93,307.48 L490.02,308.54 L492.14,309.52 L494.27,310.43 L496.42,311.29 L498.58,312.1 L500.74,312.87 L502.91,313.6 L505.1,314.29 L507.28,314.95 L509.48,315.57 L511.68,316.16 L513.88,316.72 L516.1,317.2 L518.31,317.66 L520.53,318.09 L522.75,318.49 L524.97,318.88 L527.19,319.25 L529.41,319.59 L531.63,319.92 L533.84,320.24 L536.06,320.54 L538.27,320.84 L540.49,321.12 L542.7,321.39 L544.92,321.65 L547.13,321.91 L549.35,322.15 L551.58,322.32 L553.82,322.34 L556.07,322.35 L558.31,322.34 L560.55,322.33 L562.79,322.31 L565.03,322.28 L567.27,322.25 L569.51,322.2 L571.74,322.14 L571.81,321.55 L569.63,321.03 L567.47,320.5 L565.3,319.96 L563.14,319.42 L560.98,318.87 L558.82,318.3 L556.67,317.73 L554.52,317.16 L552.38,316.57 L550.22,316.11 L548.05,315.72 L545.88,315.31 L543.72,314.9 L541.56,314.48 L539.4,314.05 L537.24,313.61 L535.09,313.16 L532.94,312.7 L530.8,312.22 L528.67,311.73 L526.54,311.23 L524.42,310.7 L522.31,310.16 L520.21,309.6 L518.12,309.01 L516.04,308.41 L513.97,307.82 L511.9,307.2 L509.84,306.56 L507.8,305.89 L505.78,305.19 L503.77,304.46 L501.77,303.69 L499.8,302.89 L497.86,302.05 L495.94,301.17 L494.04,300.27 L492.17,299.34 L490.34,298.35 L488.55,297.32 L486.8,296.23 L485.1,295.09 L483.45,293.89 L481.86,292.63 L480.31,291.3 L478.81,289.91 L477.36,288.47 L475.96,286.97 L474.61,285.41 L473.3,283.81 L472.05,282.16 L470.85,280.47 L469.7,278.73 L468.6,276.96 L467.54,275.16 L466.53,273.32 L465.57,271.45 L464.66,269.55 L463.79,267.63 L462.97,265.69 L462.19,263.72 L461.45,261.73 L460.75,259.73 L460.09,257.71 L459.47,255.67 L458.89,253.62 L458.34,251.56 L457.84,249.48 L457.36,247.39 L456.92,245.3 L456.52,243.19 L456.17,241.06 L455.88,238.93 L455.61,236.79 L455.37,234.64 L455.15,232.49 L454.95,230.33 L454.78,228.17 L454.63,226 L454.49,223.83 L454.37,221.65 L454.27,219.47 L454.17,217.29 L454.03,215.11 L453.9,212.92 L453.79,210.73 L453.68,208.53 L453.57,206.33 L453.47,204.12 L453.38,201.92 L453.28,199.71 L453.19,197.49 L453.09,195.27 L452.97,193.05 L452.85,190.83 L452.72,188.6 L452.58,186.37 L452.43,184.14 L452.27,181.9 L452.1,179.66 L451.92,177.42 L451.71,175.18 L451.49,172.93 L451.25,170.69 L450.99,168.44 L450.7,166.19 L450.39,163.94 L450.05,161.69 L449.68,159.45Z" fill="none" stroke="#5a96f5" stroke-width="1.0" stroke-opacity="1.0" stroke-linejoin="round"/>
<path d="M441.38,160.75 L441.67,162.81 L441.93,164.88 L442.17,166.95 L442.38,169.02 L442.58,171.1 L442.75,173.19 L442.91,175.27 L443.05,177.37 L443.17,179.46 L443.29,181.56 L443.39,183.67 L443.48,185.77 L443.56,187.88 L443.63,190 L443.7,192.11 L443.76,194.23 L443.83,196.35 L443.9,198.48 L443.97,200.6 L444.04,202.73 L444.12,204.86 L444.19,207 L444.28,209.14 L444.36,211.28 L444.46,213.42 L444.57,215.56 L444.68,217.71 L444.87,219.86 L445.1,222 L445.34,224.15 L445.59,226.29 L445.87,228.44 L446.16,230.59 L446.48,232.73 L446.81,234.88 L447.17,237.02 L447.56,239.16 L447.97,241.29 L448.41,243.42 L448.86,245.56 L449.33,247.68 L449.83,249.81 L450.36,251.92 L450.93,254.03 L451.54,256.13 L452.19,258.22 L452.87,260.3 L453.59,262.36 L454.36,264.42 L455.17,266.45 L456.02,268.47 L456.91,270.48 L457.85,272.46 L458.83,274.42 L459.87,276.36 L460.92,278.29 L462.02,280.2 L463.16,282.09 L464.36,283.94 L465.62,285.76 L466.93,287.54 L468.3,289.29 L469.72,290.99 L471.2,292.64 L472.74,294.25 L474.34,295.8 L475.99,297.3 L477.7,298.74 L479.46,300.11 L481.28,301.41 L483.13,302.64 L485.02,303.81 L486.94,304.91 L488.88,305.95 L490.85,306.94 L492.84,307.87 L494.85,308.74 L496.87,309.56 L498.91,310.34 L500.95,311.09 L503.01,311.79 L505.07,312.46 L507.14,313.1 L509.22,313.71 L511.31,314.29 L513.4,314.84 L515.5,315.35 L517.6,315.81 L519.71,316.25 L521.82,316.67 L523.94,317.07 L526.05,317.45 L528.17,317.81 L530.28,318.16 L532.4,318.49 L534.51,318.81 L536.63,319.11 L538.75,319.41 L540.86,319.7 L542.98,319.98 L545.1,320.23 L547.24,320.37 L549.38,320.49 L551.52,320.61 L553.65,320.72 L555.79,320.82 L557.93,320.92 L560.06,321 L562.2,321.08 L562.27,320.48 L560.18,320.04 L558.1,319.59 L556.01,319.13 L553.93,318.67 L551.86,318.2 L549.78,317.72 L547.71,317.23 L545.64,316.73 L543.55,316.33 L541.47,315.94 L539.38,315.55 L537.3,315.15 L535.22,314.73 L533.15,314.31 L531.08,313.87 L529.02,313.43 L526.96,312.96 L524.9,312.48 L522.85,311.99 L520.81,311.47 L518.78,310.93 L516.76,310.38 L514.74,309.81 L512.72,309.24 L510.72,308.64 L508.72,308.02 L506.74,307.37 L504.77,306.69 L502.81,305.98 L500.86,305.23 L498.94,304.46 L497.04,303.64 L495.15,302.79 L493.29,301.9 L491.46,300.98 L489.65,300.02 L487.88,299 L486.15,297.93 L484.46,296.8 L482.81,295.62 L481.22,294.38 L479.67,293.08 L478.17,291.72 L476.72,290.31 L475.31,288.84 L473.96,287.33 L472.65,285.76 L471.39,284.16 L470.18,282.51 L469.02,280.83 L467.91,279.11 L466.84,277.36 L465.82,275.57 L464.86,273.76 L463.96,271.9 L463.12,270.02 L462.31,268.12 L461.55,266.21 L460.83,264.27 L460.14,262.32 L459.5,260.36 L458.9,258.38 L458.33,256.39 L457.8,254.39 L457.31,252.38 L456.85,250.36 L456.42,248.33 L456.03,246.29 L455.66,244.25 L455.34,242.2 L455.06,240.13 L454.81,238.06 L454.59,235.99 L454.39,233.91 L454.21,231.83 L454.06,229.75 L453.92,227.66 L453.8,225.57 L453.7,223.47 L453.62,221.38 L453.55,219.28 L453.46,217.17 L453.33,215.07 L453.21,212.97 L453.09,210.86 L452.99,208.75 L452.88,206.64 L452.79,204.52 L452.7,202.4 L452.61,200.27 L452.52,198.15 L452.42,196.02 L452.32,193.89 L452.21,191.75 L452.09,189.62 L451.97,187.48 L451.84,185.34 L451.7,183.2 L451.55,181.05 L451.39,178.9 L451.21,176.76 L451.01,174.61 L450.8,172.45 L450.58,170.3 L450.33,168.15 L450.05,166 L449.76,163.84 L449.44,161.69 L449.09,159.55Z" fill="none" stroke="#50d2f0" stroke-width="1.0" stroke-opacity="1.0" stroke-linejoin="round"/>
<path d="M441.97,160.66 L442.11,161.62 L442.25,162.57 L442.38,163.53 L442.5,164.48 L442.61,165.44 L442.73,166.4 L442.83,167.36 L442.94,168.32 L443.04,169.28 L443.13,170.25 L443.22,171.21 L443.3,172.18 L443.39,173.14 L443.46,174.11 L443.54,175.08 L443.61,176.05 L443.67,177.01 L443.74,177.98 L443.8,178.95 L443.86,179.93 L443.91,180.9 L443.96,181.87 L444.01,182.84 L444.06,183.82 L444.11,184.79 L444.15,185.77 L444.19,186.74 L444.23,187.72 L444.27,188.7 L444.3,189.67 L444.34,190.65 L444.37,191.63 L444.41,192.61 L444.44,193.59 L444.47,194.57 L444.5,195.55 L444.53,196.53 L444.57,197.51 L444.6,198.49 L444.63,199.47 L444.66,200.46 L444.7,201.44 L444.73,202.42 L444.76,203.41 L444.8,204.39 L444.83,205.38 L444.87,206.36 L444.91,207.35 L444.94,208.34 L444.98,209.32 L445.02,210.31 L445.07,211.3 L445.11,212.29 L445.16,213.28 L445.2,214.27 L445.25,215.26 L445.3,216.25 L445.36,217.24 L445.41,218.23 L445.51,219.22 L445.61,220.21 L445.71,221.2 L445.82,222.18 L445.93,223.17 L446.04,224.16 L446.16,225.15 L446.28,226.14 L446.4,227.13 L446.53,228.12 L446.66,229.11 L446.8,230.1 L446.94,231.09 L447.09,232.07 L447.24,233.06 L447.39,234.05 L447.55,235.03 L447.71,236.02 L447.88,237.01 L448.06,237.99 L448.24,238.98 L448.42,239.96 L448.62,240.94 L448.81,241.92 L449.02,242.9 L449.24,243.88 L449.52,244.85 L449.81,245.81 L450.11,246.77 L450.41,247.73 L450.72,248.69 L451.03,249.64 L451.36,250.59 L451.69,251.54 L452.03,252.48 L452.37,253.42 L452.72,254.36 L453.08,255.3 L453.45,256.23 L453.82,257.16 L454.2,258.08 L454.59,259 L454.99,259.92 L455.4,260.83 L455.81,261.73 L456.23,262.64 L456.66,263.53 L457.1,264.43 L457.54,265.31 L458,266.19 L458.56,265.97 L458.3,265.02 L458.05,264.07 L457.81,263.12 L457.58,262.16 L457.36,261.21 L457.15,260.25 L456.94,259.29 L456.75,258.33 L456.56,257.37 L456.39,256.41 L456.22,255.45 L456.06,254.48 L455.9,253.52 L455.76,252.55 L455.62,251.59 L455.49,250.62 L455.37,249.66 L455.26,248.69 L455.15,247.73 L455.05,246.76 L454.96,245.79 L454.87,244.82 L454.79,243.86 L454.72,242.89 L454.59,241.93 L454.46,240.97 L454.34,240.01 L454.22,239.05 L454.11,238.09 L454.01,237.13 L453.9,236.17 L453.81,235.21 L453.72,234.24 L453.63,233.28 L453.55,232.31 L453.47,231.35 L453.4,230.38 L453.33,229.41 L453.27,228.45 L453.21,227.48 L453.15,226.51 L453.1,225.54 L453.05,224.57 L453.01,223.6 L452.97,222.63 L452.93,221.66 L452.89,220.69 L452.86,219.71 L452.83,218.74 L452.8,217.77 L452.73,216.79 L452.67,215.82 L452.61,214.85 L452.56,213.88 L452.5,212.9 L452.45,211.93 L452.4,210.95 L452.35,209.97 L452.3,209 L452.25,208.02 L452.2,207.04 L452.16,206.06 L452.11,205.08 L452.07,204.11 L452.03,203.13 L451.98,202.14 L451.94,201.16 L451.9,200.18 L451.86,199.2 L451.82,198.22 L451.78,197.23 L451.73,196.25 L451.69,195.27 L451.64,194.28 L451.6,193.3 L451.55,192.31 L451.5,191.33 L451.45,190.34 L451.39,189.35 L451.34,188.37 L451.29,187.38 L451.23,186.39 L451.17,185.4 L451.11,184.41 L451.05,183.43 L450.98,182.44 L450.92,181.45 L450.84,180.46 L450.77,179.47 L450.7,178.48 L450.62,177.48 L450.54,176.49 L450.45,175.5 L450.36,174.51 L450.27,173.52 L450.17,172.53 L450.07,171.53 L449.97,170.54 L449.86,169.55 L449.75,168.56 L449.63,167.57 L449.5,166.57 L449.38,165.58 L449.24,164.59 L449.1,163.6 L448.96,162.61 L448.81,161.62 L448.66,160.62 L448.49,159.64Z" fill="none" stroke="#8ce68c" stroke-width="1.0" stroke-opacity="1.0" stroke-linejoin="round"/>
<path d="M442.57,160.57 L442.7,161.48 L442.83,162.39 L442.95,163.3 L443.07,164.21 L443.18,165.13 L443.29,166.04 L443.39,166.95 L443.49,167.87 L443.59,168.79 L443.68,169.7 L443.77,170.62 L443.85,171.54 L443.93,172.46 L444.01,173.38 L444.08,174.3 L444.15,175.23 L444.22,176.15 L444.28,177.07 L444.34,177.99 L444.4,178.92 L444.45,179.84 L444.5,180.77 L444.55,181.69 L444.6,182.62 L444.65,183.55 L444.69,184.47 L444.73,185.4 L444.77,186.33 L444.81,187.26 L444.85,188.19 L444.88,189.12 L444.92,190.04 L444.95,190.97 L444.98,191.91 L445.01,192.84 L445.04,193.77 L445.07,194.7 L445.1,195.63 L445.13,196.56 L445.17,197.5 L445.2,198.43 L445.23,199.36 L445.26,200.3 L445.29,201.23 L445.32,202.17 L445.35,203.1 L445.39,204.04 L445.42,204.97 L445.45,205.91 L445.49,206.84 L445.52,207.78 L445.56,208.72 L445.6,209.66 L445.64,210.59 L445.68,211.53 L445.72,212.47 L445.76,213.41 L445.81,214.35 L445.85,215.29 L445.9,216.23 L445.95,217.17 L446.01,218.11 L446.09,219.05 L446.18,219.98 L446.28,220.92 L446.37,221.86 L446.47,222.8 L446.58,223.74 L446.68,224.68 L446.79,225.61 L446.9,226.55 L447.02,227.49 L447.14,228.43 L447.26,229.37 L447.39,230.3 L447.52,231.24 L447.65,232.18 L447.79,233.11 L447.93,234.05 L448.08,234.99 L448.23,235.92 L448.39,236.85 L448.55,237.79 L448.72,238.72 L448.89,239.65 L449.07,240.59 L449.25,241.52 L449.44,242.45 L449.63,243.38 L449.88,244.29 L450.15,245.21 L450.43,246.12 L450.72,247.03 L451.01,247.93 L451.31,248.84 L451.61,249.74 L451.92,250.64 L452.24,251.53 L452.56,252.42 L452.89,253.31 L453.23,254.2 L453.57,255.09 L453.92,255.97 L454.28,256.84 L454.64,257.72 L455.01,258.59 L455.39,259.45 L455.78,260.31 L456.17,261.17 L456.73,260.98 L456.54,260.06 L456.35,259.15 L456.17,258.23 L456,257.31 L455.83,256.39 L455.67,255.47 L455.52,254.55 L455.38,253.63 L455.25,252.71 L455.12,251.79 L455,250.87 L454.88,249.95 L454.77,249.02 L454.67,248.1 L454.58,247.18 L454.49,246.25 L454.41,245.33 L454.33,244.41 L454.26,243.48 L454.18,242.56 L454.05,241.65 L453.92,240.74 L453.8,239.83 L453.69,238.91 L453.58,238 L453.47,237.08 L453.37,236.16 L453.28,235.25 L453.19,234.33 L453.1,233.41 L453.02,232.49 L452.94,231.57 L452.87,230.65 L452.8,229.73 L452.74,228.81 L452.67,227.89 L452.62,226.97 L452.56,226.04 L452.51,225.12 L452.46,224.2 L452.41,223.27 L452.37,222.35 L452.33,221.42 L452.3,220.5 L452.26,219.57 L452.23,218.65 L452.19,217.72 L452.13,216.8 L452.07,215.87 L452.02,214.94 L451.96,214.02 L451.91,213.09 L451.86,212.16 L451.81,211.24 L451.76,210.31 L451.71,209.38 L451.67,208.45 L451.62,207.52 L451.58,206.59 L451.54,205.66 L451.5,204.73 L451.46,203.8 L451.42,202.87 L451.38,201.93 L451.34,201 L451.3,200.07 L451.26,199.13 L451.22,198.2 L451.18,197.27 L451.14,196.33 L451.1,195.4 L451.05,194.46 L451.01,193.53 L450.96,192.59 L450.91,191.66 L450.87,190.72 L450.82,189.78 L450.77,188.85 L450.71,187.91 L450.66,186.97 L450.61,186.03 L450.55,185.09 L450.49,184.16 L450.43,183.22 L450.37,182.28 L450.31,181.34 L450.24,180.4 L450.17,179.46 L450.1,178.52 L450.02,177.58 L449.95,176.64 L449.87,175.7 L449.78,174.76 L449.7,173.82 L449.6,172.88 L449.51,171.94 L449.41,171 L449.31,170.06 L449.21,169.12 L449.1,168.18 L448.98,167.24 L448.86,166.3 L448.74,165.36 L448.61,164.42 L448.48,163.48 L448.34,162.54 L448.2,161.6 L448.05,160.67 L447.9,159.73Z" fill="none" stroke="#ebe65a" stroke-width="1.0" stroke-opacity="1.0" stroke-linejoin="round"/>
<path d="M443.26,160.46 L443.38,161.25 L443.49,162.04 L443.6,162.84 L443.71,163.63 L443.81,164.42 L443.91,165.22 L444.01,166.01 L444.1,166.81 L444.19,167.61 L444.28,168.4 L444.36,169.2 L444.44,170 L444.52,170.8 L444.59,171.6 L444.66,172.4 L444.73,173.2 L444.8,174 L444.86,174.8 L444.92,175.6 L444.98,176.4 L445.04,177.2 L445.09,178.01 L445.14,178.81 L445.19,179.61 L445.24,180.42 L445.29,181.22 L445.33,182.02 L445.38,182.83 L445.42,183.63 L445.46,184.44 L445.5,185.24 L445.54,186.05 L445.57,186.85 L445.61,187.66 L445.64,188.47 L445.67,189.27 L445.7,190.08 L445.74,190.89 L445.77,191.69 L445.79,192.5 L445.82,193.31 L445.85,194.12 L445.88,194.93 L445.91,195.73 L445.93,196.54 L445.96,197.35 L445.99,198.16 L446.02,198.97 L446.04,199.78 L446.07,200.59 L446.1,201.4 L446.12,202.21 L446.15,203.02 L446.18,203.83 L446.21,204.64 L446.24,205.45 L446.27,206.26 L446.3,207.07 L446.33,207.88 L446.36,208.7 L446.39,209.51 L446.43,210.32 L446.46,211.13 L446.5,211.94 L446.53,212.76 L446.57,213.57 L446.61,214.38 L446.65,215.2 L446.69,216.01 L446.74,216.82 L446.78,217.63 L446.84,218.45 L446.92,219.26 L447,220.07 L447.08,220.88 L447.16,221.69 L447.25,222.51 L447.34,223.32 L447.43,224.13 L447.53,224.94 L447.62,225.75 L447.72,226.56 L447.82,227.37 L447.93,228.18 L448.03,228.99 L448.14,229.8 L448.26,230.61 L448.37,231.42 L448.49,232.23 L448.61,233.04 L448.77,233.84 L448.95,234.64 L449.13,235.44 L449.32,236.24 L449.51,237.04 L449.71,237.83 L449.91,238.63 L450.11,239.42 L450.31,240.22 L450.52,241.01 L450.74,241.8 L450.96,242.59 L451.18,243.38 L451.4,244.16 L451.63,244.95 L451.87,245.73 L452.11,246.51 L452.35,247.29 L452.6,248.07 L453.18,247.94 L453.1,247.13 L453.01,246.33 L452.93,245.52 L452.86,244.71 L452.79,243.9 L452.72,243.1 L452.66,242.29 L452.6,241.48 L452.55,240.68 L452.5,239.87 L452.46,239.06 L452.42,238.25 L452.38,237.45 L452.35,236.64 L452.32,235.83 L452.29,235.03 L452.27,234.22 L452.25,233.41 L452.21,232.61 L452.14,231.81 L452.08,231.01 L452.02,230.21 L451.96,229.41 L451.9,228.6 L451.85,227.8 L451.8,227 L451.76,226.2 L451.71,225.39 L451.67,224.59 L451.63,223.79 L451.59,222.98 L451.56,222.18 L451.53,221.38 L451.49,220.57 L451.47,219.77 L451.44,218.96 L451.41,218.16 L451.37,217.35 L451.32,216.55 L451.27,215.75 L451.22,214.94 L451.17,214.14 L451.12,213.33 L451.08,212.53 L451.03,211.72 L450.99,210.92 L450.95,210.11 L450.91,209.3 L450.87,208.5 L450.83,207.69 L450.79,206.88 L450.76,206.08 L450.72,205.27 L450.68,204.46 L450.65,203.65 L450.61,202.85 L450.58,202.04 L450.54,201.23 L450.51,200.42 L450.48,199.61 L450.44,198.8 L450.41,197.99 L450.37,197.18 L450.34,196.37 L450.3,195.56 L450.27,194.75 L450.23,193.94 L450.19,193.13 L450.15,192.32 L450.12,191.51 L450.08,190.7 L450.04,189.89 L450,189.08 L449.95,188.26 L449.91,187.45 L449.87,186.64 L449.82,185.83 L449.77,185.02 L449.73,184.2 L449.68,183.39 L449.63,182.58 L449.57,181.77 L449.52,180.95 L449.46,180.14 L449.4,179.33 L449.34,178.52 L449.28,177.7 L449.22,176.89 L449.15,176.08 L449.08,175.26 L449.01,174.45 L448.94,173.64 L448.86,172.83 L448.78,172.01 L448.7,171.2 L448.61,170.39 L448.53,169.57 L448.44,168.76 L448.34,167.95 L448.24,167.14 L448.14,166.32 L448.04,165.51 L447.93,164.7 L447.82,163.89 L447.71,163.08 L447.59,162.27 L447.47,161.46 L447.34,160.65 L447.21,159.84Z" fill="none" stroke="#f5aa5a" stroke-width="1.0" stroke-opacity="1.0" stroke-linejoin="round"/>
<path d="M447.97,200.01 L447.94,200.34 L447.91,200.67 L447.88,201.01 L447.85,201.34 L447.82,201.67 L447.79,202.01 L447.76,202.34 L447.73,202.67 L447.7,203.01 L447.67,203.34 L447.65,203.67 L447.62,204.01 L447.59,204.34 L447.56,204.68 L447.53,205.01 L447.5,205.34 L447.47,205.68 L447.44,206.01 L447.41,206.34 L447.38,206.68 L447.36,207.01 L447.33,207.34 L447.3,207.68 L447.29,208.01 L447.29,208.34 L447.3,208.68 L447.31,209.01 L447.32,209.34 L447.33,209.67 L447.34,210.01 L447.34,210.34 L447.35,210.67 L447.36,211 L447.37,211.34 L447.38,211.67 L447.39,212 L447.4,212.33 L447.41,212.67 L447.42,213 L447.43,213.33 L447.44,213.66 L447.45,214 L447.47,214.33 L447.48,214.66 L447.49,215 L447.5,215.33 L447.51,215.66 L447.53,215.99 L447.54,216.33 L447.55,216.66 L447.56,216.99 L447.58,217.33 L447.59,217.66 L447.61,217.99 L447.63,218.32 L447.66,218.66 L447.69,218.99 L447.72,219.32 L447.75,219.65 L447.79,219.98 L447.82,220.31 L447.85,220.65 L447.89,220.98 L447.92,221.31 L447.95,221.64 L447.99,221.97 L448.02,222.31 L448.06,222.64 L448.1,222.97 L448.13,223.3 L448.17,223.63 L448.2,223.96 L448.24,224.29 L448.28,224.63 L448.32,224.96 L448.36,225.29 L448.39,225.62 L448.43,225.95 L448.47,226.28 L448.51,226.61 L448.55,226.95 L448.6,227.28 L448.64,227.61 L448.68,227.94 L448.74,228.27 L448.81,228.6 L448.88,228.92 L448.95,229.25 L449.02,229.58 L449.09,229.91 L449.16,230.24 L449.23,230.56 L449.31,230.89 L449.38,231.22 L449.45,231.54 L449.52,231.87 L449.6,232.2 L449.67,232.52 L449.75,232.85 L449.82,233.18 L449.9,233.5 L449.97,233.83 L450.05,234.16 L450.13,234.48 L450.21,234.81 L450.29,235.13 L450.36,235.46 L450.44,235.78 L450.52,236.11 L451.12,236.03 L451.11,235.69 L451.1,235.36 L451.1,235.03 L451.09,234.69 L451.08,234.36 L451.08,234.03 L451.07,233.69 L451.07,233.36 L451.06,233.03 L451.06,232.7 L451.06,232.36 L451.05,232.03 L451.05,231.7 L451.05,231.36 L451.05,231.03 L451.05,230.7 L451.05,230.37 L451.05,230.03 L451.05,229.7 L451.05,229.37 L451.06,229.04 L451.06,228.71 L451.06,228.37 L451.07,228.04 L451.07,227.71 L451.05,227.38 L451.03,227.05 L451.01,226.72 L450.99,226.39 L450.97,226.06 L450.95,225.73 L450.93,225.4 L450.91,225.07 L450.89,224.74 L450.88,224.41 L450.86,224.08 L450.84,223.75 L450.83,223.42 L450.81,223.09 L450.79,222.76 L450.78,222.43 L450.76,222.1 L450.75,221.77 L450.74,221.44 L450.72,221.11 L450.71,220.78 L450.7,220.45 L450.68,220.12 L450.67,219.79 L450.66,219.46 L450.65,219.13 L450.64,218.8 L450.62,218.47 L450.61,218.14 L450.59,217.81 L450.57,217.48 L450.54,217.15 L450.51,216.82 L450.49,216.49 L450.46,216.16 L450.44,215.83 L450.41,215.5 L450.39,215.17 L450.36,214.84 L450.34,214.51 L450.31,214.18 L450.29,213.85 L450.26,213.52 L450.24,213.19 L450.22,212.86 L450.19,212.53 L450.17,212.2 L450.15,211.87 L450.13,211.54 L450.1,211.21 L450.08,210.87 L450.06,210.54 L450.04,210.21 L450.02,209.88 L449.99,209.55 L449.97,209.22 L449.95,208.89 L449.93,208.56 L449.91,208.23 L449.89,207.9 L449.85,207.57 L449.79,207.24 L449.73,206.91 L449.68,206.58 L449.62,206.25 L449.57,205.92 L449.51,205.59 L449.45,205.26 L449.4,204.93 L449.34,204.6 L449.29,204.27 L449.23,203.94 L449.18,203.61 L449.12,203.28 L449.07,202.96 L449.01,202.63 L448.96,202.3 L448.9,201.97 L448.85,201.64 L448.79,201.31 L448.74,200.98 L448.68,200.65 L448.63,200.32 L448.57,199.99Z" fill="none" stroke="#f07864" stroke-width="1.0" stroke-opacity="1.0" stroke-linejoin="round"/>
<path d="M518.06,313.65 L518.45,313.78 L518.84,313.91 L519.23,314.04 L519.62,314.17 L520.02,314.3 L520.41,314.43 L520.8,314.56 L521.19,314.68 L521.59,314.81 L521.98,314.93 L522.38,315.06 L522.77,315.18 L523.17,315.3 L523.56,315.43 L523.96,315.55 L524.35,315.67 L524.75,315.79 L525.14,315.91 L525.54,316.03 L525.94,316.15 L526.33,316.27 L526.73,316.38 L527.13,316.5 L527.53,316.62 L527.92,316.73 L528.32,316.85 L528.72,316.96 L529.12,317.07 L529.51,317.19 L529.91,317.3 L530.32,317.38 L530.72,317.47 L531.12,317.55 L531.53,317.64 L531.93,317.72 L532.34,317.81 L532.74,317.89 L533.14,317.97 L533.55,318.06 L533.95,318.14 L534.36,318.22 L534.76,318.3 L535.16,318.38 L535.57,318.46 L535.97,318.54 L536.38,318.62 L536.78,318.7 L537.19,318.78 L537.59,318.86 L538,318.91 L538.41,318.97 L538.81,319.03 L539.22,319.09 L539.63,319.14 L540.04,319.2 L540.45,319.25 L540.85,319.31 L541.26,319.36 L541.67,319.42 L542.08,319.47 L542.49,319.53 L542.9,319.58 L543.3,319.64 L543.71,319.69 L544.12,319.74 L544.53,319.79 L544.94,319.85 L545.35,319.9 L545.75,319.95 L546.16,320 L546.57,320.05 L546.98,320.1 L547.39,320.15 L547.8,320.2 L548.21,320.25 L548.62,320.3 L549.02,320.35 L549.43,320.4 L549.84,320.44 L550.26,320.46 L550.67,320.49 L551.08,320.52 L551.49,320.54 L551.9,320.56 L552.32,320.59 L552.73,320.61 L553.14,320.64 L553.55,320.66 L553.96,320.68 L554.38,320.71 L554.79,320.73 L555.2,320.75 L555.61,320.77 L556.02,320.79 L556.43,320.81 L556.85,320.83 L557.26,320.86 L557.67,320.88 L558.08,320.9 L558.49,320.91 L558.91,320.93 L559.32,320.95 L559.73,320.97 L560.14,320.99 L560.55,321.01 L560.97,321.03 L561.38,321.04 L561.79,321.06 L562.2,321.08 L562.27,320.48 L561.87,320.4 L561.47,320.32 L561.06,320.23 L560.66,320.15 L560.26,320.07 L559.85,319.99 L559.45,319.9 L559.05,319.82 L558.64,319.73 L558.24,319.65 L557.84,319.56 L557.44,319.48 L557.03,319.39 L556.63,319.31 L556.23,319.22 L555.83,319.14 L555.43,319.05 L555.02,318.96 L554.62,318.88 L554.22,318.79 L553.82,318.7 L553.42,318.61 L553.02,318.52 L552.61,318.44 L552.21,318.35 L551.81,318.26 L551.41,318.17 L551.01,318.08 L550.61,317.99 L550.21,317.9 L549.81,317.82 L549.4,317.75 L549,317.68 L548.59,317.61 L548.19,317.54 L547.79,317.47 L547.38,317.4 L546.98,317.33 L546.58,317.26 L546.17,317.19 L545.77,317.12 L545.37,317.05 L544.96,316.97 L544.56,316.9 L544.16,316.83 L543.75,316.76 L543.35,316.68 L542.95,316.61 L542.54,316.53 L542.14,316.46 L541.74,316.39 L541.34,316.31 L540.93,316.24 L540.53,316.16 L540.13,316.08 L539.73,316.01 L539.32,315.93 L538.92,315.86 L538.52,315.78 L538.12,315.7 L537.71,315.64 L537.31,315.58 L536.9,315.53 L536.5,315.47 L536.09,315.41 L535.69,315.35 L535.28,315.29 L534.88,315.23 L534.47,315.17 L534.07,315.11 L533.66,315.05 L533.26,314.99 L532.86,314.93 L532.45,314.86 L532.05,314.8 L531.64,314.74 L531.24,314.67 L530.84,314.61 L530.43,314.54 L530.02,314.5 L529.62,314.46 L529.21,314.42 L528.8,314.38 L528.39,314.34 L527.98,314.29 L527.57,314.25 L527.17,314.21 L526.76,314.16 L526.35,314.12 L525.94,314.07 L525.53,314.03 L525.13,313.98 L524.72,313.93 L524.31,313.88 L523.9,313.83 L523.49,313.78 L523.09,313.73 L522.68,313.68 L522.27,313.63 L521.86,313.58 L521.46,313.52 L521.05,313.47 L520.64,313.41 L520.23,313.36 L519.83,313.3 L519.42,313.24 L519.01,313.18 L518.6,313.13 L518.2,313.07Z" fill="none" stroke="#8ce68c" stroke-width="1.0" stroke-opacity="1.0" stroke-linejoin="round"/>
<path d="M527.18,315.65 L527.39,315.7 L527.59,315.75 L527.8,315.8 L528,315.86 L528.2,315.91 L528.41,315.96 L528.61,316.01 L528.82,316.06 L529.02,316.11 L529.23,316.16 L529.43,316.22 L529.63,316.27 L529.84,316.32 L530.04,316.37 L530.25,316.42 L530.45,316.47 L530.66,316.52 L530.86,316.57 L531.07,316.62 L531.27,316.67 L531.48,316.72 L531.68,316.77 L531.89,316.82 L532.09,316.87 L532.3,316.91 L532.5,316.96 L532.71,317.01 L532.91,317.06 L533.12,317.11 L533.32,317.16 L533.53,317.21 L533.73,317.25 L533.94,317.3 L534.14,317.35 L534.35,317.4 L534.55,317.45 L534.76,317.49 L534.96,317.54 L535.17,317.59 L535.37,317.64 L535.58,317.68 L535.78,317.73 L535.99,317.78 L536.2,317.82 L536.4,317.87 L536.61,317.92 L536.81,317.97 L537.02,318.01 L537.22,318.06 L537.43,318.1 L537.63,318.15 L537.84,318.18 L538.05,318.21 L538.26,318.23 L538.47,318.25 L538.68,318.28 L538.89,318.3 L539.1,318.33 L539.31,318.35 L539.52,318.37 L539.73,318.4 L539.94,318.42 L540.15,318.44 L540.35,318.47 L540.56,318.49 L540.77,318.51 L540.98,318.54 L541.19,318.56 L541.4,318.58 L541.61,318.61 L541.82,318.63 L542.03,318.65 L542.24,318.68 L542.45,318.7 L542.66,318.72 L542.87,318.74 L543.08,318.77 L543.29,318.79 L543.5,318.81 L543.71,318.83 L543.91,318.85 L544.12,318.88 L544.33,318.9 L544.54,318.92 L544.75,318.94 L544.96,318.96 L545.17,318.98 L545.38,319.01 L545.59,319.03 L545.8,319.05 L546.01,319.07 L546.22,319.09 L546.43,319.11 L546.64,319.13 L546.85,319.15 L547.06,319.17 L547.27,319.19 L547.48,319.22 L547.68,319.24 L547.89,319.26 L548.1,319.28 L548.31,319.3 L548.52,319.32 L548.73,319.34 L548.94,319.36 L549.15,319.38 L549.36,319.4 L549.57,319.42 L549.78,319.44 L549.87,318.84 L549.66,318.8 L549.45,318.76 L549.25,318.72 L549.04,318.68 L548.83,318.64 L548.63,318.6 L548.42,318.56 L548.22,318.52 L548.01,318.48 L547.8,318.44 L547.6,318.4 L547.39,318.35 L547.18,318.31 L546.98,318.27 L546.77,318.23 L546.57,318.19 L546.36,318.15 L546.15,318.11 L545.95,318.06 L545.74,318.02 L545.54,317.98 L545.33,317.94 L545.12,317.9 L544.92,317.85 L544.71,317.81 L544.51,317.77 L544.3,317.73 L544.1,317.69 L543.89,317.64 L543.68,317.6 L543.48,317.56 L543.27,317.52 L543.07,317.47 L542.86,317.43 L542.66,317.39 L542.45,317.34 L542.24,317.3 L542.04,317.26 L541.83,317.21 L541.63,317.17 L541.42,317.13 L541.22,317.08 L541.01,317.04 L540.81,317 L540.6,316.95 L540.4,316.91 L540.19,316.86 L539.98,316.82 L539.78,316.78 L539.57,316.73 L539.37,316.69 L539.16,316.64 L538.96,316.6 L538.75,316.56 L538.55,316.51 L538.34,316.47 L538.14,316.42 L537.93,316.38 L537.72,316.36 L537.51,316.34 L537.3,316.31 L537.1,316.29 L536.89,316.27 L536.68,316.24 L536.47,316.22 L536.26,316.19 L536.05,316.17 L535.84,316.15 L535.64,316.12 L535.43,316.1 L535.22,316.07 L535.01,316.05 L534.8,316.02 L534.59,316 L534.38,315.98 L534.18,315.95 L533.97,315.93 L533.76,315.9 L533.55,315.88 L533.34,315.85 L533.13,315.82 L532.92,315.8 L532.72,315.77 L532.51,315.75 L532.3,315.72 L532.09,315.7 L531.88,315.67 L531.67,315.64 L531.46,315.62 L531.26,315.59 L531.05,315.56 L530.84,315.54 L530.63,315.51 L530.42,315.48 L530.21,315.46 L530.01,315.43 L529.8,315.4 L529.59,315.37 L529.38,315.35 L529.17,315.32 L528.97,315.29 L528.76,315.26 L528.55,315.23 L528.34,315.2 L528.13,315.18 L527.92,315.15 L527.72,315.12 L527.51,315.09 L527.3,315.06Z" fill="none" stroke="#ebe65a" stroke-width="1.0" stroke-opacity="1.0" stroke-linejoin="round"/>
<path d="M446.9,195.07 L447.04,196.52 L447.18,197.98 L447.31,199.44 L447.44,200.91 L447.56,202.39 L447.68,203.87 L447.79,205.35 L447.9,206.84 L448.01,208.34 L448.12,209.84 L448.22,211.34 L448.33,212.84 L448.43,214.35 L448.54,215.86 L448.65,217.38 L448.76,218.89 L448.87,220.41 L448.98,221.93 L449.1,223.45 L449.23,224.97 L449.36,226.5 L449.49,228.02 L449.64,229.54 L449.78,231.06 L449.94,232.58 L450.11,234.1 L450.28,235.62 L450.47,237.14 L450.66,238.66 L450.87,240.17 L451.08,241.68 L451.31,243.19 L451.56,244.69 L451.81,246.2 L452.08,247.69 L452.37,249.19 L452.67,250.68 L452.98,252.16 L453.32,253.64 L453.67,255.11 L454.04,256.58 L454.42,258.04 L454.83,259.5 L455.26,260.95 L455.7,262.39 L456.17,263.82 L456.66,265.25 L457.17,266.67 L457.71,268.08 L458.27,269.48 L458.85,270.87 L459.46,272.26 L460.1,273.63 L460.76,274.98 L461.45,276.32 L462.16,277.65 L462.91,278.95 L463.69,280.23 L464.5,281.5 L465.33,282.73 L466.21,283.95 L467.11,285.13 L468.05,286.29 L469.02,287.42 L470.03,288.52 L471.08,289.58 L472.16,290.61 L473.27,291.61 L474.41,292.58 L475.57,293.52 L476.76,294.43 L477.97,295.32 L479.2,296.18 L480.44,297.02 L481.7,297.84 L482.96,298.64 L484.24,299.42 L485.52,300.17 L486.82,300.91 L488.12,301.63 L489.43,302.33 L490.76,303.01 L492.09,303.67 L493.43,304.31 L494.78,304.94 L496.14,305.55 L497.51,306.14 L498.88,306.71 L500.26,307.27 L501.65,307.81 L503.05,308.33 L504.46,308.84 L505.87,309.34 L507.29,309.82 L508.71,310.28 L510.15,310.73 L511.58,311.17 L513.03,311.59 L514.48,312 L515.93,312.39 L517.39,312.78 L518.86,313.15 L520.33,313.51 L521.8,313.85 L523.28,314.19 L524.77,314.51 L526.26,314.82 L527.75,315.13 L529.24,315.42 L530.74,315.7 L532.24,315.98 L533.75,316.24 L535.26,316.49 L536.77,316.74 L538.28,316.98 L539.8,317.21 L541.31,317.43 L542.83,317.64 L544.35,317.85 L545.88,318.05 L547.4,318.25 L548.92,318.44 L550.45,318.62 L551.97,318.8 L553.5,318.97 L555.02,319.14 L556.55,319.3 L558.07,319.46 L559.6,319.62 L561.12,319.77 L562.64,319.92 L564.17,320.06 L565.69,320.2 L567.2,320.35 L568.72,320.48 L570.24,320.62 L571.75,320.76 L573.26,320.89 L574.77,321.03 L576.27,321.16 L577.77,321.3 L579.27,321.43 L580.77,321.56 L582.26,321.7 L583.74,321.84 L585.23,321.98 L586.71,322.12 L588.18,322.26 L589.65,322.41 L591.11,322.55 L592.57,322.71 L594.03,322.86 L595.48,323.02 L596.92,323.18 L598.36,323.35 L599.79,323.52 L601.21,323.7" fill="none" stroke="#0000f0" stroke-width="2.0" stroke-linecap="butt" stroke-linejoin="round"/>
<path d="M447.89,195.07 L448.04,196.53 L448.18,198 L448.32,199.47 L448.45,200.94 L448.57,202.43 L448.69,203.91 L448.81,205.41 L448.92,206.9 L449.03,208.41 L449.14,209.91 L449.24,211.42 L449.35,212.94 L449.45,214.45 L449.56,215.97 L449.67,217.5 L449.78,219.02 L449.89,220.55 L450,222.08 L450.12,223.61 L450.24,225.14 L450.37,226.67 L450.5,228.2 L450.64,229.73 L450.79,231.27 L450.94,232.8 L451.1,234.33 L451.28,235.85 L451.46,237.38 L451.65,238.91 L451.85,240.43 L452.07,241.95 L452.29,243.47 L452.53,244.98 L452.78,246.49 L453.05,248 L453.33,249.5 L453.63,251 L453.94,252.49 L454.27,253.98 L454.62,255.46 L454.99,256.94 L455.37,258.41 L455.78,259.87 L456.2,261.33 L456.65,262.78 L457.11,264.22 L457.6,265.66 L458.11,267.09 L458.65,268.5 L459.21,269.91 L459.79,271.31 L460.4,272.7 L461.04,274.08 L461.7,275.44 L462.39,276.78 L463.11,278.11 L463.86,279.42 L464.64,280.71 L465.45,281.97 L466.29,283.22 L467.16,284.44 L468.07,285.63 L469.02,286.79 L469.99,287.93 L471.01,289.03 L472.06,290.1 L473.14,291.15 L474.26,292.16 L475.4,293.14 L476.57,294.1 L477.76,295.03 L478.97,295.93 L480.19,296.81 L481.43,297.67 L482.68,298.51 L483.95,299.32 L485.22,300.12 L486.5,300.89 L487.8,301.65 L489.1,302.38 L490.42,303.1 L491.74,303.79 L493.08,304.47 L494.42,305.13 L495.77,305.77 L497.13,306.39 L498.5,306.99 L499.88,307.58 L501.27,308.15 L502.66,308.7 L504.07,309.24 L505.47,309.76 L506.89,310.27 L508.32,310.76 L509.75,311.24 L511.18,311.7 L512.63,312.14 L514.08,312.57 L515.53,312.99 L517,313.4 L518.46,313.79 L519.93,314.17 L521.41,314.54 L522.89,314.89 L524.38,315.24 L525.87,315.57 L527.37,315.89 L528.87,316.2 L530.37,316.5 L531.88,316.79 L533.39,317.07 L534.9,317.34 L536.42,317.6 L537.94,317.85 L539.46,318.09 L540.98,318.33 L542.51,318.56 L544.04,318.77 L545.57,318.99 L547.1,319.19 L548.63,319.39 L550.16,319.58 L551.69,319.77 L553.23,319.95 L554.76,320.13 L556.29,320.3 L557.83,320.46 L559.36,320.62 L560.89,320.78 L562.42,320.94 L563.95,321.09 L565.48,321.23 L567.01,321.38 L568.54,321.52 L570.06,321.66 L571.58,321.8 L573.1,321.93 L574.62,322.07 L576.13,322.21 L577.64,322.34 L579.15,322.47 L580.65,322.61 L582.15,322.74 L583.65,322.88 L585.14,323.02 L586.63,323.15 L588.11,323.29 L589.59,323.44 L591.06,323.58 L592.53,323.73 L593.99,323.88 L595.44,324.03 L596.9,324.19 L598.34,324.35 L599.78,324.52 L601.21,324.69" fill="none" stroke="#008000" stroke-width="2.0" stroke-linecap="butt" stroke-linejoin="round"/>
</g>
<circle cx="449.1" cy="217.5" r="2.8" fill="#f00000"/>
<circle cx="480.8" cy="297.9" r="2.8" fill="#f00000"/>
<circle cx="538.2" cy="317.5" r="2.8" fill="#f00000"/>
<circle cx="461.8" cy="276.3" r="2.6" fill="#fff" stroke="#888" stroke-width="0.7"/>
<circle cx="501.8" cy="308.4" r="2.6" fill="#fff" stroke="#888" stroke-width="0.7"/>
<text x="452.5" y="221.53" font-size="12.5" textLength="17" lengthAdjust="spacingAndGlyphs">(S)</text>
<text x="449.6" y="311.62" font-size="12.5" textLength="30.4" lengthAdjust="spacingAndGlyphs">(S/R)</text>
<text x="540.9" y="312.23" font-size="12.5" textLength="18" lengthAdjust="spacingAndGlyphs">(R)</text>
<rect x="77.4" y="199.2" width="107.8" height="69" fill="#fff"/>
<path d="M77.4,199.2 H185.2 V268.2 H77.4 Z M77.4,268.2 v-1.6 M77.4,199.2 v1.6 M90.88,268.2 v-1.6 M90.88,199.2 v1.6 M104.35,268.2 v-1.6 M104.35,199.2 v1.6 M117.83,268.2 v-1.6 M117.83,199.2 v1.6 M131.3,268.2 v-1.6 M131.3,199.2 v1.6 M144.77,268.2 v-1.6 M144.77,199.2 v1.6 M158.25,268.2 v-1.6 M158.25,199.2 v1.6 M171.72,268.2 v-1.6 M171.72,199.2 v1.6 M185.2,268.2 v-1.6 M185.2,199.2 v1.6 M77.4,210.6 h1.6 M185.2,210.6 h-1.6 M77.4,226.2 h1.6 M185.2,226.2 h-1.6 M77.4,241.8 h1.6 M185.2,241.8 h-1.6 M77.4,257.4 h1.6 M185.2,257.4 h-1.6 " fill="none" stroke="#666666" stroke-width="1.0"/>
<clipPath id="ci77"><rect x="77.4" y="198.7" width="107.8" height="70"/></clipPath>
<path clip-path="url(#ci77)" d="M77.34,221.23 L77.76,223.62 L78.26,225.5 L78.84,226.9 L79.47,227.82 L80.14,228.28 L80.82,228.3 L81.49,227.9 L82.18,227.15 L82.87,226.11 L83.58,224.84 L84.31,223.4 L85.07,221.87 L85.85,220.29 L86.67,218.72 L87.53,217.18 L88.43,215.72 L89.39,214.36 L90.41,213.16 L91.49,212.14 L92.64,211.34 L93.86,210.81 L95.12,210.54 L96.39,210.57 L97.64,210.87 L98.87,211.43 L100.07,212.19 L101.24,213.14 L102.37,214.23 L103.45,215.42 L104.49,216.7 L105.47,218.01 L106.39,219.33 L107.26,220.66 L108.08,221.98 L108.86,223.31 L109.6,224.64 L110.32,225.96 L111.01,227.29 L111.69,228.62 L112.37,229.94 L113.04,231.26 L113.72,232.58 L114.41,233.9 L115.12,235.21 L115.85,236.52 L116.59,237.82 L117.34,239.13 L118.12,240.42 L118.9,241.72 L119.7,243.01 L120.51,244.29 L121.34,245.57 L122.17,246.84 L123.02,248.11 L123.87,249.38 L124.74,250.64 L125.61,251.89 L126.49,253.13 L127.38,254.38 L128.28,255.61 L129.19,256.83 L130.12,258.03 L131.07,259.21 L132.07,260.34 L133.11,261.43 L134.21,262.46 L135.37,263.43 L136.6,264.32 L137.92,265.13 L139.32,265.84 L140.77,266.45 L142.26,266.93 L143.77,267.28 L145.26,267.47 L146.73,267.49 L148.15,267.34 L149.51,267.02 L150.83,266.53 L152.09,265.9 L153.31,265.15 L154.48,264.27 L155.62,263.29 L156.71,262.23 L157.76,261.08 L158.78,259.88 L159.76,258.63 L160.71,257.35 L161.64,256.04 L162.53,254.74 L163.4,253.42 L164.25,252.11 L165.07,250.8 L165.86,249.48 L166.64,248.17 L167.39,246.85 L168.12,245.52 L168.84,244.2 L169.53,242.87 L170.21,241.53 L170.86,240.2 L171.51,238.85 L172.13,237.51 L172.75,236.15 L173.35,234.8 L173.93,233.43 L174.51,232.06 L175.07,230.68 L175.63,229.3 L176.17,227.91 L176.71,226.51 L177.24,225.1 L177.76,223.69 L178.28,222.26 L178.8,220.83 L179.31,219.39 L179.81,217.94 L180.31,216.49 L180.8,215.03 L181.29,213.57 L181.76,212.1 L182.22,210.64 L182.68,209.17 L183.12,207.71 L183.55,206.25 L183.97,204.79 L184.37,203.34 L184.76,201.9 L185.14,200.46 L185.49,199.03" fill="none" stroke="#000" stroke-width="1.3" stroke-linejoin="round"/>
<circle cx="80.6" cy="229.6" r="2.1" fill="#f00000"/>
<circle cx="146.7" cy="268.1" r="2.1" fill="#f00000"/>
<circle cx="96.3" cy="209.8" r="2.1" fill="#fff" stroke="#777" stroke-width="0.6"/>
<text x="77.4" y="276.6" font-size="10" text-anchor="middle" font-weight="normal" fill="#000" textLength="6.11" lengthAdjust="spacingAndGlyphs">0</text>
<text x="104.35" y="276.6" font-size="10" text-anchor="middle" font-weight="normal" fill="#000" textLength="6.11" lengthAdjust="spacingAndGlyphs">2</text>
<text x="131.3" y="276.6" font-size="10" text-anchor="middle" font-weight="normal" fill="#000" textLength="6.11" lengthAdjust="spacingAndGlyphs">4</text>
<text x="158.25" y="276.6" font-size="10" text-anchor="middle" font-weight="normal" fill="#000" textLength="6.11" lengthAdjust="spacingAndGlyphs">6</text>
<text x="185.2" y="276.6" font-size="10" text-anchor="middle" font-weight="normal" fill="#000" textLength="6.11" lengthAdjust="spacingAndGlyphs">8</text>
<text transform="translate(74.2 280.7) rotate(-90)" x="0" y="0" font-size="10" textLength="83.2" lengthAdjust="spacingAndGlyphs">Effective Potential</text>
<text x="95.9" y="285.8" font-size="9.8" textLength="68.3" lengthAdjust="spacingAndGlyphs"><tspan dy="-0" font-size="9.8">N (10</tspan><tspan dy="-3.8" font-size="8.62">3</tspan><tspan dy="3.8" font-size="9.8">  molec)</tspan></text>
<rect x="285.6" y="199.2" width="106.7" height="68.8" fill="#fff"/>
<path d="M285.6,199.2 H392.3 V268 H285.6 Z M285.6,268 v-1.6 M285.6,199.2 v1.6 M298.94,268 v-1.6 M298.94,199.2 v1.6 M312.28,268 v-1.6 M312.28,199.2 v1.6 M325.61,268 v-1.6 M325.61,199.2 v1.6 M338.95,268 v-1.6 M338.95,199.2 v1.6 M352.29,268 v-1.6 M352.29,199.2 v1.6 M365.62,268 v-1.6 M365.62,199.2 v1.6 M378.96,268 v-1.6 M378.96,199.2 v1.6 M392.3,268 v-1.6 M392.3,199.2 v1.6 M285.6,210.6 h1.6 M392.3,210.6 h-1.6 M285.6,226.2 h1.6 M392.3,226.2 h-1.6 M285.6,241.8 h1.6 M392.3,241.8 h-1.6 M285.6,257.4 h1.6 M392.3,257.4 h-1.6 " fill="none" stroke="#666666" stroke-width="1.0"/>
<clipPath id="ci285"><rect x="285.6" y="198.7" width="106.7" height="69.8"/></clipPath>
<path clip-path="url(#ci285)" d="M285.43,222.21 L285.79,223.71 L286.12,225.22 L286.44,226.72 L286.74,228.22 L287.03,229.72 L287.31,231.22 L287.59,232.71 L287.88,234.21 L288.16,235.7 L288.46,237.19 L288.76,238.67 L289.09,240.15 L289.43,241.62 L289.8,243.09 L290.19,244.55 L290.61,246 L291.07,247.45 L291.57,248.89 L292.11,250.33 L292.7,251.75 L293.33,253.17 L294.02,254.58 L294.77,255.98 L295.58,257.36 L296.45,258.74 L297.4,260.1 L298.4,261.43 L299.47,262.7 L300.58,263.87 L301.75,264.92 L302.95,265.83 L304.19,266.55 L305.46,267.07 L306.74,267.35 L308.05,267.36 L309.36,267.1 L310.67,266.59 L311.96,265.9 L313.21,265.06 L314.41,264.15 L315.56,263.17 L316.65,262.15 L317.69,261.08 L318.68,259.95 L319.62,258.79 L320.52,257.58 L321.37,256.34 L322.18,255.05 L322.95,253.74 L323.69,252.39 L324.39,251.02 L325.06,249.61 L325.7,248.19 L326.32,246.75 L326.9,245.28 L327.47,243.8 L328.01,242.31 L328.54,240.81 L329.05,239.3 L329.55,237.79 L330.04,236.27 L330.51,234.75 L330.98,233.24 L331.45,231.73 L331.91,230.23 L332.38,228.74 L332.84,227.27 L333.31,225.81 L333.79,224.36 L334.26,222.93 L334.74,221.51 L335.23,220.1 L335.71,218.69 L336.19,217.29 L336.67,215.89 L337.14,214.5 L337.62,213.1 L338.08,211.7 L338.54,210.29 L339,208.87 L339.44,207.45 L339.88,206.02 L340.31,204.57 L340.72,203.1 L341.13,201.62 L341.52,200.12 L341.89,198.59 L342.25,197.05 L342.6,195.47 L342.92,193.87" fill="none" stroke="#000" stroke-width="1.3" stroke-linejoin="round"/>
<circle cx="308.5" cy="268" r="2.1" fill="#f00000"/>
<text x="285.6" y="276.6" font-size="10" text-anchor="middle" font-weight="normal" fill="#000" textLength="6.11" lengthAdjust="spacingAndGlyphs">0</text>
<text x="312.28" y="276.6" font-size="10" text-anchor="middle" font-weight="normal" fill="#000" textLength="6.11" lengthAdjust="spacingAndGlyphs">2</text>
<text x="338.95" y="276.6" font-size="10" text-anchor="middle" font-weight="normal" fill="#000" textLength="6.11" lengthAdjust="spacingAndGlyphs">4</text>
<text x="365.62" y="276.6" font-size="10" text-anchor="middle" font-weight="normal" fill="#000" textLength="6.11" lengthAdjust="spacingAndGlyphs">6</text>
<text x="392.3" y="276.6" font-size="10" text-anchor="middle" font-weight="normal" fill="#000" textLength="6.11" lengthAdjust="spacingAndGlyphs">8</text>
<text transform="translate(281.5 280.7) rotate(-90)" x="0" y="0" font-size="10" textLength="83.2" lengthAdjust="spacingAndGlyphs">Effective Potential</text>
<text x="307.5" y="285.8" font-size="9.8" textLength="67.8" lengthAdjust="spacingAndGlyphs"><tspan dy="-0" font-size="9.8">N (10</tspan><tspan dy="-3.8" font-size="8.62">3</tspan><tspan dy="3.8" font-size="9.8">  molec)</tspan></text>
<rect x="488.7" y="199.2" width="106.9" height="68.1" fill="#fff"/>
<path d="M488.7,199.2 H595.6 V267.3 H488.7 Z M488.7,267.3 v-1.6 M488.7,199.2 v1.6 M502.06,267.3 v-1.6 M502.06,199.2 v1.6 M515.42,267.3 v-1.6 M515.42,199.2 v1.6 M528.79,267.3 v-1.6 M528.79,199.2 v1.6 M542.15,267.3 v-1.6 M542.15,199.2 v1.6 M555.51,267.3 v-1.6 M555.51,199.2 v1.6 M568.88,267.3 v-1.6 M568.88,199.2 v1.6 M582.24,267.3 v-1.6 M582.24,199.2 v1.6 M595.6,267.3 v-1.6 M595.6,199.2 v1.6 M488.7,212.7 h1.6 M595.6,212.7 h-1.6 M488.7,226.3 h1.6 M595.6,226.3 h-1.6 M488.7,239.9 h1.6 M595.6,239.9 h-1.6 M488.7,253.5 h1.6 M595.6,253.5 h-1.6 " fill="none" stroke="#666666" stroke-width="1.0"/>
<clipPath id="ci488"><rect x="488.7" y="198.7" width="106.9" height="69.1"/></clipPath>
<path clip-path="url(#ci488)" d="M489.1,195 L489.14,196.53 L489.18,198.05 L489.23,199.57 L489.27,201.07 L489.32,202.58 L489.37,204.08 L489.42,205.58 L489.47,207.08 L489.52,208.58 L489.57,210.08 L489.62,211.59 L489.68,213.11 L489.73,214.63 L489.78,216.16 L489.82,217.7 L489.87,219.25 L489.92,220.81 L489.97,222.37 L490.02,223.93 L490.06,225.48 L490.12,227.03 L490.17,228.57 L490.23,230.09 L490.29,231.59 L490.35,233.07 L490.42,234.53 L490.5,235.96 L490.58,237.35 L490.66,238.72 L490.76,240.06 L490.86,241.4 L490.97,242.75 L491.09,244.15 L491.22,245.61 L491.37,247.15 L491.52,248.79 L491.69,250.55 L491.87,252.46 L492.07,254.5 L492.3,256.56 L492.58,258.47 L492.91,260.07 L493.31,261.2 L493.79,261.7 L494.38,261.42 L495.03,260.43 L495.71,258.97 L496.34,257.32 L496.87,255.7 L497.32,254.17 L497.68,252.69 L498,251.25 L498.28,249.8 L498.55,248.31 L498.83,246.75 L499.15,245.1 L499.54,243.41 L500.03,241.81 L500.65,240.41 L501.45,239.33 L502.42,238.69 L503.46,238.58 L504.46,239 L505.34,239.83 L506.05,240.96 L506.62,242.34 L507.1,243.9 L507.51,245.58 L507.91,247.33 L508.32,249.07 L508.78,250.77 L509.34,252.34 L510.03,253.75 L510.89,254.91 L511.95,255.79 L513.16,256.36 L514.45,256.61 L515.77,256.53 L517.03,256.12 L518.18,255.36 L519.24,254.33 L520.27,253.11 L521.32,251.8 L522.45,250.49 L523.65,249.25 L524.92,248.16 L526.21,247.29 L527.52,246.69 L528.82,246.45 L530.09,246.6 L531.31,247.13 L532.49,247.95 L533.61,249.01 L534.67,250.22 L535.67,251.51 L536.59,252.83 L537.45,254.11 L538.25,255.37 L539.04,256.59 L539.84,257.79 L540.66,258.96 L541.55,260.11 L542.51,261.25 L543.59,262.36 L544.79,263.46 L546.11,264.5 L547.5,265.44 L548.93,266.24 L550.36,266.83 L551.75,267.17 L553.06,267.22 L554.27,266.94 L555.38,266.37 L556.4,265.54 L557.33,264.5 L558.2,263.29 L559,261.94 L559.74,260.49 L560.44,258.99 L561.09,257.48 L561.72,255.98 L562.31,254.49 L562.87,253.01 L563.41,251.54 L563.92,250.07 L564.41,248.62 L564.87,247.17 L565.31,245.73 L565.73,244.29 L566.13,242.86 L566.51,241.42 L566.88,239.99 L567.24,238.56 L567.58,237.13 L567.91,235.69 L568.23,234.25 L568.55,232.81 L568.86,231.36 L569.16,229.9 L569.46,228.43 L569.76,226.96 L570.06,225.48 L570.35,223.99 L570.63,222.5 L570.92,221 L571.2,219.5 L571.48,217.99 L571.75,216.49 L572.02,214.98 L572.28,213.46 L572.54,211.95 L572.79,210.44 L573.04,208.93 L573.28,207.42 L573.52,205.91 L573.75,204.41 L573.97,202.91 L574.19,201.42 L574.4,199.93 L574.61,198.44 L574.81,196.97 L575,195.5 L575.18,194.04" fill="none" stroke="#000" stroke-width="1.3" stroke-linejoin="round"/>
<circle cx="494" cy="261.9" r="2.1" fill="#f00000"/>
<circle cx="514.2" cy="257.3" r="2.1" fill="#f00000"/>
<circle cx="552.6" cy="267.6" r="2.1" fill="#f00000"/>
<circle cx="503.2" cy="237.8" r="2.1" fill="#fff" stroke="#777" stroke-width="0.6"/>
<circle cx="528.9" cy="246.2" r="2.1" fill="#fff" stroke="#777" stroke-width="0.6"/>
<text x="488.7" y="276.6" font-size="10" text-anchor="middle" font-weight="normal" fill="#000" textLength="6.11" lengthAdjust="spacingAndGlyphs">0</text>
<text x="515.42" y="276.6" font-size="10" text-anchor="middle" font-weight="normal" fill="#000" textLength="6.11" lengthAdjust="spacingAndGlyphs">2</text>
<text x="542.15" y="276.6" font-size="10" text-anchor="middle" font-weight="normal" fill="#000" textLength="6.11" lengthAdjust="spacingAndGlyphs">4</text>
<text x="568.88" y="276.6" font-size="10" text-anchor="middle" font-weight="normal" fill="#000" textLength="6.11" lengthAdjust="spacingAndGlyphs">6</text>
<text x="595.6" y="276.6" font-size="10" text-anchor="middle" font-weight="normal" fill="#000" textLength="6.11" lengthAdjust="spacingAndGlyphs">8</text>
<text transform="translate(484.7 279.5) rotate(-90)" x="0" y="0" font-size="10" textLength="82.5" lengthAdjust="spacingAndGlyphs">Effective Potential</text>
<text x="510.7" y="285.8" font-size="9.8" textLength="67.6" lengthAdjust="spacingAndGlyphs"><tspan dy="-0" font-size="9.8">N (10</tspan><tspan dy="-3.8" font-size="8.62">3</tspan><tspan dy="3.8" font-size="9.8">  molec)</tspan></text>
</svg>
</body></html>
